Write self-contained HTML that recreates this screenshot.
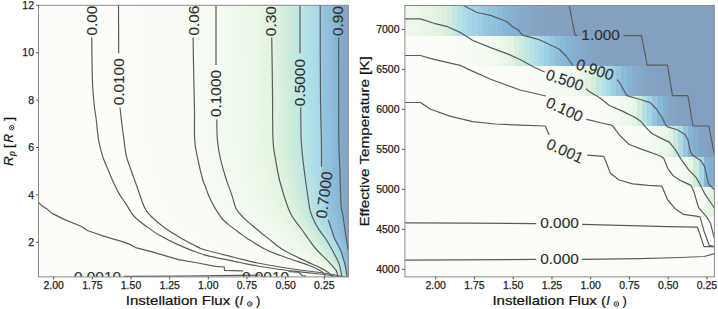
<!DOCTYPE html><html><head><meta charset="utf-8"><style>html,body{margin:0;padding:0;background:#fff;width:718px;height:309px;overflow:hidden}svg{display:block}</style></head><body><svg width="718" height="309" viewBox="0 0 718 309" font-family="'Liberation Sans', sans-serif"><defs><clipPath id="cl"><rect x="38.5" y="5.3" width="309.9" height="271.6"/></clipPath><clipPath id="cr"><rect x="404.9" y="5.5" width="309.5" height="271.4"/></clipPath><linearGradient id="gl0" gradientUnits="userSpaceOnUse" x1="38.50" y1="0" x2="348.40" y2="0"><stop offset="0.0000" stop-color="#fbfef8"/><stop offset="0.1710" stop-color="#fbfef8"/><stop offset="0.2582" stop-color="#fbfdf7"/><stop offset="0.4986" stop-color="#f8fcf5"/><stop offset="0.5728" stop-color="#f5fbf2"/><stop offset="0.6327" stop-color="#eff9ed"/><stop offset="0.6927" stop-color="#eaf7e6"/><stop offset="0.7527" stop-color="#e3f4e1"/><stop offset="0.7830" stop-color="#d8f0dc"/><stop offset="0.8134" stop-color="#cbebdd"/><stop offset="0.8438" stop-color="#bde6e2"/><stop offset="0.8759" stop-color="#b0dee6"/><stop offset="0.9080" stop-color="#a4d7e8"/><stop offset="0.9100" stop-color="#96c7df"/><stop offset="0.9387" stop-color="#8ebedb"/><stop offset="0.9674" stop-color="#86b6d7"/><stop offset="0.9693" stop-color="#84abcc"/><stop offset="1.0000" stop-color="#84a3c3"/></linearGradient><linearGradient id="gl1" gradientUnits="userSpaceOnUse" x1="38.50" y1="0" x2="348.40" y2="0"><stop offset="0.0000" stop-color="#fbfef8"/><stop offset="0.1711" stop-color="#fbfef8"/><stop offset="0.2582" stop-color="#fbfdf7"/><stop offset="0.4986" stop-color="#f8fcf5"/><stop offset="0.5728" stop-color="#f5fbf2"/><stop offset="0.6327" stop-color="#eff9ed"/><stop offset="0.6927" stop-color="#eaf7e6"/><stop offset="0.7527" stop-color="#e3f4e1"/><stop offset="0.7830" stop-color="#d8f0dc"/><stop offset="0.8134" stop-color="#cbebdd"/><stop offset="0.8438" stop-color="#bde6e2"/><stop offset="0.8759" stop-color="#b0dee6"/><stop offset="0.9081" stop-color="#a4d7e8"/><stop offset="0.9100" stop-color="#96c7df"/><stop offset="0.9387" stop-color="#8ebedb"/><stop offset="0.9674" stop-color="#86b6d7"/><stop offset="0.9693" stop-color="#84abcc"/><stop offset="1.0000" stop-color="#84a3c3"/></linearGradient><linearGradient id="gl2" gradientUnits="userSpaceOnUse" x1="38.50" y1="0" x2="348.40" y2="0"><stop offset="0.0000" stop-color="#fbfef8"/><stop offset="0.1711" stop-color="#fbfef8"/><stop offset="0.2582" stop-color="#fbfdf7"/><stop offset="0.4986" stop-color="#f8fcf5"/><stop offset="0.5728" stop-color="#f5fbf2"/><stop offset="0.6327" stop-color="#eff9ed"/><stop offset="0.6927" stop-color="#eaf7e6"/><stop offset="0.7527" stop-color="#e3f4e1"/><stop offset="0.7830" stop-color="#d8f0dc"/><stop offset="0.8134" stop-color="#cbebdd"/><stop offset="0.8438" stop-color="#bde6e2"/><stop offset="0.8760" stop-color="#b0dee6"/><stop offset="0.9081" stop-color="#a4d7e8"/><stop offset="0.9100" stop-color="#96c7df"/><stop offset="0.9387" stop-color="#8ebedb"/><stop offset="0.9674" stop-color="#86b6d7"/><stop offset="0.9693" stop-color="#84abcc"/><stop offset="1.0000" stop-color="#84a3c3"/></linearGradient><linearGradient id="gl3" gradientUnits="userSpaceOnUse" x1="38.50" y1="0" x2="348.40" y2="0"><stop offset="0.0000" stop-color="#fbfef8"/><stop offset="0.1712" stop-color="#fbfef8"/><stop offset="0.2582" stop-color="#fbfdf7"/><stop offset="0.4986" stop-color="#f8fcf5"/><stop offset="0.5728" stop-color="#f5fbf2"/><stop offset="0.6327" stop-color="#eff9ed"/><stop offset="0.6927" stop-color="#eaf7e6"/><stop offset="0.7527" stop-color="#e3f4e1"/><stop offset="0.7830" stop-color="#d8f0dc"/><stop offset="0.8134" stop-color="#cbebdd"/><stop offset="0.8438" stop-color="#bde6e2"/><stop offset="0.8760" stop-color="#b0dee6"/><stop offset="0.9081" stop-color="#a4d7e8"/><stop offset="0.9100" stop-color="#96c7df"/><stop offset="0.9387" stop-color="#8ebedb"/><stop offset="0.9674" stop-color="#86b6d7"/><stop offset="0.9693" stop-color="#84abcc"/><stop offset="1.0000" stop-color="#84a3c3"/></linearGradient><linearGradient id="gl4" gradientUnits="userSpaceOnUse" x1="38.50" y1="0" x2="348.40" y2="0"><stop offset="0.0000" stop-color="#fbfef8"/><stop offset="0.1712" stop-color="#fbfef8"/><stop offset="0.2583" stop-color="#fbfdf7"/><stop offset="0.4986" stop-color="#f8fcf5"/><stop offset="0.5728" stop-color="#f5fbf2"/><stop offset="0.6327" stop-color="#eff9ed"/><stop offset="0.6927" stop-color="#eaf7e6"/><stop offset="0.7527" stop-color="#e3f4e1"/><stop offset="0.7830" stop-color="#d8f0dc"/><stop offset="0.8134" stop-color="#cbebdd"/><stop offset="0.8438" stop-color="#bde6e2"/><stop offset="0.8760" stop-color="#b0dee6"/><stop offset="0.9081" stop-color="#a4d7e8"/><stop offset="0.9101" stop-color="#96c7df"/><stop offset="0.9387" stop-color="#8ebedb"/><stop offset="0.9674" stop-color="#86b6d7"/><stop offset="0.9693" stop-color="#84abcc"/><stop offset="1.0000" stop-color="#84a3c3"/></linearGradient><linearGradient id="gl5" gradientUnits="userSpaceOnUse" x1="38.50" y1="0" x2="348.40" y2="0"><stop offset="0.0000" stop-color="#fbfef8"/><stop offset="0.1713" stop-color="#fbfef8"/><stop offset="0.2583" stop-color="#fbfdf7"/><stop offset="0.4987" stop-color="#f8fcf5"/><stop offset="0.5728" stop-color="#f5fbf2"/><stop offset="0.6327" stop-color="#eff9ed"/><stop offset="0.6927" stop-color="#eaf7e6"/><stop offset="0.7527" stop-color="#e3f4e1"/><stop offset="0.7830" stop-color="#d8f0dc"/><stop offset="0.8134" stop-color="#cbebdd"/><stop offset="0.8438" stop-color="#bde6e2"/><stop offset="0.8760" stop-color="#b0dee6"/><stop offset="0.9081" stop-color="#a4d7e8"/><stop offset="0.9101" stop-color="#96c7df"/><stop offset="0.9387" stop-color="#8ebedb"/><stop offset="0.9674" stop-color="#86b6d7"/><stop offset="0.9693" stop-color="#84abcc"/><stop offset="1.0000" stop-color="#84a3c3"/></linearGradient><linearGradient id="gl6" gradientUnits="userSpaceOnUse" x1="38.50" y1="0" x2="348.40" y2="0"><stop offset="0.0000" stop-color="#fbfef8"/><stop offset="0.1713" stop-color="#fbfef8"/><stop offset="0.2583" stop-color="#fbfdf7"/><stop offset="0.4987" stop-color="#f8fcf5"/><stop offset="0.5728" stop-color="#f5fbf2"/><stop offset="0.6327" stop-color="#eff9ed"/><stop offset="0.6927" stop-color="#eaf7e6"/><stop offset="0.7527" stop-color="#e3f4e1"/><stop offset="0.7830" stop-color="#d8f0dc"/><stop offset="0.8134" stop-color="#cbebdd"/><stop offset="0.8438" stop-color="#bde6e2"/><stop offset="0.8760" stop-color="#b0dee6"/><stop offset="0.9082" stop-color="#a4d7e8"/><stop offset="0.9101" stop-color="#96c7df"/><stop offset="0.9388" stop-color="#8ebedb"/><stop offset="0.9674" stop-color="#86b6d7"/><stop offset="0.9693" stop-color="#84abcc"/><stop offset="1.0000" stop-color="#84a3c3"/></linearGradient><linearGradient id="gl7" gradientUnits="userSpaceOnUse" x1="38.50" y1="0" x2="348.40" y2="0"><stop offset="0.0000" stop-color="#fbfef8"/><stop offset="0.1714" stop-color="#fbfef8"/><stop offset="0.2583" stop-color="#fbfdf7"/><stop offset="0.4987" stop-color="#f8fcf5"/><stop offset="0.5728" stop-color="#f5fbf2"/><stop offset="0.6327" stop-color="#eff9ed"/><stop offset="0.6927" stop-color="#eaf7e6"/><stop offset="0.7527" stop-color="#e3f4e1"/><stop offset="0.7830" stop-color="#d8f0dc"/><stop offset="0.8134" stop-color="#cbebdd"/><stop offset="0.8438" stop-color="#bde6e2"/><stop offset="0.8760" stop-color="#b0dee6"/><stop offset="0.9082" stop-color="#a4d7e8"/><stop offset="0.9101" stop-color="#96c7df"/><stop offset="0.9388" stop-color="#8ebedb"/><stop offset="0.9674" stop-color="#86b6d7"/><stop offset="0.9693" stop-color="#84abcc"/><stop offset="1.0000" stop-color="#84a3c3"/></linearGradient><linearGradient id="gl8" gradientUnits="userSpaceOnUse" x1="38.50" y1="0" x2="348.40" y2="0"><stop offset="0.0000" stop-color="#fbfef8"/><stop offset="0.1714" stop-color="#fbfef8"/><stop offset="0.2584" stop-color="#fbfdf7"/><stop offset="0.4987" stop-color="#f8fcf5"/><stop offset="0.5728" stop-color="#f5fbf2"/><stop offset="0.6327" stop-color="#eff9ed"/><stop offset="0.6927" stop-color="#eaf7e6"/><stop offset="0.7527" stop-color="#e3f4e1"/><stop offset="0.7830" stop-color="#d8f0dc"/><stop offset="0.8134" stop-color="#cbebdd"/><stop offset="0.8438" stop-color="#bde6e2"/><stop offset="0.8760" stop-color="#b0dee6"/><stop offset="0.9082" stop-color="#a4d7e8"/><stop offset="0.9101" stop-color="#96c7df"/><stop offset="0.9388" stop-color="#8ebedb"/><stop offset="0.9674" stop-color="#86b6d7"/><stop offset="0.9693" stop-color="#84abcc"/><stop offset="1.0000" stop-color="#84a3c3"/></linearGradient><linearGradient id="gl9" gradientUnits="userSpaceOnUse" x1="38.50" y1="0" x2="348.40" y2="0"><stop offset="0.0000" stop-color="#fbfef8"/><stop offset="0.1715" stop-color="#fbfef8"/><stop offset="0.2584" stop-color="#fbfdf7"/><stop offset="0.4987" stop-color="#f8fcf5"/><stop offset="0.5728" stop-color="#f5fbf2"/><stop offset="0.6327" stop-color="#eff9ed"/><stop offset="0.6927" stop-color="#eaf7e6"/><stop offset="0.7527" stop-color="#e3f4e1"/><stop offset="0.7830" stop-color="#d8f0dc"/><stop offset="0.8134" stop-color="#cbebdd"/><stop offset="0.8438" stop-color="#bde6e2"/><stop offset="0.8760" stop-color="#b0dee6"/><stop offset="0.9082" stop-color="#a4d7e8"/><stop offset="0.9102" stop-color="#96c7df"/><stop offset="0.9388" stop-color="#8ebedb"/><stop offset="0.9674" stop-color="#86b6d7"/><stop offset="0.9693" stop-color="#84abcc"/><stop offset="1.0000" stop-color="#84a3c3"/></linearGradient><linearGradient id="gl10" gradientUnits="userSpaceOnUse" x1="38.50" y1="0" x2="348.40" y2="0"><stop offset="0.0000" stop-color="#fbfef8"/><stop offset="0.1715" stop-color="#fbfef8"/><stop offset="0.2584" stop-color="#fbfdf7"/><stop offset="0.4988" stop-color="#f8fcf5"/><stop offset="0.5728" stop-color="#f5fbf2"/><stop offset="0.6327" stop-color="#eff9ed"/><stop offset="0.6927" stop-color="#eaf7e6"/><stop offset="0.7527" stop-color="#e3f4e1"/><stop offset="0.7830" stop-color="#d8f0dc"/><stop offset="0.8134" stop-color="#cbebdd"/><stop offset="0.8438" stop-color="#bde6e2"/><stop offset="0.8760" stop-color="#b0dee6"/><stop offset="0.9082" stop-color="#a4d7e8"/><stop offset="0.9102" stop-color="#96c7df"/><stop offset="0.9388" stop-color="#8ebedb"/><stop offset="0.9674" stop-color="#86b6d7"/><stop offset="0.9693" stop-color="#84abcc"/><stop offset="1.0000" stop-color="#84a3c3"/></linearGradient><linearGradient id="gl11" gradientUnits="userSpaceOnUse" x1="38.50" y1="0" x2="348.40" y2="0"><stop offset="0.0000" stop-color="#fbfef8"/><stop offset="0.1716" stop-color="#fbfef8"/><stop offset="0.2585" stop-color="#fbfdf7"/><stop offset="0.4988" stop-color="#f8fcf5"/><stop offset="0.5728" stop-color="#f5fbf2"/><stop offset="0.6327" stop-color="#eff9ed"/><stop offset="0.6927" stop-color="#eaf7e6"/><stop offset="0.7527" stop-color="#e3f4e1"/><stop offset="0.7830" stop-color="#d8f0dc"/><stop offset="0.8134" stop-color="#cbebdd"/><stop offset="0.8438" stop-color="#bde6e2"/><stop offset="0.8760" stop-color="#b0dee6"/><stop offset="0.9083" stop-color="#a4d7e8"/><stop offset="0.9102" stop-color="#96c7df"/><stop offset="0.9388" stop-color="#8ebedb"/><stop offset="0.9674" stop-color="#86b6d7"/><stop offset="0.9693" stop-color="#84abcc"/><stop offset="1.0000" stop-color="#84a3c3"/></linearGradient><linearGradient id="gl12" gradientUnits="userSpaceOnUse" x1="38.50" y1="0" x2="348.40" y2="0"><stop offset="0.0000" stop-color="#fbfef8"/><stop offset="0.1716" stop-color="#fbfef8"/><stop offset="0.2585" stop-color="#fbfdf7"/><stop offset="0.4988" stop-color="#f8fcf5"/><stop offset="0.5728" stop-color="#f5fbf2"/><stop offset="0.6327" stop-color="#eff9ed"/><stop offset="0.6927" stop-color="#eaf7e6"/><stop offset="0.7527" stop-color="#e3f4e1"/><stop offset="0.7830" stop-color="#d8f0dc"/><stop offset="0.8134" stop-color="#cbebdd"/><stop offset="0.8438" stop-color="#bde6e2"/><stop offset="0.8761" stop-color="#b0dee6"/><stop offset="0.9083" stop-color="#a4d7e8"/><stop offset="0.9102" stop-color="#96c7df"/><stop offset="0.9388" stop-color="#8ebedb"/><stop offset="0.9674" stop-color="#86b6d7"/><stop offset="0.9693" stop-color="#84abcc"/><stop offset="1.0000" stop-color="#84a3c3"/></linearGradient><linearGradient id="gl13" gradientUnits="userSpaceOnUse" x1="38.50" y1="0" x2="348.40" y2="0"><stop offset="0.0000" stop-color="#fbfef8"/><stop offset="0.1717" stop-color="#fbfef8"/><stop offset="0.2585" stop-color="#fbfdf7"/><stop offset="0.4988" stop-color="#f8fcf5"/><stop offset="0.5728" stop-color="#f5fbf2"/><stop offset="0.6327" stop-color="#eff9ed"/><stop offset="0.6927" stop-color="#eaf7e6"/><stop offset="0.7527" stop-color="#e3f4e1"/><stop offset="0.7830" stop-color="#d8f0dc"/><stop offset="0.8134" stop-color="#cbebdd"/><stop offset="0.8438" stop-color="#bde6e2"/><stop offset="0.8761" stop-color="#b0dee6"/><stop offset="0.9083" stop-color="#a4d7e8"/><stop offset="0.9102" stop-color="#96c7df"/><stop offset="0.9388" stop-color="#8ebedb"/><stop offset="0.9674" stop-color="#86b6d7"/><stop offset="0.9693" stop-color="#84abcc"/><stop offset="1.0000" stop-color="#84a3c3"/></linearGradient><linearGradient id="gl14" gradientUnits="userSpaceOnUse" x1="38.50" y1="0" x2="348.40" y2="0"><stop offset="0.0000" stop-color="#fbfef8"/><stop offset="0.1717" stop-color="#fbfef8"/><stop offset="0.2585" stop-color="#fbfdf7"/><stop offset="0.4988" stop-color="#f8fcf5"/><stop offset="0.5728" stop-color="#f5fbf2"/><stop offset="0.6327" stop-color="#eff9ed"/><stop offset="0.6927" stop-color="#eaf7e6"/><stop offset="0.7527" stop-color="#e3f4e1"/><stop offset="0.7830" stop-color="#d8f0dc"/><stop offset="0.8134" stop-color="#cbebdd"/><stop offset="0.8438" stop-color="#bde6e2"/><stop offset="0.8761" stop-color="#b0dee6"/><stop offset="0.9083" stop-color="#a4d7e8"/><stop offset="0.9103" stop-color="#96c7df"/><stop offset="0.9388" stop-color="#8ebedb"/><stop offset="0.9674" stop-color="#86b6d7"/><stop offset="0.9693" stop-color="#84abcc"/><stop offset="1.0000" stop-color="#84a3c3"/></linearGradient><linearGradient id="gl15" gradientUnits="userSpaceOnUse" x1="38.50" y1="0" x2="348.40" y2="0"><stop offset="0.0000" stop-color="#fbfef8"/><stop offset="0.1718" stop-color="#fbfef8"/><stop offset="0.2586" stop-color="#fbfdf7"/><stop offset="0.4989" stop-color="#f8fcf5"/><stop offset="0.5728" stop-color="#f5fbf2"/><stop offset="0.6327" stop-color="#eff9ed"/><stop offset="0.6927" stop-color="#eaf7e6"/><stop offset="0.7527" stop-color="#e3f4e1"/><stop offset="0.7830" stop-color="#d8f0dc"/><stop offset="0.8134" stop-color="#cbebdd"/><stop offset="0.8438" stop-color="#bde6e2"/><stop offset="0.8761" stop-color="#b0dee6"/><stop offset="0.9083" stop-color="#a4d7e8"/><stop offset="0.9103" stop-color="#96c7df"/><stop offset="0.9388" stop-color="#8ebedb"/><stop offset="0.9674" stop-color="#86b6d7"/><stop offset="0.9693" stop-color="#84abcc"/><stop offset="1.0000" stop-color="#84a3c3"/></linearGradient><linearGradient id="gl16" gradientUnits="userSpaceOnUse" x1="38.50" y1="0" x2="348.40" y2="0"><stop offset="0.0000" stop-color="#fbfef8"/><stop offset="0.1718" stop-color="#fbfef8"/><stop offset="0.2586" stop-color="#fbfdf7"/><stop offset="0.4989" stop-color="#f8fcf5"/><stop offset="0.5728" stop-color="#f5fbf2"/><stop offset="0.6327" stop-color="#eff9ed"/><stop offset="0.6927" stop-color="#eaf7e6"/><stop offset="0.7527" stop-color="#e3f4e1"/><stop offset="0.7831" stop-color="#d8f0dc"/><stop offset="0.8134" stop-color="#cbebdd"/><stop offset="0.8438" stop-color="#bde6e2"/><stop offset="0.8761" stop-color="#b0dee6"/><stop offset="0.9084" stop-color="#a4d7e8"/><stop offset="0.9103" stop-color="#96c7df"/><stop offset="0.9389" stop-color="#8ebedb"/><stop offset="0.9674" stop-color="#86b6d7"/><stop offset="0.9693" stop-color="#84abcc"/><stop offset="1.0000" stop-color="#84a3c3"/></linearGradient><linearGradient id="gl17" gradientUnits="userSpaceOnUse" x1="38.50" y1="0" x2="348.40" y2="0"><stop offset="0.0000" stop-color="#fbfef8"/><stop offset="0.1719" stop-color="#fbfef8"/><stop offset="0.2586" stop-color="#fbfdf7"/><stop offset="0.4990" stop-color="#f8fcf5"/><stop offset="0.5728" stop-color="#f5fbf2"/><stop offset="0.6328" stop-color="#eff9ed"/><stop offset="0.6928" stop-color="#eaf7e6"/><stop offset="0.7528" stop-color="#e3f4e1"/><stop offset="0.7831" stop-color="#d8f0dc"/><stop offset="0.8135" stop-color="#cbebdd"/><stop offset="0.8438" stop-color="#bde6e2"/><stop offset="0.8761" stop-color="#b0dee6"/><stop offset="0.9084" stop-color="#a4d7e8"/><stop offset="0.9103" stop-color="#96c7df"/><stop offset="0.9389" stop-color="#8ebedb"/><stop offset="0.9674" stop-color="#86b6d7"/><stop offset="0.9694" stop-color="#84abcc"/><stop offset="1.0000" stop-color="#84a3c3"/></linearGradient><linearGradient id="gl18" gradientUnits="userSpaceOnUse" x1="38.50" y1="0" x2="348.40" y2="0"><stop offset="0.0000" stop-color="#fbfef8"/><stop offset="0.1720" stop-color="#fbfef8"/><stop offset="0.2586" stop-color="#fbfdf7"/><stop offset="0.4991" stop-color="#f8fcf5"/><stop offset="0.5728" stop-color="#f5fbf2"/><stop offset="0.6328" stop-color="#eff9ed"/><stop offset="0.6928" stop-color="#eaf7e6"/><stop offset="0.7529" stop-color="#e3f4e1"/><stop offset="0.7832" stop-color="#d8f0dc"/><stop offset="0.8135" stop-color="#cbebdd"/><stop offset="0.8438" stop-color="#bde6e2"/><stop offset="0.8761" stop-color="#b0dee6"/><stop offset="0.9084" stop-color="#a4d7e8"/><stop offset="0.9103" stop-color="#96c7df"/><stop offset="0.9389" stop-color="#8ebedb"/><stop offset="0.9674" stop-color="#86b6d7"/><stop offset="0.9694" stop-color="#84abcc"/><stop offset="1.0000" stop-color="#84a3c3"/></linearGradient><linearGradient id="gl19" gradientUnits="userSpaceOnUse" x1="38.50" y1="0" x2="348.40" y2="0"><stop offset="0.0000" stop-color="#fbfef8"/><stop offset="0.1721" stop-color="#fbfef8"/><stop offset="0.2587" stop-color="#fbfdf7"/><stop offset="0.4992" stop-color="#f8fcf5"/><stop offset="0.5728" stop-color="#f5fbf2"/><stop offset="0.6328" stop-color="#eff9ed"/><stop offset="0.6929" stop-color="#eaf7e6"/><stop offset="0.7530" stop-color="#e3f4e1"/><stop offset="0.7832" stop-color="#d8f0dc"/><stop offset="0.8135" stop-color="#cbebdd"/><stop offset="0.8438" stop-color="#bde6e2"/><stop offset="0.8761" stop-color="#b0dee6"/><stop offset="0.9084" stop-color="#a4d7e8"/><stop offset="0.9104" stop-color="#96c7df"/><stop offset="0.9389" stop-color="#8ebedb"/><stop offset="0.9674" stop-color="#86b6d7"/><stop offset="0.9694" stop-color="#84abcc"/><stop offset="1.0000" stop-color="#84a3c3"/></linearGradient><linearGradient id="gl20" gradientUnits="userSpaceOnUse" x1="38.50" y1="0" x2="348.40" y2="0"><stop offset="0.0000" stop-color="#fbfef8"/><stop offset="0.1721" stop-color="#fbfef8"/><stop offset="0.2587" stop-color="#fbfdf7"/><stop offset="0.4993" stop-color="#f8fcf5"/><stop offset="0.5728" stop-color="#f5fbf2"/><stop offset="0.6329" stop-color="#eff9ed"/><stop offset="0.6930" stop-color="#eaf7e6"/><stop offset="0.7531" stop-color="#e3f4e1"/><stop offset="0.7833" stop-color="#d8f0dc"/><stop offset="0.8136" stop-color="#cbebdd"/><stop offset="0.8438" stop-color="#bde6e2"/><stop offset="0.8761" stop-color="#b0dee6"/><stop offset="0.9085" stop-color="#a4d7e8"/><stop offset="0.9104" stop-color="#96c7df"/><stop offset="0.9389" stop-color="#8ebedb"/><stop offset="0.9675" stop-color="#86b6d7"/><stop offset="0.9694" stop-color="#84abcc"/><stop offset="1.0000" stop-color="#84a3c3"/></linearGradient><linearGradient id="gl21" gradientUnits="userSpaceOnUse" x1="38.50" y1="0" x2="348.40" y2="0"><stop offset="0.0000" stop-color="#fbfef8"/><stop offset="0.1722" stop-color="#fbfef8"/><stop offset="0.2587" stop-color="#fbfdf7"/><stop offset="0.4994" stop-color="#f8fcf5"/><stop offset="0.5728" stop-color="#f5fbf2"/><stop offset="0.6329" stop-color="#eff9ed"/><stop offset="0.6930" stop-color="#eaf7e6"/><stop offset="0.7531" stop-color="#e3f4e1"/><stop offset="0.7834" stop-color="#d8f0dc"/><stop offset="0.8136" stop-color="#cbebdd"/><stop offset="0.8438" stop-color="#bde6e2"/><stop offset="0.8761" stop-color="#b0dee6"/><stop offset="0.9085" stop-color="#a4d7e8"/><stop offset="0.9104" stop-color="#96c7df"/><stop offset="0.9389" stop-color="#8ebedb"/><stop offset="0.9675" stop-color="#86b6d7"/><stop offset="0.9694" stop-color="#84abcc"/><stop offset="1.0000" stop-color="#84a3c3"/></linearGradient><linearGradient id="gl22" gradientUnits="userSpaceOnUse" x1="38.50" y1="0" x2="348.40" y2="0"><stop offset="0.0000" stop-color="#fbfef8"/><stop offset="0.1723" stop-color="#fbfef8"/><stop offset="0.2587" stop-color="#fbfdf7"/><stop offset="0.4995" stop-color="#f8fcf5"/><stop offset="0.5728" stop-color="#f5fbf2"/><stop offset="0.6329" stop-color="#eff9ed"/><stop offset="0.6931" stop-color="#eaf7e6"/><stop offset="0.7532" stop-color="#e3f4e1"/><stop offset="0.7834" stop-color="#d8f0dc"/><stop offset="0.8136" stop-color="#cbebdd"/><stop offset="0.8438" stop-color="#bde6e2"/><stop offset="0.8762" stop-color="#b0dee6"/><stop offset="0.9085" stop-color="#a4d7e8"/><stop offset="0.9104" stop-color="#96c7df"/><stop offset="0.9390" stop-color="#8ebedb"/><stop offset="0.9675" stop-color="#86b6d7"/><stop offset="0.9694" stop-color="#84abcc"/><stop offset="1.0000" stop-color="#84a3c3"/></linearGradient><linearGradient id="gl23" gradientUnits="userSpaceOnUse" x1="38.50" y1="0" x2="348.40" y2="0"><stop offset="0.0000" stop-color="#fbfef8"/><stop offset="0.1723" stop-color="#fbfef8"/><stop offset="0.2588" stop-color="#fbfdf7"/><stop offset="0.4996" stop-color="#f8fcf5"/><stop offset="0.5728" stop-color="#f5fbf2"/><stop offset="0.6330" stop-color="#eff9ed"/><stop offset="0.6931" stop-color="#eaf7e6"/><stop offset="0.7533" stop-color="#e3f4e1"/><stop offset="0.7835" stop-color="#d8f0dc"/><stop offset="0.8137" stop-color="#cbebdd"/><stop offset="0.8438" stop-color="#bde6e2"/><stop offset="0.8762" stop-color="#b0dee6"/><stop offset="0.9085" stop-color="#a4d7e8"/><stop offset="0.9104" stop-color="#96c7df"/><stop offset="0.9390" stop-color="#8ebedb"/><stop offset="0.9675" stop-color="#86b6d7"/><stop offset="0.9694" stop-color="#84abcc"/><stop offset="1.0000" stop-color="#84a3c3"/></linearGradient><linearGradient id="gl24" gradientUnits="userSpaceOnUse" x1="38.50" y1="0" x2="348.40" y2="0"><stop offset="0.0000" stop-color="#fbfef8"/><stop offset="0.1724" stop-color="#fbfef8"/><stop offset="0.2589" stop-color="#fbfdf7"/><stop offset="0.4997" stop-color="#f8fcf5"/><stop offset="0.5728" stop-color="#f5fbf2"/><stop offset="0.6330" stop-color="#eff9ed"/><stop offset="0.6932" stop-color="#eaf7e6"/><stop offset="0.7534" stop-color="#e3f4e1"/><stop offset="0.7836" stop-color="#d8f0dc"/><stop offset="0.8137" stop-color="#cbebdd"/><stop offset="0.8439" stop-color="#bde6e2"/><stop offset="0.8762" stop-color="#b0dee6"/><stop offset="0.9085" stop-color="#a4d7e8"/><stop offset="0.9105" stop-color="#96c7df"/><stop offset="0.9390" stop-color="#8ebedb"/><stop offset="0.9675" stop-color="#86b6d7"/><stop offset="0.9694" stop-color="#84abcc"/><stop offset="1.0000" stop-color="#84a3c3"/></linearGradient><linearGradient id="gl25" gradientUnits="userSpaceOnUse" x1="38.50" y1="0" x2="348.40" y2="0"><stop offset="0.0000" stop-color="#fbfef8"/><stop offset="0.1725" stop-color="#fbfef8"/><stop offset="0.2590" stop-color="#fbfdf7"/><stop offset="0.4998" stop-color="#f8fcf5"/><stop offset="0.5728" stop-color="#f5fbf2"/><stop offset="0.6330" stop-color="#eff9ed"/><stop offset="0.6933" stop-color="#eaf7e6"/><stop offset="0.7535" stop-color="#e3f4e1"/><stop offset="0.7837" stop-color="#d8f0dc"/><stop offset="0.8138" stop-color="#cbebdd"/><stop offset="0.8439" stop-color="#bde6e2"/><stop offset="0.8762" stop-color="#b0dee6"/><stop offset="0.9086" stop-color="#a4d7e8"/><stop offset="0.9105" stop-color="#96c7df"/><stop offset="0.9390" stop-color="#8ebedb"/><stop offset="0.9675" stop-color="#86b6d7"/><stop offset="0.9694" stop-color="#84abcc"/><stop offset="1.0000" stop-color="#84a3c3"/></linearGradient><linearGradient id="gl26" gradientUnits="userSpaceOnUse" x1="38.50" y1="0" x2="348.40" y2="0"><stop offset="0.0000" stop-color="#fbfef8"/><stop offset="0.1726" stop-color="#fbfef8"/><stop offset="0.2592" stop-color="#fbfdf7"/><stop offset="0.4999" stop-color="#f8fcf5"/><stop offset="0.5728" stop-color="#f5fbf2"/><stop offset="0.6330" stop-color="#eff9ed"/><stop offset="0.6933" stop-color="#eaf7e6"/><stop offset="0.7536" stop-color="#e3f4e1"/><stop offset="0.7837" stop-color="#d8f0dc"/><stop offset="0.8139" stop-color="#cbebdd"/><stop offset="0.8440" stop-color="#bde6e2"/><stop offset="0.8763" stop-color="#b0dee6"/><stop offset="0.9086" stop-color="#a4d7e8"/><stop offset="0.9105" stop-color="#96c7df"/><stop offset="0.9390" stop-color="#8ebedb"/><stop offset="0.9675" stop-color="#86b6d7"/><stop offset="0.9695" stop-color="#84abcc"/><stop offset="1.0000" stop-color="#84a3c3"/></linearGradient><linearGradient id="gl27" gradientUnits="userSpaceOnUse" x1="38.50" y1="0" x2="348.40" y2="0"><stop offset="0.0000" stop-color="#fbfef8"/><stop offset="0.1726" stop-color="#fbfef8"/><stop offset="0.2593" stop-color="#fbfdf7"/><stop offset="0.5000" stop-color="#f8fcf5"/><stop offset="0.5728" stop-color="#f5fbf2"/><stop offset="0.6331" stop-color="#eff9ed"/><stop offset="0.6934" stop-color="#eaf7e6"/><stop offset="0.7537" stop-color="#e3f4e1"/><stop offset="0.7838" stop-color="#d8f0dc"/><stop offset="0.8140" stop-color="#cbebdd"/><stop offset="0.8441" stop-color="#bde6e2"/><stop offset="0.8764" stop-color="#b0dee6"/><stop offset="0.9086" stop-color="#a4d7e8"/><stop offset="0.9105" stop-color="#96c7df"/><stop offset="0.9390" stop-color="#8ebedb"/><stop offset="0.9675" stop-color="#86b6d7"/><stop offset="0.9695" stop-color="#84abcc"/><stop offset="1.0000" stop-color="#84a3c3"/></linearGradient><linearGradient id="gl28" gradientUnits="userSpaceOnUse" x1="38.50" y1="0" x2="348.40" y2="0"><stop offset="0.0000" stop-color="#fbfef8"/><stop offset="0.1728" stop-color="#fbfef8"/><stop offset="0.2595" stop-color="#fbfdf7"/><stop offset="0.5001" stop-color="#f8fcf5"/><stop offset="0.5728" stop-color="#f5fbf2"/><stop offset="0.6331" stop-color="#eff9ed"/><stop offset="0.6934" stop-color="#eaf7e6"/><stop offset="0.7538" stop-color="#e3f4e1"/><stop offset="0.7839" stop-color="#d8f0dc"/><stop offset="0.8141" stop-color="#cbebdd"/><stop offset="0.8442" stop-color="#bde6e2"/><stop offset="0.8764" stop-color="#b0dee6"/><stop offset="0.9086" stop-color="#a4d7e8"/><stop offset="0.9106" stop-color="#96c7df"/><stop offset="0.9390" stop-color="#8ebedb"/><stop offset="0.9675" stop-color="#86b6d7"/><stop offset="0.9695" stop-color="#84abcc"/><stop offset="1.0000" stop-color="#84a3c3"/></linearGradient><linearGradient id="gl29" gradientUnits="userSpaceOnUse" x1="38.50" y1="0" x2="348.40" y2="0"><stop offset="0.0000" stop-color="#fbfef8"/><stop offset="0.1729" stop-color="#fbfef8"/><stop offset="0.2596" stop-color="#fbfdf7"/><stop offset="0.5002" stop-color="#f8fcf5"/><stop offset="0.5728" stop-color="#f5fbf2"/><stop offset="0.6331" stop-color="#eff9ed"/><stop offset="0.6935" stop-color="#eaf7e6"/><stop offset="0.7539" stop-color="#e3f4e1"/><stop offset="0.7840" stop-color="#d8f0dc"/><stop offset="0.8142" stop-color="#cbebdd"/><stop offset="0.8443" stop-color="#bde6e2"/><stop offset="0.8765" stop-color="#b0dee6"/><stop offset="0.9086" stop-color="#a4d7e8"/><stop offset="0.9106" stop-color="#96c7df"/><stop offset="0.9391" stop-color="#8ebedb"/><stop offset="0.9675" stop-color="#86b6d7"/><stop offset="0.9695" stop-color="#84abcc"/><stop offset="1.0000" stop-color="#84a3c3"/></linearGradient><linearGradient id="gl30" gradientUnits="userSpaceOnUse" x1="38.50" y1="0" x2="348.40" y2="0"><stop offset="0.0000" stop-color="#fbfef8"/><stop offset="0.1730" stop-color="#fbfef8"/><stop offset="0.2598" stop-color="#fbfdf7"/><stop offset="0.5003" stop-color="#f8fcf5"/><stop offset="0.5728" stop-color="#f5fbf2"/><stop offset="0.6332" stop-color="#eff9ed"/><stop offset="0.6936" stop-color="#eaf7e6"/><stop offset="0.7540" stop-color="#e3f4e1"/><stop offset="0.7841" stop-color="#d8f0dc"/><stop offset="0.8143" stop-color="#cbebdd"/><stop offset="0.8444" stop-color="#bde6e2"/><stop offset="0.8765" stop-color="#b0dee6"/><stop offset="0.9087" stop-color="#a4d7e8"/><stop offset="0.9106" stop-color="#96c7df"/><stop offset="0.9391" stop-color="#8ebedb"/><stop offset="0.9676" stop-color="#86b6d7"/><stop offset="0.9695" stop-color="#84abcc"/><stop offset="1.0000" stop-color="#84a3c3"/></linearGradient><linearGradient id="gl31" gradientUnits="userSpaceOnUse" x1="38.50" y1="0" x2="348.40" y2="0"><stop offset="0.0000" stop-color="#fbfef8"/><stop offset="0.1732" stop-color="#fbfef8"/><stop offset="0.2599" stop-color="#fbfdf7"/><stop offset="0.5004" stop-color="#f8fcf5"/><stop offset="0.5729" stop-color="#f5fbf2"/><stop offset="0.6333" stop-color="#eff9ed"/><stop offset="0.6937" stop-color="#eaf7e6"/><stop offset="0.7541" stop-color="#e3f4e1"/><stop offset="0.7842" stop-color="#d8f0dc"/><stop offset="0.8143" stop-color="#cbebdd"/><stop offset="0.8445" stop-color="#bde6e2"/><stop offset="0.8766" stop-color="#b0dee6"/><stop offset="0.9087" stop-color="#a4d7e8"/><stop offset="0.9106" stop-color="#96c7df"/><stop offset="0.9391" stop-color="#8ebedb"/><stop offset="0.9676" stop-color="#86b6d7"/><stop offset="0.9695" stop-color="#84abcc"/><stop offset="1.0000" stop-color="#84a3c3"/></linearGradient><linearGradient id="gl32" gradientUnits="userSpaceOnUse" x1="38.50" y1="0" x2="348.40" y2="0"><stop offset="0.0000" stop-color="#fbfef8"/><stop offset="0.1733" stop-color="#fbfef8"/><stop offset="0.2601" stop-color="#fbfdf7"/><stop offset="0.5005" stop-color="#f8fcf5"/><stop offset="0.5730" stop-color="#f5fbf2"/><stop offset="0.6334" stop-color="#eff9ed"/><stop offset="0.6938" stop-color="#eaf7e6"/><stop offset="0.7542" stop-color="#e3f4e1"/><stop offset="0.7843" stop-color="#d8f0dc"/><stop offset="0.8144" stop-color="#cbebdd"/><stop offset="0.8446" stop-color="#bde6e2"/><stop offset="0.8766" stop-color="#b0dee6"/><stop offset="0.9087" stop-color="#a4d7e8"/><stop offset="0.9106" stop-color="#96c7df"/><stop offset="0.9391" stop-color="#8ebedb"/><stop offset="0.9676" stop-color="#86b6d7"/><stop offset="0.9695" stop-color="#84abcc"/><stop offset="1.0000" stop-color="#84a3c3"/></linearGradient><linearGradient id="gl33" gradientUnits="userSpaceOnUse" x1="38.50" y1="0" x2="348.40" y2="0"><stop offset="0.0000" stop-color="#fbfef8"/><stop offset="0.1734" stop-color="#fbfef8"/><stop offset="0.2602" stop-color="#fbfdf7"/><stop offset="0.5006" stop-color="#f8fcf5"/><stop offset="0.5731" stop-color="#f5fbf2"/><stop offset="0.6335" stop-color="#eff9ed"/><stop offset="0.6939" stop-color="#eaf7e6"/><stop offset="0.7543" stop-color="#e3f4e1"/><stop offset="0.7844" stop-color="#d8f0dc"/><stop offset="0.8145" stop-color="#cbebdd"/><stop offset="0.8447" stop-color="#bde6e2"/><stop offset="0.8767" stop-color="#b0dee6"/><stop offset="0.9087" stop-color="#a4d7e8"/><stop offset="0.9107" stop-color="#96c7df"/><stop offset="0.9391" stop-color="#8ebedb"/><stop offset="0.9676" stop-color="#86b6d7"/><stop offset="0.9695" stop-color="#84abcc"/><stop offset="1.0000" stop-color="#84a3c3"/></linearGradient><linearGradient id="gl34" gradientUnits="userSpaceOnUse" x1="38.50" y1="0" x2="348.40" y2="0"><stop offset="0.0000" stop-color="#fbfef8"/><stop offset="0.1735" stop-color="#fbfef8"/><stop offset="0.2604" stop-color="#fbfdf7"/><stop offset="0.5008" stop-color="#f8fcf5"/><stop offset="0.5732" stop-color="#f5fbf2"/><stop offset="0.6336" stop-color="#eff9ed"/><stop offset="0.6940" stop-color="#eaf7e6"/><stop offset="0.7543" stop-color="#e3f4e1"/><stop offset="0.7845" stop-color="#d8f0dc"/><stop offset="0.8146" stop-color="#cbebdd"/><stop offset="0.8447" stop-color="#bde6e2"/><stop offset="0.8767" stop-color="#b0dee6"/><stop offset="0.9087" stop-color="#a4d7e8"/><stop offset="0.9107" stop-color="#96c7df"/><stop offset="0.9391" stop-color="#8ebedb"/><stop offset="0.9676" stop-color="#86b6d7"/><stop offset="0.9695" stop-color="#84abcc"/><stop offset="1.0000" stop-color="#84a3c3"/></linearGradient><linearGradient id="gl35" gradientUnits="userSpaceOnUse" x1="38.50" y1="0" x2="348.40" y2="0"><stop offset="0.0000" stop-color="#fbfef8"/><stop offset="0.1737" stop-color="#fbfef8"/><stop offset="0.2606" stop-color="#fbfdf7"/><stop offset="0.5009" stop-color="#f8fcf5"/><stop offset="0.5733" stop-color="#f5fbf2"/><stop offset="0.6337" stop-color="#eff9ed"/><stop offset="0.6941" stop-color="#eaf7e6"/><stop offset="0.7544" stop-color="#e3f4e1"/><stop offset="0.7846" stop-color="#d8f0dc"/><stop offset="0.8147" stop-color="#cbebdd"/><stop offset="0.8448" stop-color="#bde6e2"/><stop offset="0.8768" stop-color="#b0dee6"/><stop offset="0.9088" stop-color="#a4d7e8"/><stop offset="0.9107" stop-color="#96c7df"/><stop offset="0.9392" stop-color="#8ebedb"/><stop offset="0.9676" stop-color="#86b6d7"/><stop offset="0.9695" stop-color="#84abcc"/><stop offset="1.0000" stop-color="#84a3c3"/></linearGradient><linearGradient id="gl36" gradientUnits="userSpaceOnUse" x1="38.50" y1="0" x2="348.40" y2="0"><stop offset="0.0000" stop-color="#fbfef8"/><stop offset="0.1738" stop-color="#fbfef8"/><stop offset="0.2607" stop-color="#fbfdf7"/><stop offset="0.5011" stop-color="#f8fcf5"/><stop offset="0.5734" stop-color="#f5fbf2"/><stop offset="0.6338" stop-color="#eff9ed"/><stop offset="0.6941" stop-color="#eaf7e6"/><stop offset="0.7545" stop-color="#e3f4e1"/><stop offset="0.7847" stop-color="#d8f0dc"/><stop offset="0.8148" stop-color="#cbebdd"/><stop offset="0.8449" stop-color="#bde6e2"/><stop offset="0.8769" stop-color="#b0dee6"/><stop offset="0.9088" stop-color="#a4d7e8"/><stop offset="0.9107" stop-color="#96c7df"/><stop offset="0.9392" stop-color="#8ebedb"/><stop offset="0.9676" stop-color="#86b6d7"/><stop offset="0.9696" stop-color="#84abcc"/><stop offset="1.0000" stop-color="#84a3c3"/></linearGradient><linearGradient id="gl37" gradientUnits="userSpaceOnUse" x1="38.50" y1="0" x2="348.40" y2="0"><stop offset="0.0000" stop-color="#fbfef8"/><stop offset="0.1739" stop-color="#fbfef8"/><stop offset="0.2609" stop-color="#fbfdf7"/><stop offset="0.5012" stop-color="#f8fcf5"/><stop offset="0.5735" stop-color="#f5fbf2"/><stop offset="0.6339" stop-color="#eff9ed"/><stop offset="0.6942" stop-color="#eaf7e6"/><stop offset="0.7546" stop-color="#e3f4e1"/><stop offset="0.7848" stop-color="#d8f0dc"/><stop offset="0.8149" stop-color="#cbebdd"/><stop offset="0.8450" stop-color="#bde6e2"/><stop offset="0.8769" stop-color="#b0dee6"/><stop offset="0.9088" stop-color="#a4d7e8"/><stop offset="0.9107" stop-color="#96c7df"/><stop offset="0.9392" stop-color="#8ebedb"/><stop offset="0.9676" stop-color="#86b6d7"/><stop offset="0.9696" stop-color="#84abcc"/><stop offset="1.0000" stop-color="#84a3c3"/></linearGradient><linearGradient id="gl38" gradientUnits="userSpaceOnUse" x1="38.50" y1="0" x2="348.40" y2="0"><stop offset="0.0000" stop-color="#fbfef8"/><stop offset="0.1743" stop-color="#fbfef8"/><stop offset="0.2610" stop-color="#fbfdf7"/><stop offset="0.5014" stop-color="#f8fcf5"/><stop offset="0.5736" stop-color="#f5fbf2"/><stop offset="0.6340" stop-color="#eff9ed"/><stop offset="0.6943" stop-color="#eaf7e6"/><stop offset="0.7547" stop-color="#e3f4e1"/><stop offset="0.7848" stop-color="#d8f0dc"/><stop offset="0.8150" stop-color="#cbebdd"/><stop offset="0.8451" stop-color="#bde6e2"/><stop offset="0.8770" stop-color="#b0dee6"/><stop offset="0.9088" stop-color="#a4d7e8"/><stop offset="0.9108" stop-color="#96c7df"/><stop offset="0.9392" stop-color="#8ebedb"/><stop offset="0.9676" stop-color="#86b6d7"/><stop offset="0.9696" stop-color="#84abcc"/><stop offset="1.0000" stop-color="#84a3c3"/></linearGradient><linearGradient id="gl39" gradientUnits="userSpaceOnUse" x1="38.50" y1="0" x2="348.40" y2="0"><stop offset="0.0000" stop-color="#fbfef8"/><stop offset="0.1747" stop-color="#fbfef8"/><stop offset="0.2612" stop-color="#fbfdf7"/><stop offset="0.5015" stop-color="#f8fcf5"/><stop offset="0.5737" stop-color="#f5fbf2"/><stop offset="0.6340" stop-color="#eff9ed"/><stop offset="0.6944" stop-color="#eaf7e6"/><stop offset="0.7548" stop-color="#e3f4e1"/><stop offset="0.7849" stop-color="#d8f0dc"/><stop offset="0.8151" stop-color="#cbebdd"/><stop offset="0.8452" stop-color="#bde6e2"/><stop offset="0.8770" stop-color="#b0dee6"/><stop offset="0.9088" stop-color="#a4d7e8"/><stop offset="0.9108" stop-color="#96c7df"/><stop offset="0.9392" stop-color="#8ebedb"/><stop offset="0.9676" stop-color="#86b6d7"/><stop offset="0.9696" stop-color="#84abcc"/><stop offset="1.0000" stop-color="#84a3c3"/></linearGradient><linearGradient id="gl40" gradientUnits="userSpaceOnUse" x1="38.50" y1="0" x2="348.40" y2="0"><stop offset="0.0000" stop-color="#fbfef8"/><stop offset="0.1751" stop-color="#fbfef8"/><stop offset="0.2613" stop-color="#fbfdf7"/><stop offset="0.5016" stop-color="#f8fcf5"/><stop offset="0.5738" stop-color="#f5fbf2"/><stop offset="0.6341" stop-color="#eff9ed"/><stop offset="0.6945" stop-color="#eaf7e6"/><stop offset="0.7549" stop-color="#e3f4e1"/><stop offset="0.7850" stop-color="#d8f0dc"/><stop offset="0.8152" stop-color="#cbebdd"/><stop offset="0.8453" stop-color="#bde6e2"/><stop offset="0.8771" stop-color="#b0dee6"/><stop offset="0.9089" stop-color="#a4d7e8"/><stop offset="0.9108" stop-color="#96c7df"/><stop offset="0.9392" stop-color="#8ebedb"/><stop offset="0.9677" stop-color="#86b6d7"/><stop offset="0.9696" stop-color="#84abcc"/><stop offset="1.0000" stop-color="#84a3c3"/></linearGradient><linearGradient id="gl41" gradientUnits="userSpaceOnUse" x1="38.50" y1="0" x2="348.40" y2="0"><stop offset="0.0000" stop-color="#fbfef8"/><stop offset="0.1755" stop-color="#fbfef8"/><stop offset="0.2615" stop-color="#fbfdf7"/><stop offset="0.5018" stop-color="#f8fcf5"/><stop offset="0.5739" stop-color="#f5fbf2"/><stop offset="0.6342" stop-color="#eff9ed"/><stop offset="0.6946" stop-color="#eaf7e6"/><stop offset="0.7550" stop-color="#e3f4e1"/><stop offset="0.7851" stop-color="#d8f0dc"/><stop offset="0.8152" stop-color="#cbebdd"/><stop offset="0.8454" stop-color="#bde6e2"/><stop offset="0.8771" stop-color="#b0dee6"/><stop offset="0.9089" stop-color="#a4d7e8"/><stop offset="0.9108" stop-color="#96c7df"/><stop offset="0.9392" stop-color="#8ebedb"/><stop offset="0.9677" stop-color="#86b6d7"/><stop offset="0.9696" stop-color="#84abcc"/><stop offset="1.0000" stop-color="#84a3c3"/></linearGradient><linearGradient id="gl42" gradientUnits="userSpaceOnUse" x1="38.50" y1="0" x2="348.40" y2="0"><stop offset="0.0000" stop-color="#fbfef8"/><stop offset="0.1759" stop-color="#fbfef8"/><stop offset="0.2616" stop-color="#fbfdf7"/><stop offset="0.5019" stop-color="#f8fcf5"/><stop offset="0.5739" stop-color="#f5fbf2"/><stop offset="0.6343" stop-color="#eff9ed"/><stop offset="0.6947" stop-color="#eaf7e6"/><stop offset="0.7551" stop-color="#e3f4e1"/><stop offset="0.7852" stop-color="#d8f0dc"/><stop offset="0.8153" stop-color="#cbebdd"/><stop offset="0.8455" stop-color="#bde6e2"/><stop offset="0.8772" stop-color="#b0dee6"/><stop offset="0.9089" stop-color="#a4d7e8"/><stop offset="0.9108" stop-color="#96c7df"/><stop offset="0.9393" stop-color="#8ebedb"/><stop offset="0.9677" stop-color="#86b6d7"/><stop offset="0.9696" stop-color="#84abcc"/><stop offset="1.0000" stop-color="#84a3c3"/></linearGradient><linearGradient id="gl43" gradientUnits="userSpaceOnUse" x1="38.50" y1="0" x2="348.40" y2="0"><stop offset="0.0000" stop-color="#fbfef8"/><stop offset="0.1763" stop-color="#fbfef8"/><stop offset="0.2618" stop-color="#fbfdf7"/><stop offset="0.5021" stop-color="#f8fcf5"/><stop offset="0.5740" stop-color="#f5fbf2"/><stop offset="0.6344" stop-color="#eff9ed"/><stop offset="0.6948" stop-color="#eaf7e6"/><stop offset="0.7551" stop-color="#e3f4e1"/><stop offset="0.7853" stop-color="#d8f0dc"/><stop offset="0.8154" stop-color="#cbebdd"/><stop offset="0.8455" stop-color="#bde6e2"/><stop offset="0.8772" stop-color="#b0dee6"/><stop offset="0.9089" stop-color="#a4d7e8"/><stop offset="0.9109" stop-color="#96c7df"/><stop offset="0.9393" stop-color="#8ebedb"/><stop offset="0.9677" stop-color="#86b6d7"/><stop offset="0.9696" stop-color="#84abcc"/><stop offset="1.0000" stop-color="#84a3c3"/></linearGradient><linearGradient id="gl44" gradientUnits="userSpaceOnUse" x1="38.50" y1="0" x2="348.40" y2="0"><stop offset="0.0000" stop-color="#fbfef8"/><stop offset="0.1766" stop-color="#fbfef8"/><stop offset="0.2619" stop-color="#fbfdf7"/><stop offset="0.5022" stop-color="#f8fcf5"/><stop offset="0.5741" stop-color="#f5fbf2"/><stop offset="0.6345" stop-color="#eff9ed"/><stop offset="0.6949" stop-color="#eaf7e6"/><stop offset="0.7552" stop-color="#e3f4e1"/><stop offset="0.7854" stop-color="#d8f0dc"/><stop offset="0.8155" stop-color="#cbebdd"/><stop offset="0.8456" stop-color="#bde6e2"/><stop offset="0.8773" stop-color="#b0dee6"/><stop offset="0.9089" stop-color="#a4d7e8"/><stop offset="0.9109" stop-color="#96c7df"/><stop offset="0.9393" stop-color="#8ebedb"/><stop offset="0.9677" stop-color="#86b6d7"/><stop offset="0.9696" stop-color="#84abcc"/><stop offset="1.0000" stop-color="#84a3c3"/></linearGradient><linearGradient id="gl45" gradientUnits="userSpaceOnUse" x1="38.50" y1="0" x2="348.40" y2="0"><stop offset="0.0000" stop-color="#fbfef8"/><stop offset="0.1772" stop-color="#fbfef8"/><stop offset="0.2621" stop-color="#fbfdf7"/><stop offset="0.5024" stop-color="#f8fcf5"/><stop offset="0.5742" stop-color="#f5fbf2"/><stop offset="0.6346" stop-color="#eff9ed"/><stop offset="0.6949" stop-color="#eaf7e6"/><stop offset="0.7553" stop-color="#e3f4e1"/><stop offset="0.7854" stop-color="#d8f0dc"/><stop offset="0.8156" stop-color="#cbebdd"/><stop offset="0.8457" stop-color="#bde6e2"/><stop offset="0.8773" stop-color="#b0dee6"/><stop offset="0.9090" stop-color="#a4d7e8"/><stop offset="0.9109" stop-color="#96c7df"/><stop offset="0.9393" stop-color="#8ebedb"/><stop offset="0.9677" stop-color="#86b6d7"/><stop offset="0.9696" stop-color="#84abcc"/><stop offset="1.0000" stop-color="#84a3c3"/></linearGradient><linearGradient id="gl46" gradientUnits="userSpaceOnUse" x1="38.50" y1="0" x2="348.40" y2="0"><stop offset="0.0000" stop-color="#fbfef8"/><stop offset="0.1778" stop-color="#fbfef8"/><stop offset="0.2623" stop-color="#fbfdf7"/><stop offset="0.5025" stop-color="#f8fcf5"/><stop offset="0.5743" stop-color="#f5fbf2"/><stop offset="0.6347" stop-color="#eff9ed"/><stop offset="0.6950" stop-color="#eaf7e6"/><stop offset="0.7553" stop-color="#e3f4e1"/><stop offset="0.7855" stop-color="#d8f0dc"/><stop offset="0.8157" stop-color="#cbebdd"/><stop offset="0.8458" stop-color="#bde6e2"/><stop offset="0.8774" stop-color="#b0dee6"/><stop offset="0.9090" stop-color="#a4d7e8"/><stop offset="0.9109" stop-color="#96c7df"/><stop offset="0.9393" stop-color="#8ebedb"/><stop offset="0.9677" stop-color="#86b6d7"/><stop offset="0.9697" stop-color="#84abcc"/><stop offset="1.0000" stop-color="#84a3c3"/></linearGradient><linearGradient id="gl47" gradientUnits="userSpaceOnUse" x1="38.50" y1="0" x2="348.40" y2="0"><stop offset="0.0000" stop-color="#fbfef8"/><stop offset="0.1784" stop-color="#fbfef8"/><stop offset="0.2624" stop-color="#fbfdf7"/><stop offset="0.5027" stop-color="#f8fcf5"/><stop offset="0.5744" stop-color="#f5fbf2"/><stop offset="0.6348" stop-color="#eff9ed"/><stop offset="0.6951" stop-color="#eaf7e6"/><stop offset="0.7554" stop-color="#e3f4e1"/><stop offset="0.7856" stop-color="#d8f0dc"/><stop offset="0.8157" stop-color="#cbebdd"/><stop offset="0.8459" stop-color="#bde6e2"/><stop offset="0.8775" stop-color="#b0dee6"/><stop offset="0.9090" stop-color="#a4d7e8"/><stop offset="0.9109" stop-color="#96c7df"/><stop offset="0.9393" stop-color="#8ebedb"/><stop offset="0.9677" stop-color="#86b6d7"/><stop offset="0.9697" stop-color="#84abcc"/><stop offset="1.0000" stop-color="#84a3c3"/></linearGradient><linearGradient id="gl48" gradientUnits="userSpaceOnUse" x1="38.50" y1="0" x2="348.40" y2="0"><stop offset="0.0000" stop-color="#fbfef8"/><stop offset="0.1791" stop-color="#fbfef8"/><stop offset="0.2626" stop-color="#fbfdf7"/><stop offset="0.5028" stop-color="#f8fcf5"/><stop offset="0.5745" stop-color="#f5fbf2"/><stop offset="0.6348" stop-color="#eff9ed"/><stop offset="0.6952" stop-color="#eaf7e6"/><stop offset="0.7555" stop-color="#e3f4e1"/><stop offset="0.7856" stop-color="#d8f0dc"/><stop offset="0.8158" stop-color="#cbebdd"/><stop offset="0.8460" stop-color="#bde6e2"/><stop offset="0.8776" stop-color="#b0dee6"/><stop offset="0.9091" stop-color="#a4d7e8"/><stop offset="0.9111" stop-color="#96c7df"/><stop offset="0.9394" stop-color="#8ebedb"/><stop offset="0.9677" stop-color="#86b6d7"/><stop offset="0.9697" stop-color="#84abcc"/><stop offset="1.0000" stop-color="#84a3c3"/></linearGradient><linearGradient id="gl49" gradientUnits="userSpaceOnUse" x1="38.50" y1="0" x2="348.40" y2="0"><stop offset="0.0000" stop-color="#fbfef8"/><stop offset="0.1797" stop-color="#fbfef8"/><stop offset="0.2627" stop-color="#fbfdf7"/><stop offset="0.5030" stop-color="#f8fcf5"/><stop offset="0.5746" stop-color="#f5fbf2"/><stop offset="0.6349" stop-color="#eff9ed"/><stop offset="0.6952" stop-color="#eaf7e6"/><stop offset="0.7555" stop-color="#e3f4e1"/><stop offset="0.7857" stop-color="#d8f0dc"/><stop offset="0.8159" stop-color="#cbebdd"/><stop offset="0.8461" stop-color="#bde6e2"/><stop offset="0.8777" stop-color="#b0dee6"/><stop offset="0.9093" stop-color="#a4d7e8"/><stop offset="0.9112" stop-color="#96c7df"/><stop offset="0.9395" stop-color="#8ebedb"/><stop offset="0.9678" stop-color="#86b6d7"/><stop offset="0.9697" stop-color="#84abcc"/><stop offset="1.0000" stop-color="#84a3c3"/></linearGradient><linearGradient id="gl50" gradientUnits="userSpaceOnUse" x1="38.50" y1="0" x2="348.40" y2="0"><stop offset="0.0000" stop-color="#fbfef8"/><stop offset="0.1804" stop-color="#fbfef8"/><stop offset="0.2629" stop-color="#fbfdf7"/><stop offset="0.5031" stop-color="#f8fcf5"/><stop offset="0.5747" stop-color="#f5fbf2"/><stop offset="0.6350" stop-color="#eff9ed"/><stop offset="0.6953" stop-color="#eaf7e6"/><stop offset="0.7556" stop-color="#e3f4e1"/><stop offset="0.7858" stop-color="#d8f0dc"/><stop offset="0.8160" stop-color="#cbebdd"/><stop offset="0.8462" stop-color="#bde6e2"/><stop offset="0.8778" stop-color="#b0dee6"/><stop offset="0.9094" stop-color="#a4d7e8"/><stop offset="0.9114" stop-color="#96c7df"/><stop offset="0.9396" stop-color="#8ebedb"/><stop offset="0.9678" stop-color="#86b6d7"/><stop offset="0.9697" stop-color="#84abcc"/><stop offset="1.0000" stop-color="#84a3c3"/></linearGradient><linearGradient id="gl51" gradientUnits="userSpaceOnUse" x1="38.50" y1="0" x2="348.40" y2="0"><stop offset="0.0000" stop-color="#fbfef8"/><stop offset="0.1810" stop-color="#fbfef8"/><stop offset="0.2632" stop-color="#fbfdf7"/><stop offset="0.5032" stop-color="#f8fcf5"/><stop offset="0.5748" stop-color="#f5fbf2"/><stop offset="0.6351" stop-color="#eff9ed"/><stop offset="0.6954" stop-color="#eaf7e6"/><stop offset="0.7557" stop-color="#e3f4e1"/><stop offset="0.7859" stop-color="#d8f0dc"/><stop offset="0.8161" stop-color="#cbebdd"/><stop offset="0.8463" stop-color="#bde6e2"/><stop offset="0.8779" stop-color="#b0dee6"/><stop offset="0.9096" stop-color="#a4d7e8"/><stop offset="0.9115" stop-color="#96c7df"/><stop offset="0.9397" stop-color="#8ebedb"/><stop offset="0.9678" stop-color="#86b6d7"/><stop offset="0.9697" stop-color="#84abcc"/><stop offset="1.0000" stop-color="#84a3c3"/></linearGradient><linearGradient id="gl52" gradientUnits="userSpaceOnUse" x1="38.50" y1="0" x2="348.40" y2="0"><stop offset="0.0000" stop-color="#fbfef8"/><stop offset="0.1819" stop-color="#fbfef8"/><stop offset="0.2639" stop-color="#fbfdf7"/><stop offset="0.5034" stop-color="#f8fcf5"/><stop offset="0.5749" stop-color="#f5fbf2"/><stop offset="0.6352" stop-color="#eff9ed"/><stop offset="0.6955" stop-color="#eaf7e6"/><stop offset="0.7557" stop-color="#e3f4e1"/><stop offset="0.7859" stop-color="#d8f0dc"/><stop offset="0.8161" stop-color="#cbebdd"/><stop offset="0.8464" stop-color="#bde6e2"/><stop offset="0.8780" stop-color="#b0dee6"/><stop offset="0.9097" stop-color="#a4d7e8"/><stop offset="0.9117" stop-color="#96c7df"/><stop offset="0.9397" stop-color="#8ebedb"/><stop offset="0.9678" stop-color="#86b6d7"/><stop offset="0.9697" stop-color="#84abcc"/><stop offset="1.0000" stop-color="#84a3c3"/></linearGradient><linearGradient id="gl53" gradientUnits="userSpaceOnUse" x1="38.50" y1="0" x2="348.40" y2="0"><stop offset="0.0000" stop-color="#fbfef8"/><stop offset="0.1829" stop-color="#fbfef8"/><stop offset="0.2646" stop-color="#fbfdf7"/><stop offset="0.5034" stop-color="#f8fcf5"/><stop offset="0.5750" stop-color="#f5fbf2"/><stop offset="0.6353" stop-color="#eff9ed"/><stop offset="0.6955" stop-color="#eaf7e6"/><stop offset="0.7558" stop-color="#e3f4e1"/><stop offset="0.7860" stop-color="#d8f0dc"/><stop offset="0.8162" stop-color="#cbebdd"/><stop offset="0.8464" stop-color="#bde6e2"/><stop offset="0.8782" stop-color="#b0dee6"/><stop offset="0.9099" stop-color="#a4d7e8"/><stop offset="0.9118" stop-color="#96c7df"/><stop offset="0.9398" stop-color="#8ebedb"/><stop offset="0.9678" stop-color="#86b6d7"/><stop offset="0.9698" stop-color="#84abcc"/><stop offset="1.0000" stop-color="#84a3c3"/></linearGradient><linearGradient id="gl54" gradientUnits="userSpaceOnUse" x1="38.50" y1="0" x2="348.40" y2="0"><stop offset="0.0000" stop-color="#fbfef8"/><stop offset="0.1838" stop-color="#fbfef8"/><stop offset="0.2654" stop-color="#fbfdf7"/><stop offset="0.5035" stop-color="#f8fcf5"/><stop offset="0.5751" stop-color="#f5fbf2"/><stop offset="0.6353" stop-color="#eff9ed"/><stop offset="0.6956" stop-color="#eaf7e6"/><stop offset="0.7559" stop-color="#e3f4e1"/><stop offset="0.7861" stop-color="#d8f0dc"/><stop offset="0.8163" stop-color="#cbebdd"/><stop offset="0.8465" stop-color="#bde6e2"/><stop offset="0.8783" stop-color="#b0dee6"/><stop offset="0.9100" stop-color="#a4d7e8"/><stop offset="0.9120" stop-color="#96c7df"/><stop offset="0.9399" stop-color="#8ebedb"/><stop offset="0.9678" stop-color="#86b6d7"/><stop offset="0.9698" stop-color="#84abcc"/><stop offset="1.0000" stop-color="#84a3c3"/></linearGradient><linearGradient id="gl55" gradientUnits="userSpaceOnUse" x1="38.50" y1="0" x2="348.40" y2="0"><stop offset="0.0000" stop-color="#fbfef8"/><stop offset="0.1847" stop-color="#fbfef8"/><stop offset="0.2661" stop-color="#fbfdf7"/><stop offset="0.5035" stop-color="#f8fcf5"/><stop offset="0.5752" stop-color="#f5fbf2"/><stop offset="0.6354" stop-color="#eff9ed"/><stop offset="0.6957" stop-color="#eaf7e6"/><stop offset="0.7559" stop-color="#e3f4e1"/><stop offset="0.7862" stop-color="#d8f0dc"/><stop offset="0.8164" stop-color="#cbebdd"/><stop offset="0.8466" stop-color="#bde6e2"/><stop offset="0.8784" stop-color="#b0dee6"/><stop offset="0.9102" stop-color="#a4d7e8"/><stop offset="0.9121" stop-color="#96c7df"/><stop offset="0.9400" stop-color="#8ebedb"/><stop offset="0.9679" stop-color="#86b6d7"/><stop offset="0.9698" stop-color="#84abcc"/><stop offset="1.0000" stop-color="#84a3c3"/></linearGradient><linearGradient id="gl56" gradientUnits="userSpaceOnUse" x1="38.50" y1="0" x2="348.40" y2="0"><stop offset="0.0000" stop-color="#fbfef8"/><stop offset="0.1856" stop-color="#fbfef8"/><stop offset="0.2669" stop-color="#fbfdf7"/><stop offset="0.5036" stop-color="#f8fcf5"/><stop offset="0.5753" stop-color="#f5fbf2"/><stop offset="0.6355" stop-color="#eff9ed"/><stop offset="0.6957" stop-color="#eaf7e6"/><stop offset="0.7560" stop-color="#e3f4e1"/><stop offset="0.7862" stop-color="#d8f0dc"/><stop offset="0.8165" stop-color="#cbebdd"/><stop offset="0.8467" stop-color="#bde6e2"/><stop offset="0.8785" stop-color="#b0dee6"/><stop offset="0.9103" stop-color="#a4d7e8"/><stop offset="0.9122" stop-color="#96c7df"/><stop offset="0.9401" stop-color="#8ebedb"/><stop offset="0.9679" stop-color="#86b6d7"/><stop offset="0.9698" stop-color="#84abcc"/><stop offset="1.0000" stop-color="#84a3c3"/></linearGradient><linearGradient id="gl57" gradientUnits="userSpaceOnUse" x1="38.50" y1="0" x2="348.40" y2="0"><stop offset="0.0000" stop-color="#fbfef8"/><stop offset="0.1865" stop-color="#fbfef8"/><stop offset="0.2676" stop-color="#fbfdf7"/><stop offset="0.5036" stop-color="#f8fcf5"/><stop offset="0.5754" stop-color="#f5fbf2"/><stop offset="0.6356" stop-color="#eff9ed"/><stop offset="0.6958" stop-color="#eaf7e6"/><stop offset="0.7561" stop-color="#e3f4e1"/><stop offset="0.7863" stop-color="#d8f0dc"/><stop offset="0.8165" stop-color="#cbebdd"/><stop offset="0.8468" stop-color="#bde6e2"/><stop offset="0.8786" stop-color="#b0dee6"/><stop offset="0.9105" stop-color="#a4d7e8"/><stop offset="0.9124" stop-color="#96c7df"/><stop offset="0.9401" stop-color="#8ebedb"/><stop offset="0.9679" stop-color="#86b6d7"/><stop offset="0.9698" stop-color="#84abcc"/><stop offset="1.0000" stop-color="#84a3c3"/></linearGradient><linearGradient id="gl58" gradientUnits="userSpaceOnUse" x1="38.50" y1="0" x2="348.40" y2="0"><stop offset="0.0000" stop-color="#fbfef8"/><stop offset="0.1873" stop-color="#fbfef8"/><stop offset="0.2683" stop-color="#fbfdf7"/><stop offset="0.5036" stop-color="#f8fcf5"/><stop offset="0.5756" stop-color="#f5fbf2"/><stop offset="0.6358" stop-color="#eff9ed"/><stop offset="0.6959" stop-color="#eaf7e6"/><stop offset="0.7561" stop-color="#e3f4e1"/><stop offset="0.7864" stop-color="#d8f0dc"/><stop offset="0.8166" stop-color="#cbebdd"/><stop offset="0.8469" stop-color="#bde6e2"/><stop offset="0.8787" stop-color="#b0dee6"/><stop offset="0.9106" stop-color="#a4d7e8"/><stop offset="0.9125" stop-color="#96c7df"/><stop offset="0.9402" stop-color="#8ebedb"/><stop offset="0.9679" stop-color="#86b6d7"/><stop offset="0.9698" stop-color="#84abcc"/><stop offset="1.0000" stop-color="#84a3c3"/></linearGradient><linearGradient id="gl59" gradientUnits="userSpaceOnUse" x1="38.50" y1="0" x2="348.40" y2="0"><stop offset="0.0000" stop-color="#fbfef8"/><stop offset="0.1880" stop-color="#fbfef8"/><stop offset="0.2691" stop-color="#fbfdf7"/><stop offset="0.5037" stop-color="#f8fcf5"/><stop offset="0.5758" stop-color="#f5fbf2"/><stop offset="0.6359" stop-color="#eff9ed"/><stop offset="0.6960" stop-color="#eaf7e6"/><stop offset="0.7562" stop-color="#e3f4e1"/><stop offset="0.7864" stop-color="#d8f0dc"/><stop offset="0.8167" stop-color="#cbebdd"/><stop offset="0.8470" stop-color="#bde6e2"/><stop offset="0.8789" stop-color="#b0dee6"/><stop offset="0.9107" stop-color="#a4d7e8"/><stop offset="0.9127" stop-color="#96c7df"/><stop offset="0.9403" stop-color="#8ebedb"/><stop offset="0.9679" stop-color="#86b6d7"/><stop offset="0.9699" stop-color="#84abcc"/><stop offset="1.0000" stop-color="#84a3c3"/></linearGradient><linearGradient id="gl60" gradientUnits="userSpaceOnUse" x1="38.50" y1="0" x2="348.40" y2="0"><stop offset="0.0000" stop-color="#fbfef8"/><stop offset="0.1887" stop-color="#fbfef8"/><stop offset="0.2699" stop-color="#fbfdf7"/><stop offset="0.5037" stop-color="#f8fcf5"/><stop offset="0.5760" stop-color="#f5fbf2"/><stop offset="0.6361" stop-color="#eff9ed"/><stop offset="0.6961" stop-color="#eaf7e6"/><stop offset="0.7562" stop-color="#e3f4e1"/><stop offset="0.7865" stop-color="#d8f0dc"/><stop offset="0.8168" stop-color="#cbebdd"/><stop offset="0.8471" stop-color="#bde6e2"/><stop offset="0.8790" stop-color="#b0dee6"/><stop offset="0.9109" stop-color="#a4d7e8"/><stop offset="0.9128" stop-color="#96c7df"/><stop offset="0.9404" stop-color="#8ebedb"/><stop offset="0.9679" stop-color="#86b6d7"/><stop offset="0.9699" stop-color="#84abcc"/><stop offset="1.0000" stop-color="#84a3c3"/></linearGradient><linearGradient id="gl61" gradientUnits="userSpaceOnUse" x1="38.50" y1="0" x2="348.40" y2="0"><stop offset="0.0000" stop-color="#fbfef8"/><stop offset="0.1895" stop-color="#fbfef8"/><stop offset="0.2707" stop-color="#fbfdf7"/><stop offset="0.5038" stop-color="#f8fcf5"/><stop offset="0.5761" stop-color="#f5fbf2"/><stop offset="0.6362" stop-color="#eff9ed"/><stop offset="0.6963" stop-color="#eaf7e6"/><stop offset="0.7563" stop-color="#e3f4e1"/><stop offset="0.7866" stop-color="#d8f0dc"/><stop offset="0.8169" stop-color="#cbebdd"/><stop offset="0.8472" stop-color="#bde6e2"/><stop offset="0.8791" stop-color="#b0dee6"/><stop offset="0.9110" stop-color="#a4d7e8"/><stop offset="0.9130" stop-color="#96c7df"/><stop offset="0.9405" stop-color="#8ebedb"/><stop offset="0.9680" stop-color="#86b6d7"/><stop offset="0.9699" stop-color="#84abcc"/><stop offset="1.0000" stop-color="#84a3c3"/></linearGradient><linearGradient id="gl62" gradientUnits="userSpaceOnUse" x1="38.50" y1="0" x2="348.40" y2="0"><stop offset="0.0000" stop-color="#fbfef8"/><stop offset="0.1902" stop-color="#fbfef8"/><stop offset="0.2716" stop-color="#fbfdf7"/><stop offset="0.5038" stop-color="#f8fcf5"/><stop offset="0.5763" stop-color="#f5fbf2"/><stop offset="0.6364" stop-color="#eff9ed"/><stop offset="0.6964" stop-color="#eaf7e6"/><stop offset="0.7564" stop-color="#e3f4e1"/><stop offset="0.7867" stop-color="#d8f0dc"/><stop offset="0.8170" stop-color="#cbebdd"/><stop offset="0.8472" stop-color="#bde6e2"/><stop offset="0.8792" stop-color="#b0dee6"/><stop offset="0.9112" stop-color="#a4d7e8"/><stop offset="0.9131" stop-color="#96c7df"/><stop offset="0.9405" stop-color="#8ebedb"/><stop offset="0.9680" stop-color="#86b6d7"/><stop offset="0.9699" stop-color="#84abcc"/><stop offset="1.0000" stop-color="#84a3c3"/></linearGradient><linearGradient id="gl63" gradientUnits="userSpaceOnUse" x1="38.50" y1="0" x2="348.40" y2="0"><stop offset="0.0000" stop-color="#fbfef8"/><stop offset="0.1910" stop-color="#fbfef8"/><stop offset="0.2725" stop-color="#fbfdf7"/><stop offset="0.5039" stop-color="#f8fcf5"/><stop offset="0.5765" stop-color="#f5fbf2"/><stop offset="0.6365" stop-color="#eff9ed"/><stop offset="0.6965" stop-color="#eaf7e6"/><stop offset="0.7564" stop-color="#e3f4e1"/><stop offset="0.7867" stop-color="#d8f0dc"/><stop offset="0.8170" stop-color="#cbebdd"/><stop offset="0.8473" stop-color="#bde6e2"/><stop offset="0.8793" stop-color="#b0dee6"/><stop offset="0.9113" stop-color="#a4d7e8"/><stop offset="0.9133" stop-color="#96c7df"/><stop offset="0.9406" stop-color="#8ebedb"/><stop offset="0.9680" stop-color="#86b6d7"/><stop offset="0.9699" stop-color="#84abcc"/><stop offset="1.0000" stop-color="#84a3c3"/></linearGradient><linearGradient id="gl64" gradientUnits="userSpaceOnUse" x1="38.50" y1="0" x2="348.40" y2="0"><stop offset="0.0000" stop-color="#fbfef8"/><stop offset="0.1917" stop-color="#fbfef8"/><stop offset="0.2733" stop-color="#fbfdf7"/><stop offset="0.5039" stop-color="#f8fcf5"/><stop offset="0.5767" stop-color="#f5fbf2"/><stop offset="0.6366" stop-color="#eff9ed"/><stop offset="0.6966" stop-color="#eaf7e6"/><stop offset="0.7565" stop-color="#e3f4e1"/><stop offset="0.7868" stop-color="#d8f0dc"/><stop offset="0.8171" stop-color="#cbebdd"/><stop offset="0.8474" stop-color="#bde6e2"/><stop offset="0.8794" stop-color="#b0dee6"/><stop offset="0.9115" stop-color="#a4d7e8"/><stop offset="0.9134" stop-color="#96c7df"/><stop offset="0.9407" stop-color="#8ebedb"/><stop offset="0.9680" stop-color="#86b6d7"/><stop offset="0.9699" stop-color="#84abcc"/><stop offset="1.0000" stop-color="#84a3c3"/></linearGradient><linearGradient id="gl65" gradientUnits="userSpaceOnUse" x1="38.50" y1="0" x2="348.40" y2="0"><stop offset="0.0000" stop-color="#fbfef8"/><stop offset="0.1924" stop-color="#fbfef8"/><stop offset="0.2742" stop-color="#fbfdf7"/><stop offset="0.5039" stop-color="#f8fcf5"/><stop offset="0.5769" stop-color="#f5fbf2"/><stop offset="0.6368" stop-color="#eff9ed"/><stop offset="0.6967" stop-color="#eaf7e6"/><stop offset="0.7566" stop-color="#e3f4e1"/><stop offset="0.7869" stop-color="#d8f0dc"/><stop offset="0.8172" stop-color="#cbebdd"/><stop offset="0.8475" stop-color="#bde6e2"/><stop offset="0.8796" stop-color="#b0dee6"/><stop offset="0.9116" stop-color="#a4d7e8"/><stop offset="0.9136" stop-color="#96c7df"/><stop offset="0.9408" stop-color="#8ebedb"/><stop offset="0.9680" stop-color="#86b6d7"/><stop offset="0.9700" stop-color="#84abcc"/><stop offset="1.0000" stop-color="#84a3c3"/></linearGradient><linearGradient id="gl66" gradientUnits="userSpaceOnUse" x1="38.50" y1="0" x2="348.40" y2="0"><stop offset="0.0000" stop-color="#fbfef8"/><stop offset="0.1932" stop-color="#fbfef8"/><stop offset="0.2750" stop-color="#fbfdf7"/><stop offset="0.5040" stop-color="#f8fcf5"/><stop offset="0.5771" stop-color="#f5fbf2"/><stop offset="0.6369" stop-color="#eff9ed"/><stop offset="0.6968" stop-color="#eaf7e6"/><stop offset="0.7566" stop-color="#e3f4e1"/><stop offset="0.7870" stop-color="#d8f0dc"/><stop offset="0.8173" stop-color="#cbebdd"/><stop offset="0.8476" stop-color="#bde6e2"/><stop offset="0.8797" stop-color="#b0dee6"/><stop offset="0.9118" stop-color="#a4d7e8"/><stop offset="0.9137" stop-color="#96c7df"/><stop offset="0.9409" stop-color="#8ebedb"/><stop offset="0.9680" stop-color="#86b6d7"/><stop offset="0.9700" stop-color="#84abcc"/><stop offset="1.0000" stop-color="#84a3c3"/></linearGradient><linearGradient id="gl67" gradientUnits="userSpaceOnUse" x1="38.50" y1="0" x2="348.40" y2="0"><stop offset="0.0000" stop-color="#fbfef8"/><stop offset="0.1939" stop-color="#fbfef8"/><stop offset="0.2759" stop-color="#fbfdf7"/><stop offset="0.5040" stop-color="#f8fcf5"/><stop offset="0.5773" stop-color="#f5fbf2"/><stop offset="0.6371" stop-color="#eff9ed"/><stop offset="0.6969" stop-color="#eaf7e6"/><stop offset="0.7567" stop-color="#e3f4e1"/><stop offset="0.7870" stop-color="#d8f0dc"/><stop offset="0.8174" stop-color="#cbebdd"/><stop offset="0.8477" stop-color="#bde6e2"/><stop offset="0.8798" stop-color="#b0dee6"/><stop offset="0.9119" stop-color="#a4d7e8"/><stop offset="0.9138" stop-color="#96c7df"/><stop offset="0.9409" stop-color="#8ebedb"/><stop offset="0.9681" stop-color="#86b6d7"/><stop offset="0.9700" stop-color="#84abcc"/><stop offset="1.0000" stop-color="#84a3c3"/></linearGradient><linearGradient id="gl68" gradientUnits="userSpaceOnUse" x1="38.50" y1="0" x2="348.40" y2="0"><stop offset="0.0000" stop-color="#fbfef8"/><stop offset="0.1955" stop-color="#fbfef8"/><stop offset="0.2768" stop-color="#fbfdf7"/><stop offset="0.5051" stop-color="#f8fcf5"/><stop offset="0.5783" stop-color="#f5fbf2"/><stop offset="0.6381" stop-color="#eff9ed"/><stop offset="0.6978" stop-color="#eaf7e6"/><stop offset="0.7576" stop-color="#e3f4e1"/><stop offset="0.7878" stop-color="#d8f0dc"/><stop offset="0.8180" stop-color="#cbebdd"/><stop offset="0.8483" stop-color="#bde6e2"/><stop offset="0.8801" stop-color="#b0dee6"/><stop offset="0.9119" stop-color="#a4d7e8"/><stop offset="0.9139" stop-color="#96c7df"/><stop offset="0.9411" stop-color="#8ebedb"/><stop offset="0.9683" stop-color="#86b6d7"/><stop offset="0.9702" stop-color="#84abcc"/><stop offset="1.0000" stop-color="#84a3c3"/></linearGradient><linearGradient id="gl69" gradientUnits="userSpaceOnUse" x1="38.50" y1="0" x2="348.40" y2="0"><stop offset="0.0000" stop-color="#fbfef8"/><stop offset="0.1971" stop-color="#fbfef8"/><stop offset="0.2778" stop-color="#fbfdf7"/><stop offset="0.5061" stop-color="#f8fcf5"/><stop offset="0.5794" stop-color="#f5fbf2"/><stop offset="0.6390" stop-color="#eff9ed"/><stop offset="0.6987" stop-color="#eaf7e6"/><stop offset="0.7584" stop-color="#e3f4e1"/><stop offset="0.7886" stop-color="#d8f0dc"/><stop offset="0.8187" stop-color="#cbebdd"/><stop offset="0.8489" stop-color="#bde6e2"/><stop offset="0.8804" stop-color="#b0dee6"/><stop offset="0.9120" stop-color="#a4d7e8"/><stop offset="0.9139" stop-color="#96c7df"/><stop offset="0.9412" stop-color="#8ebedb"/><stop offset="0.9685" stop-color="#86b6d7"/><stop offset="0.9704" stop-color="#84abcc"/><stop offset="1.0000" stop-color="#84a3c3"/></linearGradient><linearGradient id="gl70" gradientUnits="userSpaceOnUse" x1="38.50" y1="0" x2="348.40" y2="0"><stop offset="0.0000" stop-color="#fbfef8"/><stop offset="0.1987" stop-color="#fbfef8"/><stop offset="0.2787" stop-color="#fbfdf7"/><stop offset="0.5071" stop-color="#f8fcf5"/><stop offset="0.5804" stop-color="#f5fbf2"/><stop offset="0.6400" stop-color="#eff9ed"/><stop offset="0.6996" stop-color="#eaf7e6"/><stop offset="0.7593" stop-color="#e3f4e1"/><stop offset="0.7893" stop-color="#d8f0dc"/><stop offset="0.8194" stop-color="#cbebdd"/><stop offset="0.8494" stop-color="#bde6e2"/><stop offset="0.8807" stop-color="#b0dee6"/><stop offset="0.9120" stop-color="#a4d7e8"/><stop offset="0.9139" stop-color="#96c7df"/><stop offset="0.9413" stop-color="#8ebedb"/><stop offset="0.9687" stop-color="#86b6d7"/><stop offset="0.9707" stop-color="#84abcc"/><stop offset="1.0000" stop-color="#84a3c3"/></linearGradient><linearGradient id="gl71" gradientUnits="userSpaceOnUse" x1="38.50" y1="0" x2="348.40" y2="0"><stop offset="0.0000" stop-color="#fbfef8"/><stop offset="0.2003" stop-color="#fbfef8"/><stop offset="0.2796" stop-color="#fbfdf7"/><stop offset="0.5082" stop-color="#f8fcf5"/><stop offset="0.5814" stop-color="#f5fbf2"/><stop offset="0.6410" stop-color="#eff9ed"/><stop offset="0.7006" stop-color="#eaf7e6"/><stop offset="0.7601" stop-color="#e3f4e1"/><stop offset="0.7901" stop-color="#d8f0dc"/><stop offset="0.8201" stop-color="#cbebdd"/><stop offset="0.8500" stop-color="#bde6e2"/><stop offset="0.8810" stop-color="#b0dee6"/><stop offset="0.9120" stop-color="#a4d7e8"/><stop offset="0.9139" stop-color="#96c7df"/><stop offset="0.9414" stop-color="#8ebedb"/><stop offset="0.9690" stop-color="#86b6d7"/><stop offset="0.9709" stop-color="#84abcc"/><stop offset="1.0000" stop-color="#84a3c3"/></linearGradient><linearGradient id="gl72" gradientUnits="userSpaceOnUse" x1="38.50" y1="0" x2="348.40" y2="0"><stop offset="0.0000" stop-color="#fbfef8"/><stop offset="0.2018" stop-color="#fbfef8"/><stop offset="0.2806" stop-color="#fbfdf7"/><stop offset="0.5092" stop-color="#f8fcf5"/><stop offset="0.5825" stop-color="#f5fbf2"/><stop offset="0.6420" stop-color="#eff9ed"/><stop offset="0.7015" stop-color="#eaf7e6"/><stop offset="0.7610" stop-color="#e3f4e1"/><stop offset="0.7909" stop-color="#d8f0dc"/><stop offset="0.8207" stop-color="#cbebdd"/><stop offset="0.8506" stop-color="#bde6e2"/><stop offset="0.8813" stop-color="#b0dee6"/><stop offset="0.9120" stop-color="#a4d7e8"/><stop offset="0.9140" stop-color="#96c7df"/><stop offset="0.9416" stop-color="#8ebedb"/><stop offset="0.9692" stop-color="#86b6d7"/><stop offset="0.9711" stop-color="#84abcc"/><stop offset="1.0000" stop-color="#84a3c3"/></linearGradient><linearGradient id="gl73" gradientUnits="userSpaceOnUse" x1="38.50" y1="0" x2="348.40" y2="0"><stop offset="0.0000" stop-color="#fbfef8"/><stop offset="0.2034" stop-color="#fbfef8"/><stop offset="0.2815" stop-color="#fbfdf7"/><stop offset="0.5102" stop-color="#f8fcf5"/><stop offset="0.5835" stop-color="#f5fbf2"/><stop offset="0.6429" stop-color="#eff9ed"/><stop offset="0.7024" stop-color="#eaf7e6"/><stop offset="0.7619" stop-color="#e3f4e1"/><stop offset="0.7916" stop-color="#d8f0dc"/><stop offset="0.8214" stop-color="#cbebdd"/><stop offset="0.8512" stop-color="#bde6e2"/><stop offset="0.8816" stop-color="#b0dee6"/><stop offset="0.9121" stop-color="#a4d7e8"/><stop offset="0.9140" stop-color="#96c7df"/><stop offset="0.9417" stop-color="#8ebedb"/><stop offset="0.9694" stop-color="#86b6d7"/><stop offset="0.9713" stop-color="#84abcc"/><stop offset="1.0000" stop-color="#84a3c3"/></linearGradient><linearGradient id="gl74" gradientUnits="userSpaceOnUse" x1="38.50" y1="0" x2="348.40" y2="0"><stop offset="0.0000" stop-color="#fbfef8"/><stop offset="0.2050" stop-color="#fbfef8"/><stop offset="0.2824" stop-color="#fbfdf7"/><stop offset="0.5113" stop-color="#f8fcf5"/><stop offset="0.5845" stop-color="#f5fbf2"/><stop offset="0.6439" stop-color="#eff9ed"/><stop offset="0.7033" stop-color="#eaf7e6"/><stop offset="0.7627" stop-color="#e3f4e1"/><stop offset="0.7924" stop-color="#d8f0dc"/><stop offset="0.8221" stop-color="#cbebdd"/><stop offset="0.8518" stop-color="#bde6e2"/><stop offset="0.8819" stop-color="#b0dee6"/><stop offset="0.9121" stop-color="#a4d7e8"/><stop offset="0.9140" stop-color="#96c7df"/><stop offset="0.9418" stop-color="#8ebedb"/><stop offset="0.9696" stop-color="#86b6d7"/><stop offset="0.9716" stop-color="#84abcc"/><stop offset="1.0000" stop-color="#84a3c3"/></linearGradient><linearGradient id="gl75" gradientUnits="userSpaceOnUse" x1="38.50" y1="0" x2="348.40" y2="0"><stop offset="0.0000" stop-color="#fbfef8"/><stop offset="0.2066" stop-color="#fbfef8"/><stop offset="0.2834" stop-color="#fbfdf7"/><stop offset="0.5123" stop-color="#f8fcf5"/><stop offset="0.5856" stop-color="#f5fbf2"/><stop offset="0.6449" stop-color="#eff9ed"/><stop offset="0.7042" stop-color="#eaf7e6"/><stop offset="0.7636" stop-color="#e3f4e1"/><stop offset="0.7932" stop-color="#d8f0dc"/><stop offset="0.8228" stop-color="#cbebdd"/><stop offset="0.8524" stop-color="#bde6e2"/><stop offset="0.8822" stop-color="#b0dee6"/><stop offset="0.9121" stop-color="#a4d7e8"/><stop offset="0.9140" stop-color="#96c7df"/><stop offset="0.9419" stop-color="#8ebedb"/><stop offset="0.9699" stop-color="#86b6d7"/><stop offset="0.9718" stop-color="#84abcc"/><stop offset="1.0000" stop-color="#84a3c3"/></linearGradient><linearGradient id="gl76" gradientUnits="userSpaceOnUse" x1="38.50" y1="0" x2="348.40" y2="0"><stop offset="0.0000" stop-color="#fbfef8"/><stop offset="0.2092" stop-color="#fbfef8"/><stop offset="0.2856" stop-color="#fbfdf7"/><stop offset="0.5133" stop-color="#f8fcf5"/><stop offset="0.5866" stop-color="#f5fbf2"/><stop offset="0.6459" stop-color="#eff9ed"/><stop offset="0.7052" stop-color="#eaf7e6"/><stop offset="0.7644" stop-color="#e3f4e1"/><stop offset="0.7939" stop-color="#d8f0dc"/><stop offset="0.8234" stop-color="#cbebdd"/><stop offset="0.8529" stop-color="#bde6e2"/><stop offset="0.8825" stop-color="#b0dee6"/><stop offset="0.9121" stop-color="#a4d7e8"/><stop offset="0.9141" stop-color="#96c7df"/><stop offset="0.9421" stop-color="#8ebedb"/><stop offset="0.9701" stop-color="#86b6d7"/><stop offset="0.9720" stop-color="#84abcc"/><stop offset="1.0000" stop-color="#84a3c3"/></linearGradient><linearGradient id="gl77" gradientUnits="userSpaceOnUse" x1="38.50" y1="0" x2="348.40" y2="0"><stop offset="0.0000" stop-color="#fbfef8"/><stop offset="0.2118" stop-color="#fbfef8"/><stop offset="0.2877" stop-color="#fbfdf7"/><stop offset="0.5148" stop-color="#f8fcf5"/><stop offset="0.5884" stop-color="#f5fbf2"/><stop offset="0.6473" stop-color="#eff9ed"/><stop offset="0.7063" stop-color="#eaf7e6"/><stop offset="0.7653" stop-color="#e3f4e1"/><stop offset="0.7947" stop-color="#d8f0dc"/><stop offset="0.8241" stop-color="#cbebdd"/><stop offset="0.8535" stop-color="#bde6e2"/><stop offset="0.8828" stop-color="#b0dee6"/><stop offset="0.9121" stop-color="#a4d7e8"/><stop offset="0.9141" stop-color="#96c7df"/><stop offset="0.9422" stop-color="#8ebedb"/><stop offset="0.9703" stop-color="#86b6d7"/><stop offset="0.9722" stop-color="#84abcc"/><stop offset="1.0000" stop-color="#84a3c3"/></linearGradient><linearGradient id="gl78" gradientUnits="userSpaceOnUse" x1="38.50" y1="0" x2="348.40" y2="0"><stop offset="0.0000" stop-color="#fbfef8"/><stop offset="0.2144" stop-color="#fbfef8"/><stop offset="0.2898" stop-color="#fbfdf7"/><stop offset="0.5164" stop-color="#f8fcf5"/><stop offset="0.5902" stop-color="#f5fbf2"/><stop offset="0.6489" stop-color="#eff9ed"/><stop offset="0.7076" stop-color="#eaf7e6"/><stop offset="0.7664" stop-color="#e3f4e1"/><stop offset="0.7957" stop-color="#d8f0dc"/><stop offset="0.8250" stop-color="#cbebdd"/><stop offset="0.8542" stop-color="#bde6e2"/><stop offset="0.8832" stop-color="#b0dee6"/><stop offset="0.9122" stop-color="#a4d7e8"/><stop offset="0.9141" stop-color="#96c7df"/><stop offset="0.9423" stop-color="#8ebedb"/><stop offset="0.9705" stop-color="#86b6d7"/><stop offset="0.9725" stop-color="#84abcc"/><stop offset="1.0000" stop-color="#84a3c3"/></linearGradient><linearGradient id="gl79" gradientUnits="userSpaceOnUse" x1="38.50" y1="0" x2="348.40" y2="0"><stop offset="0.0000" stop-color="#fbfef8"/><stop offset="0.2169" stop-color="#fbfef8"/><stop offset="0.2920" stop-color="#fbfdf7"/><stop offset="0.5179" stop-color="#f8fcf5"/><stop offset="0.5920" stop-color="#f5fbf2"/><stop offset="0.6505" stop-color="#eff9ed"/><stop offset="0.7091" stop-color="#eaf7e6"/><stop offset="0.7677" stop-color="#e3f4e1"/><stop offset="0.7968" stop-color="#d8f0dc"/><stop offset="0.8259" stop-color="#cbebdd"/><stop offset="0.8551" stop-color="#bde6e2"/><stop offset="0.8836" stop-color="#b0dee6"/><stop offset="0.9122" stop-color="#a4d7e8"/><stop offset="0.9141" stop-color="#96c7df"/><stop offset="0.9424" stop-color="#8ebedb"/><stop offset="0.9708" stop-color="#86b6d7"/><stop offset="0.9727" stop-color="#84abcc"/><stop offset="1.0000" stop-color="#84a3c3"/></linearGradient><linearGradient id="gl80" gradientUnits="userSpaceOnUse" x1="38.50" y1="0" x2="348.40" y2="0"><stop offset="0.0000" stop-color="#fbfef8"/><stop offset="0.2195" stop-color="#fbfef8"/><stop offset="0.2941" stop-color="#fbfdf7"/><stop offset="0.5194" stop-color="#f8fcf5"/><stop offset="0.5938" stop-color="#f5fbf2"/><stop offset="0.6522" stop-color="#eff9ed"/><stop offset="0.7106" stop-color="#eaf7e6"/><stop offset="0.7690" stop-color="#e3f4e1"/><stop offset="0.7979" stop-color="#d8f0dc"/><stop offset="0.8269" stop-color="#cbebdd"/><stop offset="0.8559" stop-color="#bde6e2"/><stop offset="0.8841" stop-color="#b0dee6"/><stop offset="0.9122" stop-color="#a4d7e8"/><stop offset="0.9142" stop-color="#96c7df"/><stop offset="0.9426" stop-color="#8ebedb"/><stop offset="0.9710" stop-color="#86b6d7"/><stop offset="0.9729" stop-color="#84abcc"/><stop offset="1.0000" stop-color="#84a3c3"/></linearGradient><linearGradient id="gl81" gradientUnits="userSpaceOnUse" x1="38.50" y1="0" x2="348.40" y2="0"><stop offset="0.0000" stop-color="#fbfef8"/><stop offset="0.2221" stop-color="#fbfef8"/><stop offset="0.2962" stop-color="#fbfdf7"/><stop offset="0.5210" stop-color="#f8fcf5"/><stop offset="0.5956" stop-color="#f5fbf2"/><stop offset="0.6538" stop-color="#eff9ed"/><stop offset="0.7120" stop-color="#eaf7e6"/><stop offset="0.7702" stop-color="#e3f4e1"/><stop offset="0.7991" stop-color="#d8f0dc"/><stop offset="0.8279" stop-color="#cbebdd"/><stop offset="0.8567" stop-color="#bde6e2"/><stop offset="0.8847" stop-color="#b0dee6"/><stop offset="0.9126" stop-color="#a4d7e8"/><stop offset="0.9145" stop-color="#96c7df"/><stop offset="0.9429" stop-color="#8ebedb"/><stop offset="0.9712" stop-color="#86b6d7"/><stop offset="0.9731" stop-color="#84abcc"/><stop offset="1.0000" stop-color="#84a3c3"/></linearGradient><linearGradient id="gl82" gradientUnits="userSpaceOnUse" x1="38.50" y1="0" x2="348.40" y2="0"><stop offset="0.0000" stop-color="#fbfef8"/><stop offset="0.2248" stop-color="#fbfef8"/><stop offset="0.2984" stop-color="#fbfdf7"/><stop offset="0.5225" stop-color="#f8fcf5"/><stop offset="0.5974" stop-color="#f5fbf2"/><stop offset="0.6554" stop-color="#eff9ed"/><stop offset="0.7135" stop-color="#eaf7e6"/><stop offset="0.7715" stop-color="#e3f4e1"/><stop offset="0.8002" stop-color="#d8f0dc"/><stop offset="0.8289" stop-color="#cbebdd"/><stop offset="0.8576" stop-color="#bde6e2"/><stop offset="0.8854" stop-color="#b0dee6"/><stop offset="0.9132" stop-color="#a4d7e8"/><stop offset="0.9151" stop-color="#96c7df"/><stop offset="0.9433" stop-color="#8ebedb"/><stop offset="0.9714" stop-color="#86b6d7"/><stop offset="0.9734" stop-color="#84abcc"/><stop offset="1.0000" stop-color="#84a3c3"/></linearGradient><linearGradient id="gl83" gradientUnits="userSpaceOnUse" x1="38.50" y1="0" x2="348.40" y2="0"><stop offset="0.0000" stop-color="#fbfef8"/><stop offset="0.2275" stop-color="#fbfef8"/><stop offset="0.3007" stop-color="#fbfdf7"/><stop offset="0.5240" stop-color="#f8fcf5"/><stop offset="0.5992" stop-color="#f5fbf2"/><stop offset="0.6571" stop-color="#eff9ed"/><stop offset="0.7149" stop-color="#eaf7e6"/><stop offset="0.7728" stop-color="#e3f4e1"/><stop offset="0.8013" stop-color="#d8f0dc"/><stop offset="0.8299" stop-color="#cbebdd"/><stop offset="0.8584" stop-color="#bde6e2"/><stop offset="0.8861" stop-color="#b0dee6"/><stop offset="0.9138" stop-color="#a4d7e8"/><stop offset="0.9157" stop-color="#96c7df"/><stop offset="0.9437" stop-color="#8ebedb"/><stop offset="0.9717" stop-color="#86b6d7"/><stop offset="0.9736" stop-color="#84abcc"/><stop offset="1.0000" stop-color="#84a3c3"/></linearGradient><linearGradient id="gl84" gradientUnits="userSpaceOnUse" x1="38.50" y1="0" x2="348.40" y2="0"><stop offset="0.0000" stop-color="#fbfef8"/><stop offset="0.2302" stop-color="#fbfef8"/><stop offset="0.3031" stop-color="#fbfdf7"/><stop offset="0.5256" stop-color="#f8fcf5"/><stop offset="0.6010" stop-color="#f5fbf2"/><stop offset="0.6587" stop-color="#eff9ed"/><stop offset="0.7164" stop-color="#eaf7e6"/><stop offset="0.7741" stop-color="#e3f4e1"/><stop offset="0.8025" stop-color="#d8f0dc"/><stop offset="0.8309" stop-color="#cbebdd"/><stop offset="0.8592" stop-color="#bde6e2"/><stop offset="0.8868" stop-color="#b0dee6"/><stop offset="0.9144" stop-color="#a4d7e8"/><stop offset="0.9163" stop-color="#96c7df"/><stop offset="0.9441" stop-color="#8ebedb"/><stop offset="0.9719" stop-color="#86b6d7"/><stop offset="0.9738" stop-color="#84abcc"/><stop offset="1.0000" stop-color="#84a3c3"/></linearGradient><linearGradient id="gl85" gradientUnits="userSpaceOnUse" x1="38.50" y1="0" x2="348.40" y2="0"><stop offset="0.0000" stop-color="#fbfef8"/><stop offset="0.2329" stop-color="#fbfef8"/><stop offset="0.3054" stop-color="#fbfdf7"/><stop offset="0.5271" stop-color="#f8fcf5"/><stop offset="0.6028" stop-color="#f5fbf2"/><stop offset="0.6603" stop-color="#eff9ed"/><stop offset="0.7179" stop-color="#eaf7e6"/><stop offset="0.7754" stop-color="#e3f4e1"/><stop offset="0.8036" stop-color="#d8f0dc"/><stop offset="0.8318" stop-color="#cbebdd"/><stop offset="0.8600" stop-color="#bde6e2"/><stop offset="0.8875" stop-color="#b0dee6"/><stop offset="0.9150" stop-color="#a4d7e8"/><stop offset="0.9169" stop-color="#96c7df"/><stop offset="0.9445" stop-color="#8ebedb"/><stop offset="0.9721" stop-color="#86b6d7"/><stop offset="0.9740" stop-color="#84abcc"/><stop offset="1.0000" stop-color="#84a3c3"/></linearGradient><linearGradient id="gl86" gradientUnits="userSpaceOnUse" x1="38.50" y1="0" x2="348.40" y2="0"><stop offset="0.0000" stop-color="#fbfef8"/><stop offset="0.2356" stop-color="#fbfef8"/><stop offset="0.3077" stop-color="#fbfdf7"/><stop offset="0.5286" stop-color="#f8fcf5"/><stop offset="0.6046" stop-color="#f5fbf2"/><stop offset="0.6620" stop-color="#eff9ed"/><stop offset="0.7193" stop-color="#eaf7e6"/><stop offset="0.7767" stop-color="#e3f4e1"/><stop offset="0.8048" stop-color="#d8f0dc"/><stop offset="0.8328" stop-color="#cbebdd"/><stop offset="0.8609" stop-color="#bde6e2"/><stop offset="0.8882" stop-color="#b0dee6"/><stop offset="0.9156" stop-color="#a4d7e8"/><stop offset="0.9175" stop-color="#96c7df"/><stop offset="0.9449" stop-color="#8ebedb"/><stop offset="0.9723" stop-color="#86b6d7"/><stop offset="0.9742" stop-color="#84abcc"/><stop offset="1.0000" stop-color="#84a3c3"/></linearGradient><linearGradient id="gl87" gradientUnits="userSpaceOnUse" x1="38.50" y1="0" x2="348.40" y2="0"><stop offset="0.0000" stop-color="#fbfef8"/><stop offset="0.2384" stop-color="#fbfef8"/><stop offset="0.3101" stop-color="#fbfdf7"/><stop offset="0.5302" stop-color="#f8fcf5"/><stop offset="0.6067" stop-color="#f5fbf2"/><stop offset="0.6638" stop-color="#eff9ed"/><stop offset="0.7209" stop-color="#eaf7e6"/><stop offset="0.7780" stop-color="#e3f4e1"/><stop offset="0.8059" stop-color="#d8f0dc"/><stop offset="0.8338" stop-color="#cbebdd"/><stop offset="0.8617" stop-color="#bde6e2"/><stop offset="0.8889" stop-color="#b0dee6"/><stop offset="0.9161" stop-color="#a4d7e8"/><stop offset="0.9181" stop-color="#96c7df"/><stop offset="0.9453" stop-color="#8ebedb"/><stop offset="0.9725" stop-color="#86b6d7"/><stop offset="0.9744" stop-color="#84abcc"/><stop offset="1.0000" stop-color="#84a3c3"/></linearGradient><linearGradient id="gl88" gradientUnits="userSpaceOnUse" x1="38.50" y1="0" x2="348.40" y2="0"><stop offset="0.0000" stop-color="#fbfef8"/><stop offset="0.2414" stop-color="#fbfef8"/><stop offset="0.3124" stop-color="#fbfdf7"/><stop offset="0.5328" stop-color="#f8fcf5"/><stop offset="0.6090" stop-color="#f5fbf2"/><stop offset="0.6658" stop-color="#eff9ed"/><stop offset="0.7225" stop-color="#eaf7e6"/><stop offset="0.7793" stop-color="#e3f4e1"/><stop offset="0.8070" stop-color="#d8f0dc"/><stop offset="0.8348" stop-color="#cbebdd"/><stop offset="0.8625" stop-color="#bde6e2"/><stop offset="0.8896" stop-color="#b0dee6"/><stop offset="0.9167" stop-color="#a4d7e8"/><stop offset="0.9187" stop-color="#96c7df"/><stop offset="0.9457" stop-color="#8ebedb"/><stop offset="0.9727" stop-color="#86b6d7"/><stop offset="0.9747" stop-color="#84abcc"/><stop offset="1.0000" stop-color="#84a3c3"/></linearGradient><linearGradient id="gl89" gradientUnits="userSpaceOnUse" x1="38.50" y1="0" x2="348.40" y2="0"><stop offset="0.0000" stop-color="#fbfef8"/><stop offset="0.2446" stop-color="#fbfef8"/><stop offset="0.3147" stop-color="#fbfdf7"/><stop offset="0.5353" stop-color="#f8fcf5"/><stop offset="0.6113" stop-color="#f5fbf2"/><stop offset="0.6680" stop-color="#eff9ed"/><stop offset="0.7246" stop-color="#eaf7e6"/><stop offset="0.7813" stop-color="#e3f4e1"/><stop offset="0.8087" stop-color="#d8f0dc"/><stop offset="0.8361" stop-color="#cbebdd"/><stop offset="0.8635" stop-color="#bde6e2"/><stop offset="0.8904" stop-color="#b0dee6"/><stop offset="0.9173" stop-color="#a4d7e8"/><stop offset="0.9193" stop-color="#96c7df"/><stop offset="0.9461" stop-color="#8ebedb"/><stop offset="0.9729" stop-color="#86b6d7"/><stop offset="0.9749" stop-color="#84abcc"/><stop offset="1.0000" stop-color="#84a3c3"/></linearGradient><linearGradient id="gl90" gradientUnits="userSpaceOnUse" x1="38.50" y1="0" x2="348.40" y2="0"><stop offset="0.0000" stop-color="#fbfef8"/><stop offset="0.2478" stop-color="#fbfef8"/><stop offset="0.3170" stop-color="#fbfdf7"/><stop offset="0.5379" stop-color="#f8fcf5"/><stop offset="0.6136" stop-color="#f5fbf2"/><stop offset="0.6702" stop-color="#eff9ed"/><stop offset="0.7267" stop-color="#eaf7e6"/><stop offset="0.7833" stop-color="#e3f4e1"/><stop offset="0.8104" stop-color="#d8f0dc"/><stop offset="0.8374" stop-color="#cbebdd"/><stop offset="0.8644" stop-color="#bde6e2"/><stop offset="0.8912" stop-color="#b0dee6"/><stop offset="0.9179" stop-color="#a4d7e8"/><stop offset="0.9199" stop-color="#96c7df"/><stop offset="0.9465" stop-color="#8ebedb"/><stop offset="0.9731" stop-color="#86b6d7"/><stop offset="0.9751" stop-color="#84abcc"/><stop offset="1.0000" stop-color="#84a3c3"/></linearGradient><linearGradient id="gl91" gradientUnits="userSpaceOnUse" x1="38.50" y1="0" x2="348.40" y2="0"><stop offset="0.0000" stop-color="#fbfef8"/><stop offset="0.2510" stop-color="#fbfef8"/><stop offset="0.3194" stop-color="#fbfdf7"/><stop offset="0.5403" stop-color="#f8fcf5"/><stop offset="0.6158" stop-color="#f5fbf2"/><stop offset="0.6723" stop-color="#eff9ed"/><stop offset="0.7289" stop-color="#eaf7e6"/><stop offset="0.7854" stop-color="#e3f4e1"/><stop offset="0.8120" stop-color="#d8f0dc"/><stop offset="0.8387" stop-color="#cbebdd"/><stop offset="0.8653" stop-color="#bde6e2"/><stop offset="0.8919" stop-color="#b0dee6"/><stop offset="0.9185" stop-color="#a4d7e8"/><stop offset="0.9205" stop-color="#96c7df"/><stop offset="0.9469" stop-color="#8ebedb"/><stop offset="0.9734" stop-color="#86b6d7"/><stop offset="0.9753" stop-color="#84abcc"/><stop offset="1.0000" stop-color="#84a3c3"/></linearGradient><linearGradient id="gl92" gradientUnits="userSpaceOnUse" x1="38.50" y1="0" x2="348.40" y2="0"><stop offset="0.0000" stop-color="#fbfef8"/><stop offset="0.2543" stop-color="#fbfef8"/><stop offset="0.3217" stop-color="#fbfdf7"/><stop offset="0.5426" stop-color="#f8fcf5"/><stop offset="0.6181" stop-color="#f5fbf2"/><stop offset="0.6745" stop-color="#eff9ed"/><stop offset="0.7310" stop-color="#eaf7e6"/><stop offset="0.7874" stop-color="#e3f4e1"/><stop offset="0.8137" stop-color="#d8f0dc"/><stop offset="0.8400" stop-color="#cbebdd"/><stop offset="0.8663" stop-color="#bde6e2"/><stop offset="0.8927" stop-color="#b0dee6"/><stop offset="0.9191" stop-color="#a4d7e8"/><stop offset="0.9210" stop-color="#96c7df"/><stop offset="0.9473" stop-color="#8ebedb"/><stop offset="0.9736" stop-color="#86b6d7"/><stop offset="0.9755" stop-color="#84abcc"/><stop offset="1.0000" stop-color="#84a3c3"/></linearGradient><linearGradient id="gl93" gradientUnits="userSpaceOnUse" x1="38.50" y1="0" x2="348.40" y2="0"><stop offset="0.0000" stop-color="#fbfef8"/><stop offset="0.2575" stop-color="#fbfef8"/><stop offset="0.3240" stop-color="#fbfdf7"/><stop offset="0.5449" stop-color="#f8fcf5"/><stop offset="0.6204" stop-color="#f5fbf2"/><stop offset="0.6767" stop-color="#eff9ed"/><stop offset="0.7331" stop-color="#eaf7e6"/><stop offset="0.7894" stop-color="#e3f4e1"/><stop offset="0.8153" stop-color="#d8f0dc"/><stop offset="0.8413" stop-color="#cbebdd"/><stop offset="0.8672" stop-color="#bde6e2"/><stop offset="0.8935" stop-color="#b0dee6"/><stop offset="0.9197" stop-color="#a4d7e8"/><stop offset="0.9216" stop-color="#96c7df"/><stop offset="0.9477" stop-color="#8ebedb"/><stop offset="0.9738" stop-color="#86b6d7"/><stop offset="0.9757" stop-color="#84abcc"/><stop offset="1.0000" stop-color="#84a3c3"/></linearGradient><linearGradient id="gl94" gradientUnits="userSpaceOnUse" x1="38.50" y1="0" x2="348.40" y2="0"><stop offset="0.0000" stop-color="#fbfef8"/><stop offset="0.2607" stop-color="#fbfef8"/><stop offset="0.3263" stop-color="#fbfdf7"/><stop offset="0.5472" stop-color="#f8fcf5"/><stop offset="0.6226" stop-color="#f5fbf2"/><stop offset="0.6789" stop-color="#eff9ed"/><stop offset="0.7352" stop-color="#eaf7e6"/><stop offset="0.7914" stop-color="#e3f4e1"/><stop offset="0.8170" stop-color="#d8f0dc"/><stop offset="0.8426" stop-color="#cbebdd"/><stop offset="0.8681" stop-color="#bde6e2"/><stop offset="0.8942" stop-color="#b0dee6"/><stop offset="0.9203" stop-color="#a4d7e8"/><stop offset="0.9222" stop-color="#96c7df"/><stop offset="0.9481" stop-color="#8ebedb"/><stop offset="0.9740" stop-color="#86b6d7"/><stop offset="0.9759" stop-color="#84abcc"/><stop offset="1.0000" stop-color="#84a3c3"/></linearGradient><linearGradient id="gl95" gradientUnits="userSpaceOnUse" x1="38.50" y1="0" x2="348.40" y2="0"><stop offset="0.0000" stop-color="#fbfef8"/><stop offset="0.2649" stop-color="#fbfef8"/><stop offset="0.3287" stop-color="#fbfdf7"/><stop offset="0.5497" stop-color="#f8fcf5"/><stop offset="0.6248" stop-color="#f5fbf2"/><stop offset="0.6810" stop-color="#eff9ed"/><stop offset="0.7372" stop-color="#eaf7e6"/><stop offset="0.7935" stop-color="#e3f4e1"/><stop offset="0.8187" stop-color="#d8f0dc"/><stop offset="0.8439" stop-color="#cbebdd"/><stop offset="0.8691" stop-color="#bde6e2"/><stop offset="0.8952" stop-color="#b0dee6"/><stop offset="0.9214" stop-color="#a4d7e8"/><stop offset="0.9233" stop-color="#96c7df"/><stop offset="0.9487" stop-color="#8ebedb"/><stop offset="0.9742" stop-color="#86b6d7"/><stop offset="0.9761" stop-color="#84abcc"/><stop offset="1.0000" stop-color="#84a3c3"/></linearGradient><linearGradient id="gl96" gradientUnits="userSpaceOnUse" x1="38.50" y1="0" x2="348.40" y2="0"><stop offset="0.0000" stop-color="#fbfef8"/><stop offset="0.2693" stop-color="#fbfef8"/><stop offset="0.3310" stop-color="#fbfdf7"/><stop offset="0.5529" stop-color="#f8fcf5"/><stop offset="0.6268" stop-color="#f5fbf2"/><stop offset="0.6831" stop-color="#eff9ed"/><stop offset="0.7393" stop-color="#eaf7e6"/><stop offset="0.7955" stop-color="#e3f4e1"/><stop offset="0.8203" stop-color="#d8f0dc"/><stop offset="0.8452" stop-color="#cbebdd"/><stop offset="0.8700" stop-color="#bde6e2"/><stop offset="0.8962" stop-color="#b0dee6"/><stop offset="0.9224" stop-color="#a4d7e8"/><stop offset="0.9244" stop-color="#96c7df"/><stop offset="0.9494" stop-color="#8ebedb"/><stop offset="0.9744" stop-color="#86b6d7"/><stop offset="0.9763" stop-color="#84abcc"/><stop offset="1.0000" stop-color="#84a3c3"/></linearGradient><linearGradient id="gl97" gradientUnits="userSpaceOnUse" x1="38.50" y1="0" x2="348.40" y2="0"><stop offset="0.0000" stop-color="#fbfef8"/><stop offset="0.2737" stop-color="#fbfef8"/><stop offset="0.3333" stop-color="#fbfdf7"/><stop offset="0.5561" stop-color="#f8fcf5"/><stop offset="0.6289" stop-color="#f5fbf2"/><stop offset="0.6851" stop-color="#eff9ed"/><stop offset="0.7413" stop-color="#eaf7e6"/><stop offset="0.7975" stop-color="#e3f4e1"/><stop offset="0.8220" stop-color="#d8f0dc"/><stop offset="0.8465" stop-color="#cbebdd"/><stop offset="0.8709" stop-color="#bde6e2"/><stop offset="0.8972" stop-color="#b0dee6"/><stop offset="0.9235" stop-color="#a4d7e8"/><stop offset="0.9254" stop-color="#96c7df"/><stop offset="0.9500" stop-color="#8ebedb"/><stop offset="0.9746" stop-color="#86b6d7"/><stop offset="0.9766" stop-color="#84abcc"/><stop offset="1.0000" stop-color="#84a3c3"/></linearGradient><linearGradient id="gl98" gradientUnits="userSpaceOnUse" x1="38.50" y1="0" x2="348.40" y2="0"><stop offset="0.0000" stop-color="#fbfef8"/><stop offset="0.2781" stop-color="#fbfef8"/><stop offset="0.3357" stop-color="#fbfdf7"/><stop offset="0.5593" stop-color="#f8fcf5"/><stop offset="0.6310" stop-color="#f5fbf2"/><stop offset="0.6872" stop-color="#eff9ed"/><stop offset="0.7434" stop-color="#eaf7e6"/><stop offset="0.7995" stop-color="#e3f4e1"/><stop offset="0.8237" stop-color="#d8f0dc"/><stop offset="0.8478" stop-color="#cbebdd"/><stop offset="0.8720" stop-color="#bde6e2"/><stop offset="0.8983" stop-color="#b0dee6"/><stop offset="0.9246" stop-color="#a4d7e8"/><stop offset="0.9265" stop-color="#96c7df"/><stop offset="0.9507" stop-color="#8ebedb"/><stop offset="0.9748" stop-color="#86b6d7"/><stop offset="0.9768" stop-color="#84abcc"/><stop offset="1.0000" stop-color="#84a3c3"/></linearGradient><linearGradient id="gl99" gradientUnits="userSpaceOnUse" x1="38.50" y1="0" x2="348.40" y2="0"><stop offset="0.0000" stop-color="#fbfef8"/><stop offset="0.0055" stop-color="#fbfef8"/><stop offset="0.2823" stop-color="#fbfef8"/><stop offset="0.3380" stop-color="#fbfdf7"/><stop offset="0.5625" stop-color="#f8fcf5"/><stop offset="0.6331" stop-color="#f5fbf2"/><stop offset="0.6892" stop-color="#eff9ed"/><stop offset="0.7454" stop-color="#eaf7e6"/><stop offset="0.8016" stop-color="#e3f4e1"/><stop offset="0.8254" stop-color="#d8f0dc"/><stop offset="0.8492" stop-color="#cbebdd"/><stop offset="0.8730" stop-color="#bde6e2"/><stop offset="0.8993" stop-color="#b0dee6"/><stop offset="0.9256" stop-color="#a4d7e8"/><stop offset="0.9276" stop-color="#96c7df"/><stop offset="0.9513" stop-color="#8ebedb"/><stop offset="0.9750" stop-color="#86b6d7"/><stop offset="0.9770" stop-color="#84abcc"/><stop offset="1.0000" stop-color="#84a3c3"/></linearGradient><linearGradient id="gl100" gradientUnits="userSpaceOnUse" x1="38.50" y1="0" x2="348.40" y2="0"><stop offset="0.0000" stop-color="#fbfef8"/><stop offset="0.0119" stop-color="#fbfef8"/><stop offset="0.2862" stop-color="#fbfef8"/><stop offset="0.3403" stop-color="#fbfdf7"/><stop offset="0.5661" stop-color="#f8fcf5"/><stop offset="0.6352" stop-color="#f5fbf2"/><stop offset="0.6913" stop-color="#eff9ed"/><stop offset="0.7474" stop-color="#eaf7e6"/><stop offset="0.8036" stop-color="#e3f4e1"/><stop offset="0.8271" stop-color="#d8f0dc"/><stop offset="0.8506" stop-color="#cbebdd"/><stop offset="0.8741" stop-color="#bde6e2"/><stop offset="0.9004" stop-color="#b0dee6"/><stop offset="0.9267" stop-color="#a4d7e8"/><stop offset="0.9286" stop-color="#96c7df"/><stop offset="0.9522" stop-color="#8ebedb"/><stop offset="0.9758" stop-color="#86b6d7"/><stop offset="0.9777" stop-color="#84abcc"/><stop offset="1.0000" stop-color="#84a3c3"/></linearGradient><linearGradient id="gl101" gradientUnits="userSpaceOnUse" x1="38.50" y1="0" x2="348.40" y2="0"><stop offset="0.0000" stop-color="#fbfef8"/><stop offset="0.0219" stop-color="#fbfef8"/><stop offset="0.2902" stop-color="#fbfef8"/><stop offset="0.3433" stop-color="#fbfdf7"/><stop offset="0.5699" stop-color="#f8fcf5"/><stop offset="0.6372" stop-color="#f5fbf2"/><stop offset="0.6934" stop-color="#eff9ed"/><stop offset="0.7496" stop-color="#eaf7e6"/><stop offset="0.8057" stop-color="#e3f4e1"/><stop offset="0.8289" stop-color="#d8f0dc"/><stop offset="0.8520" stop-color="#cbebdd"/><stop offset="0.8751" stop-color="#bde6e2"/><stop offset="0.9015" stop-color="#b0dee6"/><stop offset="0.9278" stop-color="#a4d7e8"/><stop offset="0.9297" stop-color="#96c7df"/><stop offset="0.9533" stop-color="#8ebedb"/><stop offset="0.9770" stop-color="#86b6d7"/><stop offset="0.9789" stop-color="#84abcc"/><stop offset="1.0000" stop-color="#84a3c3"/></linearGradient><linearGradient id="gl102" gradientUnits="userSpaceOnUse" x1="38.50" y1="0" x2="348.40" y2="0"><stop offset="0.0000" stop-color="#fbfef8"/><stop offset="0.0310" stop-color="#fbfef8"/><stop offset="0.2942" stop-color="#fbfef8"/><stop offset="0.3481" stop-color="#fbfdf7"/><stop offset="0.5737" stop-color="#f8fcf5"/><stop offset="0.6410" stop-color="#f5fbf2"/><stop offset="0.6970" stop-color="#eff9ed"/><stop offset="0.7530" stop-color="#eaf7e6"/><stop offset="0.8090" stop-color="#e3f4e1"/><stop offset="0.8314" stop-color="#d8f0dc"/><stop offset="0.8538" stop-color="#cbebdd"/><stop offset="0.8762" stop-color="#bde6e2"/><stop offset="0.9025" stop-color="#b0dee6"/><stop offset="0.9288" stop-color="#a4d7e8"/><stop offset="0.9308" stop-color="#96c7df"/><stop offset="0.9545" stop-color="#8ebedb"/><stop offset="0.9782" stop-color="#86b6d7"/><stop offset="0.9801" stop-color="#84abcc"/><stop offset="1.0000" stop-color="#84a3c3"/></linearGradient><linearGradient id="gl103" gradientUnits="userSpaceOnUse" x1="38.50" y1="0" x2="348.40" y2="0"><stop offset="0.0000" stop-color="#fbfef8"/><stop offset="0.0383" stop-color="#fbfef8"/><stop offset="0.2982" stop-color="#fbfef8"/><stop offset="0.3530" stop-color="#fbfdf7"/><stop offset="0.5775" stop-color="#f8fcf5"/><stop offset="0.6465" stop-color="#f5fbf2"/><stop offset="0.7017" stop-color="#eff9ed"/><stop offset="0.7570" stop-color="#eaf7e6"/><stop offset="0.8123" stop-color="#e3f4e1"/><stop offset="0.8343" stop-color="#d8f0dc"/><stop offset="0.8563" stop-color="#cbebdd"/><stop offset="0.8784" stop-color="#bde6e2"/><stop offset="0.9041" stop-color="#b0dee6"/><stop offset="0.9299" stop-color="#a4d7e8"/><stop offset="0.9318" stop-color="#96c7df"/><stop offset="0.9556" stop-color="#8ebedb"/><stop offset="0.9794" stop-color="#86b6d7"/><stop offset="0.9813" stop-color="#84abcc"/><stop offset="1.0000" stop-color="#84a3c3"/></linearGradient><linearGradient id="gl104" gradientUnits="userSpaceOnUse" x1="38.50" y1="0" x2="348.40" y2="0"><stop offset="0.0000" stop-color="#fbfef8"/><stop offset="0.0481" stop-color="#fbfef8"/><stop offset="0.3034" stop-color="#fbfef8"/><stop offset="0.3579" stop-color="#fbfdf7"/><stop offset="0.5820" stop-color="#f8fcf5"/><stop offset="0.6519" stop-color="#f5fbf2"/><stop offset="0.7065" stop-color="#eff9ed"/><stop offset="0.7610" stop-color="#eaf7e6"/><stop offset="0.8155" stop-color="#e3f4e1"/><stop offset="0.8373" stop-color="#d8f0dc"/><stop offset="0.8590" stop-color="#cbebdd"/><stop offset="0.8808" stop-color="#bde6e2"/><stop offset="0.9059" stop-color="#b0dee6"/><stop offset="0.9310" stop-color="#a4d7e8"/><stop offset="0.9329" stop-color="#96c7df"/><stop offset="0.9567" stop-color="#8ebedb"/><stop offset="0.9805" stop-color="#86b6d7"/><stop offset="0.9824" stop-color="#84abcc"/><stop offset="1.0000" stop-color="#84a3c3"/></linearGradient><linearGradient id="gl105" gradientUnits="userSpaceOnUse" x1="38.50" y1="0" x2="348.40" y2="0"><stop offset="0.0000" stop-color="#fbfef8"/><stop offset="0.0610" stop-color="#fbfef8"/><stop offset="0.3086" stop-color="#fbfef8"/><stop offset="0.3628" stop-color="#fbfdf7"/><stop offset="0.5866" stop-color="#f8fcf5"/><stop offset="0.6574" stop-color="#f5fbf2"/><stop offset="0.7112" stop-color="#eff9ed"/><stop offset="0.7650" stop-color="#eaf7e6"/><stop offset="0.8188" stop-color="#e3f4e1"/><stop offset="0.8403" stop-color="#d8f0dc"/><stop offset="0.8618" stop-color="#cbebdd"/><stop offset="0.8833" stop-color="#bde6e2"/><stop offset="0.9076" stop-color="#b0dee6"/><stop offset="0.9320" stop-color="#a4d7e8"/><stop offset="0.9340" stop-color="#96c7df"/><stop offset="0.9577" stop-color="#8ebedb"/><stop offset="0.9814" stop-color="#86b6d7"/><stop offset="0.9834" stop-color="#84abcc"/><stop offset="1.0000" stop-color="#84a3c3"/></linearGradient><linearGradient id="gl106" gradientUnits="userSpaceOnUse" x1="38.50" y1="0" x2="348.40" y2="0"><stop offset="0.0000" stop-color="#fbfef8"/><stop offset="0.0739" stop-color="#fbfef8"/><stop offset="0.3142" stop-color="#fbfef8"/><stop offset="0.3698" stop-color="#fbfdf7"/><stop offset="0.5912" stop-color="#f8fcf5"/><stop offset="0.6628" stop-color="#f5fbf2"/><stop offset="0.7159" stop-color="#eff9ed"/><stop offset="0.7690" stop-color="#eaf7e6"/><stop offset="0.8220" stop-color="#e3f4e1"/><stop offset="0.8433" stop-color="#d8f0dc"/><stop offset="0.8645" stop-color="#cbebdd"/><stop offset="0.8857" stop-color="#bde6e2"/><stop offset="0.9094" stop-color="#b0dee6"/><stop offset="0.9331" stop-color="#a4d7e8"/><stop offset="0.9350" stop-color="#96c7df"/><stop offset="0.9587" stop-color="#8ebedb"/><stop offset="0.9824" stop-color="#86b6d7"/><stop offset="0.9843" stop-color="#84abcc"/><stop offset="1.0000" stop-color="#84a3c3"/></linearGradient><linearGradient id="gl107" gradientUnits="userSpaceOnUse" x1="38.50" y1="0" x2="348.40" y2="0"><stop offset="0.0000" stop-color="#fbfef8"/><stop offset="0.0870" stop-color="#fbfef8"/><stop offset="0.3223" stop-color="#fbfef8"/><stop offset="0.3775" stop-color="#fbfdf7"/><stop offset="0.5965" stop-color="#f8fcf5"/><stop offset="0.6701" stop-color="#f5fbf2"/><stop offset="0.7223" stop-color="#eff9ed"/><stop offset="0.7746" stop-color="#eaf7e6"/><stop offset="0.8268" stop-color="#e3f4e1"/><stop offset="0.8472" stop-color="#d8f0dc"/><stop offset="0.8677" stop-color="#cbebdd"/><stop offset="0.8881" stop-color="#bde6e2"/><stop offset="0.9112" stop-color="#b0dee6"/><stop offset="0.9342" stop-color="#a4d7e8"/><stop offset="0.9361" stop-color="#96c7df"/><stop offset="0.9597" stop-color="#8ebedb"/><stop offset="0.9833" stop-color="#86b6d7"/><stop offset="0.9853" stop-color="#84abcc"/><stop offset="1.0000" stop-color="#84a3c3"/></linearGradient><linearGradient id="gl108" gradientUnits="userSpaceOnUse" x1="38.50" y1="0" x2="348.40" y2="0"><stop offset="0.0000" stop-color="#fbfef8"/><stop offset="0.1030" stop-color="#fbfef8"/><stop offset="0.3304" stop-color="#fbfef8"/><stop offset="0.3852" stop-color="#fbfdf7"/><stop offset="0.6037" stop-color="#f8fcf5"/><stop offset="0.6775" stop-color="#f5fbf2"/><stop offset="0.7289" stop-color="#eff9ed"/><stop offset="0.7803" stop-color="#eaf7e6"/><stop offset="0.8316" stop-color="#e3f4e1"/><stop offset="0.8516" stop-color="#d8f0dc"/><stop offset="0.8715" stop-color="#cbebdd"/><stop offset="0.8914" stop-color="#bde6e2"/><stop offset="0.9139" stop-color="#b0dee6"/><stop offset="0.9364" stop-color="#a4d7e8"/><stop offset="0.9383" stop-color="#96c7df"/><stop offset="0.9613" stop-color="#8ebedb"/><stop offset="0.9843" stop-color="#86b6d7"/><stop offset="0.9862" stop-color="#84abcc"/><stop offset="1.0000" stop-color="#84a3c3"/></linearGradient><linearGradient id="gl109" gradientUnits="userSpaceOnUse" x1="38.50" y1="0" x2="348.40" y2="0"><stop offset="0.0000" stop-color="#fbfef8"/><stop offset="0.1190" stop-color="#fbfef8"/><stop offset="0.3385" stop-color="#fbfef8"/><stop offset="0.3929" stop-color="#fbfdf7"/><stop offset="0.6109" stop-color="#f8fcf5"/><stop offset="0.6849" stop-color="#f5fbf2"/><stop offset="0.7354" stop-color="#eff9ed"/><stop offset="0.7859" stop-color="#eaf7e6"/><stop offset="0.8365" stop-color="#e3f4e1"/><stop offset="0.8560" stop-color="#d8f0dc"/><stop offset="0.8755" stop-color="#cbebdd"/><stop offset="0.8951" stop-color="#bde6e2"/><stop offset="0.9168" stop-color="#b0dee6"/><stop offset="0.9386" stop-color="#a4d7e8"/><stop offset="0.9405" stop-color="#96c7df"/><stop offset="0.9629" stop-color="#8ebedb"/><stop offset="0.9852" stop-color="#86b6d7"/><stop offset="0.9872" stop-color="#84abcc"/><stop offset="1.0000" stop-color="#84a3c3"/></linearGradient><linearGradient id="gl110" gradientUnits="userSpaceOnUse" x1="38.50" y1="0" x2="348.40" y2="0"><stop offset="0.0000" stop-color="#fbfef8"/><stop offset="0.1351" stop-color="#fbfef8"/><stop offset="0.3466" stop-color="#fbfef8"/><stop offset="0.4006" stop-color="#fbfdf7"/><stop offset="0.6191" stop-color="#f8fcf5"/><stop offset="0.6923" stop-color="#f5fbf2"/><stop offset="0.7419" stop-color="#eff9ed"/><stop offset="0.7916" stop-color="#eaf7e6"/><stop offset="0.8413" stop-color="#e3f4e1"/><stop offset="0.8605" stop-color="#d8f0dc"/><stop offset="0.8796" stop-color="#cbebdd"/><stop offset="0.8988" stop-color="#bde6e2"/><stop offset="0.9198" stop-color="#b0dee6"/><stop offset="0.9408" stop-color="#a4d7e8"/><stop offset="0.9427" stop-color="#96c7df"/><stop offset="0.9644" stop-color="#8ebedb"/><stop offset="0.9862" stop-color="#86b6d7"/><stop offset="0.9881" stop-color="#84abcc"/><stop offset="1.0000" stop-color="#84a3c3"/></linearGradient><linearGradient id="gl111" gradientUnits="userSpaceOnUse" x1="38.50" y1="0" x2="348.40" y2="0"><stop offset="0.0000" stop-color="#fbfef8"/><stop offset="0.1458" stop-color="#fbfef8"/><stop offset="0.3557" stop-color="#fbfef8"/><stop offset="0.4084" stop-color="#fbfdf7"/><stop offset="0.6277" stop-color="#f8fcf5"/><stop offset="0.6998" stop-color="#f5fbf2"/><stop offset="0.7486" stop-color="#eff9ed"/><stop offset="0.7974" stop-color="#eaf7e6"/><stop offset="0.8462" stop-color="#e3f4e1"/><stop offset="0.8649" stop-color="#d8f0dc"/><stop offset="0.8837" stop-color="#cbebdd"/><stop offset="0.9025" stop-color="#bde6e2"/><stop offset="0.9227" stop-color="#b0dee6"/><stop offset="0.9429" stop-color="#a4d7e8"/><stop offset="0.9449" stop-color="#96c7df"/><stop offset="0.9660" stop-color="#8ebedb"/><stop offset="0.9872" stop-color="#86b6d7"/><stop offset="0.9891" stop-color="#84abcc"/><stop offset="1.0000" stop-color="#84a3c3"/></linearGradient><linearGradient id="gl112" gradientUnits="userSpaceOnUse" x1="38.50" y1="0" x2="348.40" y2="0"><stop offset="0.0000" stop-color="#fbfef8"/><stop offset="0.1555" stop-color="#fbfef8"/><stop offset="0.3654" stop-color="#fbfef8"/><stop offset="0.4187" stop-color="#fbfdf7"/><stop offset="0.6363" stop-color="#f8fcf5"/><stop offset="0.7077" stop-color="#f5fbf2"/><stop offset="0.7554" stop-color="#eff9ed"/><stop offset="0.8031" stop-color="#eaf7e6"/><stop offset="0.8508" stop-color="#e3f4e1"/><stop offset="0.8693" stop-color="#d8f0dc"/><stop offset="0.8877" stop-color="#cbebdd"/><stop offset="0.9062" stop-color="#bde6e2"/><stop offset="0.9257" stop-color="#b0dee6"/><stop offset="0.9451" stop-color="#a4d7e8"/><stop offset="0.9471" stop-color="#96c7df"/><stop offset="0.9676" stop-color="#8ebedb"/><stop offset="0.9882" stop-color="#86b6d7"/><stop offset="0.9901" stop-color="#84abcc"/><stop offset="1.0000" stop-color="#84a3c3"/></linearGradient><linearGradient id="gl113" gradientUnits="userSpaceOnUse" x1="38.50" y1="0" x2="348.40" y2="0"><stop offset="0.0000" stop-color="#fbfef8"/><stop offset="0.1709" stop-color="#fbfef8"/><stop offset="0.3750" stop-color="#fbfef8"/><stop offset="0.4291" stop-color="#fbfdf7"/><stop offset="0.6449" stop-color="#f8fcf5"/><stop offset="0.7156" stop-color="#f5fbf2"/><stop offset="0.7622" stop-color="#eff9ed"/><stop offset="0.8087" stop-color="#eaf7e6"/><stop offset="0.8553" stop-color="#e3f4e1"/><stop offset="0.8738" stop-color="#d8f0dc"/><stop offset="0.8924" stop-color="#cbebdd"/><stop offset="0.9109" stop-color="#bde6e2"/><stop offset="0.9291" stop-color="#b0dee6"/><stop offset="0.9473" stop-color="#a4d7e8"/><stop offset="0.9493" stop-color="#96c7df"/><stop offset="0.9692" stop-color="#8ebedb"/><stop offset="0.9892" stop-color="#86b6d7"/><stop offset="0.9911" stop-color="#84abcc"/><stop offset="1.0000" stop-color="#84a3c3"/></linearGradient><linearGradient id="gl114" gradientUnits="userSpaceOnUse" x1="38.50" y1="0" x2="348.40" y2="0"><stop offset="0.0000" stop-color="#fbfef8"/><stop offset="0.1900" stop-color="#fbfef8"/><stop offset="0.3847" stop-color="#fbfef8"/><stop offset="0.4394" stop-color="#fbfdf7"/><stop offset="0.6538" stop-color="#f8fcf5"/><stop offset="0.7235" stop-color="#f5fbf2"/><stop offset="0.7689" stop-color="#eff9ed"/><stop offset="0.8144" stop-color="#eaf7e6"/><stop offset="0.8598" stop-color="#e3f4e1"/><stop offset="0.8784" stop-color="#d8f0dc"/><stop offset="0.8970" stop-color="#cbebdd"/><stop offset="0.9156" stop-color="#bde6e2"/><stop offset="0.9326" stop-color="#b0dee6"/><stop offset="0.9495" stop-color="#a4d7e8"/><stop offset="0.9515" stop-color="#96c7df"/><stop offset="0.9708" stop-color="#8ebedb"/><stop offset="0.9902" stop-color="#86b6d7"/><stop offset="0.9921" stop-color="#84abcc"/><stop offset="1.0000" stop-color="#84a3c3"/></linearGradient><linearGradient id="gl115" gradientUnits="userSpaceOnUse" x1="38.50" y1="0" x2="348.40" y2="0"><stop offset="0.0000" stop-color="#fbfef8"/><stop offset="0.2092" stop-color="#fbfef8"/><stop offset="0.3946" stop-color="#fbfef8"/><stop offset="0.4497" stop-color="#fbfdf7"/><stop offset="0.6627" stop-color="#f8fcf5"/><stop offset="0.7314" stop-color="#f5fbf2"/><stop offset="0.7757" stop-color="#eff9ed"/><stop offset="0.8200" stop-color="#eaf7e6"/><stop offset="0.8643" stop-color="#e3f4e1"/><stop offset="0.8829" stop-color="#d8f0dc"/><stop offset="0.9016" stop-color="#cbebdd"/><stop offset="0.9202" stop-color="#bde6e2"/><stop offset="0.9360" stop-color="#b0dee6"/><stop offset="0.9517" stop-color="#a4d7e8"/><stop offset="0.9537" stop-color="#96c7df"/><stop offset="0.9724" stop-color="#8ebedb"/><stop offset="0.9912" stop-color="#86b6d7"/><stop offset="0.9931" stop-color="#84abcc"/><stop offset="1.0000" stop-color="#84a3c3"/></linearGradient><linearGradient id="gl116" gradientUnits="userSpaceOnUse" x1="38.50" y1="0" x2="348.40" y2="0"><stop offset="0.0000" stop-color="#fbfef8"/><stop offset="0.2302" stop-color="#fbfef8"/><stop offset="0.4075" stop-color="#fbfef8"/><stop offset="0.4601" stop-color="#fbfdf7"/><stop offset="0.6717" stop-color="#f8fcf5"/><stop offset="0.7393" stop-color="#f5fbf2"/><stop offset="0.7825" stop-color="#eff9ed"/><stop offset="0.8256" stop-color="#eaf7e6"/><stop offset="0.8688" stop-color="#e3f4e1"/><stop offset="0.8875" stop-color="#d8f0dc"/><stop offset="0.9062" stop-color="#cbebdd"/><stop offset="0.9249" stop-color="#bde6e2"/><stop offset="0.9394" stop-color="#b0dee6"/><stop offset="0.9539" stop-color="#a4d7e8"/><stop offset="0.9559" stop-color="#96c7df"/><stop offset="0.9740" stop-color="#8ebedb"/><stop offset="0.9922" stop-color="#86b6d7"/><stop offset="0.9941" stop-color="#84abcc"/><stop offset="1.0000" stop-color="#84a3c3"/></linearGradient><linearGradient id="gl117" gradientUnits="userSpaceOnUse" x1="38.50" y1="0" x2="348.40" y2="0"><stop offset="0.0000" stop-color="#fbfef8"/><stop offset="0.2526" stop-color="#fbfef8"/><stop offset="0.4203" stop-color="#fbfef8"/><stop offset="0.4712" stop-color="#fbfdf7"/><stop offset="0.6817" stop-color="#f8fcf5"/><stop offset="0.7475" stop-color="#f5fbf2"/><stop offset="0.7895" stop-color="#eff9ed"/><stop offset="0.8315" stop-color="#eaf7e6"/><stop offset="0.8735" stop-color="#e3f4e1"/><stop offset="0.8920" stop-color="#d8f0dc"/><stop offset="0.9105" stop-color="#cbebdd"/><stop offset="0.9290" stop-color="#bde6e2"/><stop offset="0.9429" stop-color="#b0dee6"/><stop offset="0.9568" stop-color="#a4d7e8"/><stop offset="0.9588" stop-color="#96c7df"/><stop offset="0.9759" stop-color="#8ebedb"/><stop offset="0.9931" stop-color="#86b6d7"/><stop offset="0.9951" stop-color="#84abcc"/><stop offset="1.0000" stop-color="#84a3c3"/></linearGradient><linearGradient id="gl118" gradientUnits="userSpaceOnUse" x1="38.50" y1="0" x2="348.40" y2="0"><stop offset="0.0000" stop-color="#fbfef8"/><stop offset="0.2751" stop-color="#fbfef8"/><stop offset="0.4331" stop-color="#fbfef8"/><stop offset="0.4834" stop-color="#fbfdf7"/><stop offset="0.6926" stop-color="#f8fcf5"/><stop offset="0.7561" stop-color="#f5fbf2"/><stop offset="0.7969" stop-color="#eff9ed"/><stop offset="0.8376" stop-color="#eaf7e6"/><stop offset="0.8784" stop-color="#e3f4e1"/><stop offset="0.8965" stop-color="#d8f0dc"/><stop offset="0.9146" stop-color="#cbebdd"/><stop offset="0.9327" stop-color="#bde6e2"/><stop offset="0.9465" stop-color="#b0dee6"/><stop offset="0.9602" stop-color="#a4d7e8"/><stop offset="0.9621" stop-color="#96c7df"/><stop offset="0.9781" stop-color="#8ebedb"/><stop offset="0.9941" stop-color="#86b6d7"/><stop offset="0.9960" stop-color="#84abcc"/><stop offset="1.0000" stop-color="#84a3c3"/></linearGradient><linearGradient id="gl119" gradientUnits="userSpaceOnUse" x1="38.50" y1="0" x2="348.40" y2="0"><stop offset="0.0000" stop-color="#fbfef8"/><stop offset="0.2911" stop-color="#fbfef8"/><stop offset="0.4460" stop-color="#fbfef8"/><stop offset="0.4957" stop-color="#fbfdf7"/><stop offset="0.7036" stop-color="#f8fcf5"/><stop offset="0.7646" stop-color="#f5fbf2"/><stop offset="0.8042" stop-color="#eff9ed"/><stop offset="0.8438" stop-color="#eaf7e6"/><stop offset="0.8834" stop-color="#e3f4e1"/><stop offset="0.9011" stop-color="#d8f0dc"/><stop offset="0.9188" stop-color="#cbebdd"/><stop offset="0.9365" stop-color="#bde6e2"/><stop offset="0.9500" stop-color="#b0dee6"/><stop offset="0.9635" stop-color="#a4d7e8"/><stop offset="0.9654" stop-color="#96c7df"/><stop offset="0.9802" stop-color="#8ebedb"/><stop offset="0.9950" stop-color="#86b6d7"/><stop offset="0.9969" stop-color="#84abcc"/><stop offset="1.0000" stop-color="#84a3c3"/></linearGradient><linearGradient id="gl120" gradientUnits="userSpaceOnUse" x1="38.50" y1="0" x2="348.40" y2="0"><stop offset="0.0000" stop-color="#fbfef8"/><stop offset="0.3042" stop-color="#fbfef8"/><stop offset="0.4605" stop-color="#fbfef8"/><stop offset="0.5079" stop-color="#fbfdf7"/><stop offset="0.7145" stop-color="#f8fcf5"/><stop offset="0.7732" stop-color="#f5fbf2"/><stop offset="0.8116" stop-color="#eff9ed"/><stop offset="0.8500" stop-color="#eaf7e6"/><stop offset="0.8884" stop-color="#e3f4e1"/><stop offset="0.9057" stop-color="#d8f0dc"/><stop offset="0.9230" stop-color="#cbebdd"/><stop offset="0.9402" stop-color="#bde6e2"/><stop offset="0.9535" stop-color="#b0dee6"/><stop offset="0.9669" stop-color="#a4d7e8"/><stop offset="0.9688" stop-color="#96c7df"/><stop offset="0.9823" stop-color="#8ebedb"/><stop offset="0.9959" stop-color="#86b6d7"/><stop offset="0.9978" stop-color="#84abcc"/><stop offset="1.0000" stop-color="#84a3c3"/></linearGradient><linearGradient id="gl121" gradientUnits="userSpaceOnUse" x1="38.50" y1="0" x2="348.40" y2="0"><stop offset="0.0000" stop-color="#fbfef8"/><stop offset="0.3180" stop-color="#fbfef8"/><stop offset="0.4765" stop-color="#fbfef8"/><stop offset="0.5221" stop-color="#fbfdf7"/><stop offset="0.7254" stop-color="#f8fcf5"/><stop offset="0.7817" stop-color="#f5fbf2"/><stop offset="0.8189" stop-color="#eff9ed"/><stop offset="0.8562" stop-color="#eaf7e6"/><stop offset="0.8934" stop-color="#e3f4e1"/><stop offset="0.9102" stop-color="#d8f0dc"/><stop offset="0.9271" stop-color="#cbebdd"/><stop offset="0.9440" stop-color="#bde6e2"/><stop offset="0.9571" stop-color="#b0dee6"/><stop offset="0.9702" stop-color="#a4d7e8"/><stop offset="0.9721" stop-color="#96c7df"/><stop offset="0.9845" stop-color="#8ebedb"/><stop offset="0.9968" stop-color="#86b6d7"/><stop offset="0.9988" stop-color="#84abcc"/><stop offset="1.0000" stop-color="#84a3c3"/></linearGradient><linearGradient id="gl122" gradientUnits="userSpaceOnUse" x1="38.50" y1="0" x2="348.40" y2="0"><stop offset="0.0000" stop-color="#fbfef8"/><stop offset="0.3428" stop-color="#fbfef8"/><stop offset="0.4924" stop-color="#fbfef8"/><stop offset="0.5386" stop-color="#fbfdf7"/><stop offset="0.7364" stop-color="#f8fcf5"/><stop offset="0.7903" stop-color="#f5fbf2"/><stop offset="0.8263" stop-color="#eff9ed"/><stop offset="0.8623" stop-color="#eaf7e6"/><stop offset="0.8984" stop-color="#e3f4e1"/><stop offset="0.9148" stop-color="#d8f0dc"/><stop offset="0.9313" stop-color="#cbebdd"/><stop offset="0.9477" stop-color="#bde6e2"/><stop offset="0.9606" stop-color="#b0dee6"/><stop offset="0.9735" stop-color="#a4d7e8"/><stop offset="0.9755" stop-color="#96c7df"/><stop offset="0.9866" stop-color="#8ebedb"/><stop offset="0.9977" stop-color="#86b6d7"/><stop offset="0.9997" stop-color="#84abcc"/><stop offset="1.0000" stop-color="#84a3c3"/></linearGradient><linearGradient id="gl123" gradientUnits="userSpaceOnUse" x1="38.50" y1="0" x2="348.40" y2="0"><stop offset="0.0000" stop-color="#fbfef8"/><stop offset="0.3673" stop-color="#fbfef8"/><stop offset="0.5083" stop-color="#fbfef8"/><stop offset="0.5639" stop-color="#fbfdf7"/><stop offset="0.7530" stop-color="#f8fcf5"/><stop offset="0.8032" stop-color="#f5fbf2"/><stop offset="0.8371" stop-color="#eff9ed"/><stop offset="0.8709" stop-color="#eaf7e6"/><stop offset="0.9048" stop-color="#e3f4e1"/><stop offset="0.9202" stop-color="#d8f0dc"/><stop offset="0.9356" stop-color="#cbebdd"/><stop offset="0.9509" stop-color="#bde6e2"/><stop offset="0.9633" stop-color="#b0dee6"/><stop offset="0.9756" stop-color="#a4d7e8"/><stop offset="0.9775" stop-color="#96c7df"/><stop offset="0.9888" stop-color="#8bbbd9"/><stop offset="1.0000" stop-color="#84b0d1"/></linearGradient><linearGradient id="gl124" gradientUnits="userSpaceOnUse" x1="38.50" y1="0" x2="348.40" y2="0"><stop offset="0.0000" stop-color="#fbfef8"/><stop offset="0.3892" stop-color="#fbfef8"/><stop offset="0.5284" stop-color="#fbfef8"/><stop offset="0.5893" stop-color="#fbfdf7"/><stop offset="0.7696" stop-color="#f8fcf5"/><stop offset="0.8162" stop-color="#f5fbf2"/><stop offset="0.8479" stop-color="#eff9ed"/><stop offset="0.8796" stop-color="#eaf7e6"/><stop offset="0.9113" stop-color="#e3f4e1"/><stop offset="0.9256" stop-color="#d8f0dc"/><stop offset="0.9398" stop-color="#cbebdd"/><stop offset="0.9541" stop-color="#bde6e2"/><stop offset="0.9659" stop-color="#b0dee6"/><stop offset="0.9776" stop-color="#a4d7e8"/><stop offset="0.9796" stop-color="#96c7df"/><stop offset="0.9898" stop-color="#8bbbd9"/><stop offset="1.0000" stop-color="#84b0d1"/></linearGradient><linearGradient id="gl125" gradientUnits="userSpaceOnUse" x1="38.50" y1="0" x2="348.40" y2="0"><stop offset="0.0000" stop-color="#fbfef8"/><stop offset="0.4112" stop-color="#fbfef8"/><stop offset="0.5513" stop-color="#fbfef8"/><stop offset="0.6147" stop-color="#fbfdf7"/><stop offset="0.7862" stop-color="#f8fcf5"/><stop offset="0.8292" stop-color="#f5fbf2"/><stop offset="0.8587" stop-color="#eff9ed"/><stop offset="0.8882" stop-color="#eaf7e6"/><stop offset="0.9177" stop-color="#e3f4e1"/><stop offset="0.9309" stop-color="#d8f0dc"/><stop offset="0.9441" stop-color="#cbebdd"/><stop offset="0.9573" stop-color="#bde6e2"/><stop offset="0.9685" stop-color="#b0dee6"/><stop offset="0.9797" stop-color="#a4d7e8"/><stop offset="0.9816" stop-color="#96c7df"/><stop offset="0.9908" stop-color="#8bbbd9"/><stop offset="1.0000" stop-color="#84b0d1"/></linearGradient><linearGradient id="gl126" gradientUnits="userSpaceOnUse" x1="38.50" y1="0" x2="348.40" y2="0"><stop offset="0.0000" stop-color="#fbfef8"/><stop offset="0.4338" stop-color="#fbfef8"/><stop offset="0.5809" stop-color="#fbfef8"/><stop offset="0.6401" stop-color="#fbfdf7"/><stop offset="0.8033" stop-color="#f8fcf5"/><stop offset="0.8421" stop-color="#f5fbf2"/><stop offset="0.8695" stop-color="#eff9ed"/><stop offset="0.8968" stop-color="#eaf7e6"/><stop offset="0.9242" stop-color="#e3f4e1"/><stop offset="0.9363" stop-color="#d8f0dc"/><stop offset="0.9484" stop-color="#cbebdd"/><stop offset="0.9605" stop-color="#bde6e2"/><stop offset="0.9711" stop-color="#b0dee6"/><stop offset="0.9817" stop-color="#a4d7e8"/><stop offset="0.9837" stop-color="#96c7df"/><stop offset="0.9918" stop-color="#8bbbd9"/><stop offset="1.0000" stop-color="#84b0d1"/></linearGradient><linearGradient id="gl127" gradientUnits="userSpaceOnUse" x1="38.50" y1="0" x2="348.40" y2="0"><stop offset="0.0000" stop-color="#fbfef8"/><stop offset="0.4592" stop-color="#fbfef8"/><stop offset="0.6117" stop-color="#fbfef8"/><stop offset="0.6664" stop-color="#fbfdf7"/><stop offset="0.8219" stop-color="#f8fcf5"/><stop offset="0.8551" stop-color="#f5fbf2"/><stop offset="0.8803" stop-color="#eff9ed"/><stop offset="0.9054" stop-color="#eaf7e6"/><stop offset="0.9306" stop-color="#e3f4e1"/><stop offset="0.9417" stop-color="#d8f0dc"/><stop offset="0.9527" stop-color="#cbebdd"/><stop offset="0.9637" stop-color="#bde6e2"/><stop offset="0.9738" stop-color="#b0dee6"/><stop offset="0.9838" stop-color="#a4d7e8"/><stop offset="0.9857" stop-color="#96c7df"/><stop offset="0.9928" stop-color="#8bbbd9"/><stop offset="1.0000" stop-color="#84b0d1"/></linearGradient><linearGradient id="gl128" gradientUnits="userSpaceOnUse" x1="38.50" y1="0" x2="348.40" y2="0"><stop offset="0.0000" stop-color="#fbfef8"/><stop offset="0.4962" stop-color="#fbfef8"/><stop offset="0.6425" stop-color="#fbfef8"/><stop offset="0.6935" stop-color="#fbfdf7"/><stop offset="0.8405" stop-color="#f8fcf5"/><stop offset="0.8686" stop-color="#f5fbf2"/><stop offset="0.8913" stop-color="#eff9ed"/><stop offset="0.9140" stop-color="#eaf7e6"/><stop offset="0.9367" stop-color="#e3f4e1"/><stop offset="0.9468" stop-color="#d8f0dc"/><stop offset="0.9569" stop-color="#cbebdd"/><stop offset="0.9669" stop-color="#bde6e2"/><stop offset="0.9764" stop-color="#b0dee6"/><stop offset="0.9858" stop-color="#a4d7e8"/><stop offset="0.9877" stop-color="#96c7df"/><stop offset="0.9939" stop-color="#8bbbd9"/><stop offset="1.0000" stop-color="#84b0d1"/></linearGradient><linearGradient id="gl129" gradientUnits="userSpaceOnUse" x1="38.50" y1="0" x2="348.40" y2="0"><stop offset="0.0000" stop-color="#fbfef8"/><stop offset="0.5317" stop-color="#fbfef8"/><stop offset="0.6745" stop-color="#fbfef8"/><stop offset="0.7251" stop-color="#fbfdf7"/><stop offset="0.8591" stop-color="#f8fcf5"/><stop offset="0.8829" stop-color="#f5fbf2"/><stop offset="0.9026" stop-color="#eff9ed"/><stop offset="0.9224" stop-color="#eaf7e6"/><stop offset="0.9422" stop-color="#e3f4e1"/><stop offset="0.9515" stop-color="#d8f0dc"/><stop offset="0.9608" stop-color="#cbebdd"/><stop offset="0.9701" stop-color="#bde6e2"/><stop offset="0.9787" stop-color="#b0dee6"/><stop offset="0.9874" stop-color="#a4d7e8"/><stop offset="0.9893" stop-color="#96c7df"/><stop offset="0.9946" stop-color="#8bbbd9"/><stop offset="1.0000" stop-color="#84b0d1"/></linearGradient><linearGradient id="gl130" gradientUnits="userSpaceOnUse" x1="38.50" y1="0" x2="348.40" y2="0"><stop offset="0.0000" stop-color="#fbfef8"/><stop offset="0.5657" stop-color="#fbfef8"/><stop offset="0.7070" stop-color="#fbfef8"/><stop offset="0.7612" stop-color="#fbfdf7"/><stop offset="0.8764" stop-color="#f8fcf5"/><stop offset="0.8971" stop-color="#f5fbf2"/><stop offset="0.9140" stop-color="#eff9ed"/><stop offset="0.9308" stop-color="#eaf7e6"/><stop offset="0.9477" stop-color="#e3f4e1"/><stop offset="0.9556" stop-color="#d8f0dc"/><stop offset="0.9635" stop-color="#cbebdd"/><stop offset="0.9714" stop-color="#bde6e2"/><stop offset="0.9802" stop-color="#b0dee6"/><stop offset="0.9889" stop-color="#a4d7e8"/><stop offset="0.9908" stop-color="#96c7df"/><stop offset="0.9954" stop-color="#8bbbd9"/><stop offset="1.0000" stop-color="#84b0d1"/></linearGradient><linearGradient id="gl131" gradientUnits="userSpaceOnUse" x1="38.50" y1="0" x2="348.40" y2="0"><stop offset="0.0000" stop-color="#fbfef8"/><stop offset="0.5996" stop-color="#fbfef8"/><stop offset="0.7483" stop-color="#fbfef8"/><stop offset="0.8008" stop-color="#fbfdf7"/><stop offset="0.8910" stop-color="#f8fcf5"/><stop offset="0.9104" stop-color="#f5fbf2"/><stop offset="0.9247" stop-color="#eff9ed"/><stop offset="0.9390" stop-color="#eaf7e6"/><stop offset="0.9533" stop-color="#e3f4e1"/><stop offset="0.9598" stop-color="#d8f0dc"/><stop offset="0.9663" stop-color="#cbebdd"/><stop offset="0.9728" stop-color="#bde6e2"/><stop offset="0.9816" stop-color="#b0dee6"/><stop offset="0.9904" stop-color="#a4d7e8"/><stop offset="0.9924" stop-color="#96c7df"/><stop offset="0.9962" stop-color="#8bbbd9"/><stop offset="1.0000" stop-color="#84b0d1"/></linearGradient><linearGradient id="gl132" gradientUnits="userSpaceOnUse" x1="38.50" y1="0" x2="348.40" y2="0"><stop offset="0.0000" stop-color="#fbfef8"/><stop offset="0.6004" stop-color="#fbfef8"/><stop offset="0.7933" stop-color="#fbfef8"/><stop offset="0.8438" stop-color="#fbfdf7"/><stop offset="0.9056" stop-color="#f8fcf5"/><stop offset="0.9214" stop-color="#f5fbf2"/><stop offset="0.9339" stop-color="#eff9ed"/><stop offset="0.9463" stop-color="#eaf7e6"/><stop offset="0.9588" stop-color="#e3f4e1"/><stop offset="0.9639" stop-color="#d8f0dc"/><stop offset="0.9691" stop-color="#cbebdd"/><stop offset="0.9742" stop-color="#bde6e2"/><stop offset="0.9830" stop-color="#b0dee6"/><stop offset="0.9918" stop-color="#a4d7e8"/><stop offset="0.9937" stop-color="#96c7df"/><stop offset="0.9969" stop-color="#8bbbd9"/><stop offset="1.0000" stop-color="#84b0d1"/></linearGradient><linearGradient id="gl133" gradientUnits="userSpaceOnUse" x1="38.50" y1="0" x2="348.40" y2="0"><stop offset="0.0000" stop-color="#fbfef8"/><stop offset="0.8497" stop-color="#fbfef8"/><stop offset="0.8955" stop-color="#fbfdf7"/><stop offset="0.9140" stop-color="#f8fcf5"/><stop offset="0.9325" stop-color="#f5fbf2"/><stop offset="0.9423" stop-color="#eff9ed"/><stop offset="0.9522" stop-color="#eaf7e6"/><stop offset="0.9620" stop-color="#e3f4e1"/><stop offset="0.9665" stop-color="#d8f0dc"/><stop offset="0.9710" stop-color="#cbebdd"/><stop offset="0.9756" stop-color="#bde6e2"/><stop offset="0.9840" stop-color="#b0dee6"/><stop offset="0.9925" stop-color="#a4d7e8"/><stop offset="0.9945" stop-color="#96c7df"/><stop offset="0.9972" stop-color="#8bbbd9"/><stop offset="1.0000" stop-color="#84b0d1"/></linearGradient><linearGradient id="gl134" gradientUnits="userSpaceOnUse" x1="38.50" y1="0" x2="348.40" y2="0"><stop offset="0.0000" stop-color="#fbfef8"/><stop offset="0.9084" stop-color="#fbfef8"/><stop offset="0.9374" stop-color="#fbfdf7"/><stop offset="0.9374" stop-color="#f8fcf5"/><stop offset="0.9401" stop-color="#f5fbf2"/><stop offset="0.9478" stop-color="#eff9ed"/><stop offset="0.9555" stop-color="#eaf7e6"/><stop offset="0.9632" stop-color="#e3f4e1"/><stop offset="0.9678" stop-color="#d8f0dc"/><stop offset="0.9724" stop-color="#cbebdd"/><stop offset="0.9769" stop-color="#bde6e2"/><stop offset="0.9851" stop-color="#b0dee6"/><stop offset="0.9932" stop-color="#a4d7e8"/><stop offset="0.9952" stop-color="#96c7df"/><stop offset="0.9976" stop-color="#8bbbd9"/><stop offset="1.0000" stop-color="#84b0d1"/></linearGradient><linearGradient id="gl135" gradientUnits="userSpaceOnUse" x1="38.50" y1="0" x2="348.40" y2="0"><stop offset="0.0000" stop-color="#fbfef8"/><stop offset="0.9568" stop-color="#fbfef8"/><stop offset="0.9697" stop-color="#fbfdf7"/><stop offset="0.9697" stop-color="#f8fcf5"/><stop offset="0.9697" stop-color="#f5fbf2"/><stop offset="0.9697" stop-color="#eff9ed"/><stop offset="0.9697" stop-color="#eaf7e6"/><stop offset="0.9697" stop-color="#e3f4e1"/><stop offset="0.9726" stop-color="#d8f0dc"/><stop offset="0.9754" stop-color="#cbebdd"/><stop offset="0.9783" stop-color="#bde6e2"/><stop offset="0.9861" stop-color="#b0dee6"/><stop offset="0.9940" stop-color="#a4d7e8"/><stop offset="0.9959" stop-color="#96c7df"/><stop offset="0.9980" stop-color="#8bbbd9"/><stop offset="1.0000" stop-color="#84b0d1"/></linearGradient><linearGradient id="gr0" gradientUnits="userSpaceOnUse" x1="404.90" y1="0" x2="714.40" y2="0"><stop offset="0.0000" stop-color="#eef9ec"/><stop offset="0.0024" stop-color="#eef9ec"/><stop offset="0.0024" stop-color="#edf8eb"/><stop offset="0.0190" stop-color="#edf8eb"/><stop offset="0.0190" stop-color="#ecf8e9"/><stop offset="0.0356" stop-color="#ecf8e9"/><stop offset="0.0356" stop-color="#ebf7e8"/><stop offset="0.0522" stop-color="#ebf7e8"/><stop offset="0.0522" stop-color="#e9f6e6"/><stop offset="0.0688" stop-color="#e9f6e6"/><stop offset="0.0688" stop-color="#e7f6e4"/><stop offset="0.0854" stop-color="#e7f6e4"/><stop offset="0.0854" stop-color="#e5f5e2"/><stop offset="0.1020" stop-color="#e5f5e2"/><stop offset="0.1020" stop-color="#e0f3e0"/><stop offset="0.1186" stop-color="#e0f3e0"/><stop offset="0.1186" stop-color="#dbf1dd"/><stop offset="0.1352" stop-color="#dbf1dd"/><stop offset="0.1352" stop-color="#d1eddb"/><stop offset="0.1518" stop-color="#d1eddb"/><stop offset="0.1518" stop-color="#c3e8e0"/><stop offset="0.1684" stop-color="#c3e8e0"/><stop offset="0.1684" stop-color="#b7e2e4"/><stop offset="0.1850" stop-color="#b7e2e4"/><stop offset="0.1850" stop-color="#addde7"/><stop offset="0.2016" stop-color="#addde7"/><stop offset="0.2016" stop-color="#a5d8e8"/><stop offset="0.2182" stop-color="#a5d8e8"/><stop offset="0.2182" stop-color="#a1d2e5"/><stop offset="0.2348" stop-color="#a1d2e5"/><stop offset="0.2348" stop-color="#9ccde3"/><stop offset="0.2514" stop-color="#9ccde3"/><stop offset="0.2514" stop-color="#98c8e0"/><stop offset="0.2680" stop-color="#98c8e0"/><stop offset="0.2680" stop-color="#93c4de"/><stop offset="0.2846" stop-color="#93c4de"/><stop offset="0.2846" stop-color="#8fc0dc"/><stop offset="0.3013" stop-color="#8fc0dc"/><stop offset="0.3013" stop-color="#8bbbd9"/><stop offset="0.3179" stop-color="#8bbbd9"/><stop offset="0.3179" stop-color="#87b7d7"/><stop offset="0.3345" stop-color="#87b7d7"/><stop offset="0.3345" stop-color="#84b3d5"/><stop offset="0.3511" stop-color="#84b3d5"/><stop offset="0.3511" stop-color="#84afd1"/><stop offset="0.3677" stop-color="#84afd1"/><stop offset="0.3677" stop-color="#84abcd"/><stop offset="0.3843" stop-color="#84abcd"/><stop offset="0.3843" stop-color="#84a9ca"/><stop offset="0.4009" stop-color="#84a9ca"/><stop offset="0.4009" stop-color="#84a6c7"/><stop offset="0.4175" stop-color="#84a6c7"/><stop offset="0.4175" stop-color="#84a4c5"/><stop offset="0.4341" stop-color="#84a4c5"/><stop offset="0.4341" stop-color="#84a3c4"/><stop offset="0.4507" stop-color="#84a3c4"/><stop offset="0.4507" stop-color="#84a2c3"/><stop offset="0.4673" stop-color="#84a2c3"/><stop offset="0.4673" stop-color="#84a1c2"/><stop offset="0.4839" stop-color="#84a1c2"/><stop offset="0.4839" stop-color="#84a0c1"/><stop offset="0.5005" stop-color="#84a0c1"/><stop offset="0.5005" stop-color="#84a0c0"/><stop offset="0.5171" stop-color="#84a0c0"/><stop offset="0.5171" stop-color="#84a0c0"/><stop offset="0.5337" stop-color="#84a0c0"/><stop offset="0.5337" stop-color="#84a0c0"/><stop offset="0.5503" stop-color="#84a0c0"/><stop offset="0.5503" stop-color="#84a0c0"/><stop offset="0.5669" stop-color="#84a0c0"/><stop offset="0.5669" stop-color="#84a0c0"/><stop offset="0.5835" stop-color="#84a0c0"/><stop offset="0.5835" stop-color="#84a0c0"/><stop offset="0.6001" stop-color="#84a0c0"/><stop offset="0.6001" stop-color="#84a0c0"/><stop offset="0.6167" stop-color="#84a0c0"/><stop offset="0.6167" stop-color="#84a0c0"/><stop offset="0.6333" stop-color="#84a0c0"/><stop offset="0.6333" stop-color="#84a0c0"/><stop offset="0.6499" stop-color="#84a0c0"/><stop offset="0.6499" stop-color="#84a0c0"/><stop offset="0.6665" stop-color="#84a0c0"/><stop offset="0.6665" stop-color="#84a0c0"/><stop offset="0.6831" stop-color="#84a0c0"/><stop offset="0.6831" stop-color="#84a0c0"/><stop offset="0.6998" stop-color="#84a0c0"/><stop offset="0.6998" stop-color="#84a0c0"/><stop offset="0.7164" stop-color="#84a0c0"/><stop offset="0.7164" stop-color="#84a0c0"/><stop offset="0.7330" stop-color="#84a0c0"/><stop offset="0.7330" stop-color="#84a0c0"/><stop offset="0.7496" stop-color="#84a0c0"/><stop offset="0.7496" stop-color="#84a0c0"/><stop offset="0.7662" stop-color="#84a0c0"/><stop offset="0.7662" stop-color="#84a0c0"/><stop offset="0.7828" stop-color="#84a0c0"/><stop offset="0.7828" stop-color="#84a0c0"/><stop offset="0.7994" stop-color="#84a0c0"/><stop offset="0.7994" stop-color="#84a0c0"/><stop offset="0.8160" stop-color="#84a0c0"/><stop offset="0.8160" stop-color="#84a0c0"/><stop offset="0.8326" stop-color="#84a0c0"/><stop offset="0.8326" stop-color="#84a0c0"/><stop offset="0.8492" stop-color="#84a0c0"/><stop offset="0.8492" stop-color="#84a0c0"/><stop offset="0.8658" stop-color="#84a0c0"/><stop offset="0.8658" stop-color="#84a0c0"/><stop offset="0.8824" stop-color="#84a0c0"/><stop offset="0.8824" stop-color="#84a0c0"/><stop offset="0.8990" stop-color="#84a0c0"/><stop offset="0.8990" stop-color="#84a0c0"/><stop offset="0.9156" stop-color="#84a0c0"/><stop offset="0.9156" stop-color="#84a0c0"/><stop offset="0.9322" stop-color="#84a0c0"/><stop offset="0.9322" stop-color="#84a0c0"/><stop offset="0.9488" stop-color="#84a0c0"/><stop offset="0.9488" stop-color="#84a0c0"/><stop offset="0.9654" stop-color="#84a0c0"/><stop offset="0.9654" stop-color="#84a0c0"/><stop offset="0.9820" stop-color="#84a0c0"/><stop offset="0.9820" stop-color="#84a0c0"/><stop offset="0.9986" stop-color="#84a0c0"/><stop offset="0.9986" stop-color="#84a0c0"/><stop offset="1.0000" stop-color="#84a0c0"/></linearGradient><linearGradient id="gr1" gradientUnits="userSpaceOnUse" x1="404.90" y1="0" x2="714.40" y2="0"><stop offset="0.0000" stop-color="#fbfef8"/><stop offset="0.0024" stop-color="#fbfef8"/><stop offset="0.0024" stop-color="#fbfdf7"/><stop offset="0.0190" stop-color="#fbfdf7"/><stop offset="0.0190" stop-color="#fbfdf7"/><stop offset="0.0356" stop-color="#fbfdf7"/><stop offset="0.0356" stop-color="#fbfdf7"/><stop offset="0.0522" stop-color="#fbfdf7"/><stop offset="0.0522" stop-color="#fbfdf7"/><stop offset="0.0688" stop-color="#fbfdf7"/><stop offset="0.0688" stop-color="#fbfdf7"/><stop offset="0.0854" stop-color="#fbfdf7"/><stop offset="0.0854" stop-color="#fafdf7"/><stop offset="0.1020" stop-color="#fafdf7"/><stop offset="0.1020" stop-color="#fafdf7"/><stop offset="0.1186" stop-color="#fafdf7"/><stop offset="0.1186" stop-color="#fafdf7"/><stop offset="0.1352" stop-color="#fafdf7"/><stop offset="0.1352" stop-color="#fafdf7"/><stop offset="0.1518" stop-color="#fafdf7"/><stop offset="0.1518" stop-color="#fafdf7"/><stop offset="0.1684" stop-color="#fafdf7"/><stop offset="0.1684" stop-color="#f9fdf6"/><stop offset="0.1850" stop-color="#f9fdf6"/><stop offset="0.1850" stop-color="#f8fcf5"/><stop offset="0.2016" stop-color="#f8fcf5"/><stop offset="0.2016" stop-color="#f7fcf4"/><stop offset="0.2182" stop-color="#f7fcf4"/><stop offset="0.2182" stop-color="#f6fcf3"/><stop offset="0.2348" stop-color="#f6fcf3"/><stop offset="0.2348" stop-color="#f5fbf2"/><stop offset="0.2514" stop-color="#f5fbf2"/><stop offset="0.2514" stop-color="#f3faf0"/><stop offset="0.2680" stop-color="#f3faf0"/><stop offset="0.2680" stop-color="#f1faef"/><stop offset="0.2846" stop-color="#f1faef"/><stop offset="0.2846" stop-color="#f0f9ed"/><stop offset="0.3013" stop-color="#f0f9ed"/><stop offset="0.3013" stop-color="#ecf8ea"/><stop offset="0.3179" stop-color="#ecf8ea"/><stop offset="0.3179" stop-color="#e9f6e6"/><stop offset="0.3345" stop-color="#e9f6e6"/><stop offset="0.3345" stop-color="#e3f4e1"/><stop offset="0.3511" stop-color="#e3f4e1"/><stop offset="0.3511" stop-color="#d7efdc"/><stop offset="0.3677" stop-color="#d7efdc"/><stop offset="0.3677" stop-color="#ccebdd"/><stop offset="0.3843" stop-color="#ccebdd"/><stop offset="0.3843" stop-color="#c0e7e0"/><stop offset="0.4009" stop-color="#c0e7e0"/><stop offset="0.4009" stop-color="#b7e2e4"/><stop offset="0.4175" stop-color="#b7e2e4"/><stop offset="0.4175" stop-color="#addde7"/><stop offset="0.4341" stop-color="#addde7"/><stop offset="0.4341" stop-color="#a5d7e8"/><stop offset="0.4507" stop-color="#a5d7e8"/><stop offset="0.4507" stop-color="#9dcfe4"/><stop offset="0.4673" stop-color="#9dcfe4"/><stop offset="0.4673" stop-color="#96c7df"/><stop offset="0.4839" stop-color="#96c7df"/><stop offset="0.4839" stop-color="#8fbfdb"/><stop offset="0.5005" stop-color="#8fbfdb"/><stop offset="0.5005" stop-color="#89b9d8"/><stop offset="0.5171" stop-color="#89b9d8"/><stop offset="0.5171" stop-color="#85b5d6"/><stop offset="0.5337" stop-color="#85b5d6"/><stop offset="0.5337" stop-color="#84b0d2"/><stop offset="0.5503" stop-color="#84b0d2"/><stop offset="0.5503" stop-color="#84acce"/><stop offset="0.5669" stop-color="#84acce"/><stop offset="0.5669" stop-color="#84a9ca"/><stop offset="0.5835" stop-color="#84a9ca"/><stop offset="0.5835" stop-color="#84a6c7"/><stop offset="0.6001" stop-color="#84a6c7"/><stop offset="0.6001" stop-color="#84a4c5"/><stop offset="0.6167" stop-color="#84a4c5"/><stop offset="0.6167" stop-color="#84a3c4"/><stop offset="0.6333" stop-color="#84a3c4"/><stop offset="0.6333" stop-color="#84a2c3"/><stop offset="0.6499" stop-color="#84a2c3"/><stop offset="0.6499" stop-color="#84a1c2"/><stop offset="0.6665" stop-color="#84a1c2"/><stop offset="0.6665" stop-color="#84a0c1"/><stop offset="0.6831" stop-color="#84a0c1"/><stop offset="0.6831" stop-color="#84a0c0"/><stop offset="0.6998" stop-color="#84a0c0"/><stop offset="0.6998" stop-color="#84a0c0"/><stop offset="0.7164" stop-color="#84a0c0"/><stop offset="0.7164" stop-color="#84a0c0"/><stop offset="0.7330" stop-color="#84a0c0"/><stop offset="0.7330" stop-color="#84a0c0"/><stop offset="0.7496" stop-color="#84a0c0"/><stop offset="0.7496" stop-color="#84a0c0"/><stop offset="0.7662" stop-color="#84a0c0"/><stop offset="0.7662" stop-color="#84a0c0"/><stop offset="0.7828" stop-color="#84a0c0"/><stop offset="0.7828" stop-color="#84a0c0"/><stop offset="0.7994" stop-color="#84a0c0"/><stop offset="0.7994" stop-color="#84a0c0"/><stop offset="0.8160" stop-color="#84a0c0"/><stop offset="0.8160" stop-color="#84a0c0"/><stop offset="0.8326" stop-color="#84a0c0"/><stop offset="0.8326" stop-color="#84a0c0"/><stop offset="0.8492" stop-color="#84a0c0"/><stop offset="0.8492" stop-color="#84a0c0"/><stop offset="0.8658" stop-color="#84a0c0"/><stop offset="0.8658" stop-color="#84a0c0"/><stop offset="0.8824" stop-color="#84a0c0"/><stop offset="0.8824" stop-color="#84a0c0"/><stop offset="0.8990" stop-color="#84a0c0"/><stop offset="0.8990" stop-color="#84a0c0"/><stop offset="0.9156" stop-color="#84a0c0"/><stop offset="0.9156" stop-color="#84a0c0"/><stop offset="0.9322" stop-color="#84a0c0"/><stop offset="0.9322" stop-color="#84a0c0"/><stop offset="0.9488" stop-color="#84a0c0"/><stop offset="0.9488" stop-color="#84a0c0"/><stop offset="0.9654" stop-color="#84a0c0"/><stop offset="0.9654" stop-color="#84a0c0"/><stop offset="0.9820" stop-color="#84a0c0"/><stop offset="0.9820" stop-color="#84a0c0"/><stop offset="0.9986" stop-color="#84a0c0"/><stop offset="0.9986" stop-color="#84a0c0"/><stop offset="1.0000" stop-color="#84a0c0"/></linearGradient><linearGradient id="gr2" gradientUnits="userSpaceOnUse" x1="404.90" y1="0" x2="714.40" y2="0"><stop offset="0.0000" stop-color="#fbfef8"/><stop offset="0.0024" stop-color="#fbfef8"/><stop offset="0.0024" stop-color="#fbfdf7"/><stop offset="0.0190" stop-color="#fbfdf7"/><stop offset="0.0190" stop-color="#fbfdf7"/><stop offset="0.0356" stop-color="#fbfdf7"/><stop offset="0.0356" stop-color="#fbfdf7"/><stop offset="0.0522" stop-color="#fbfdf7"/><stop offset="0.0522" stop-color="#fbfdf7"/><stop offset="0.0688" stop-color="#fbfdf7"/><stop offset="0.0688" stop-color="#fbfdf7"/><stop offset="0.0854" stop-color="#fbfdf7"/><stop offset="0.0854" stop-color="#fbfdf7"/><stop offset="0.1020" stop-color="#fbfdf7"/><stop offset="0.1020" stop-color="#fbfdf7"/><stop offset="0.1186" stop-color="#fbfdf7"/><stop offset="0.1186" stop-color="#fbfdf7"/><stop offset="0.1352" stop-color="#fbfdf7"/><stop offset="0.1352" stop-color="#fbfdf7"/><stop offset="0.1518" stop-color="#fbfdf7"/><stop offset="0.1518" stop-color="#fbfdf7"/><stop offset="0.1684" stop-color="#fbfdf7"/><stop offset="0.1684" stop-color="#fbfdf7"/><stop offset="0.1850" stop-color="#fbfdf7"/><stop offset="0.1850" stop-color="#fbfdf7"/><stop offset="0.2016" stop-color="#fbfdf7"/><stop offset="0.2016" stop-color="#fafdf7"/><stop offset="0.2182" stop-color="#fafdf7"/><stop offset="0.2182" stop-color="#fafdf7"/><stop offset="0.2348" stop-color="#fafdf7"/><stop offset="0.2348" stop-color="#fafdf7"/><stop offset="0.2514" stop-color="#fafdf7"/><stop offset="0.2514" stop-color="#fafdf7"/><stop offset="0.2680" stop-color="#fafdf7"/><stop offset="0.2680" stop-color="#fafdf7"/><stop offset="0.2846" stop-color="#fafdf7"/><stop offset="0.2846" stop-color="#fafdf7"/><stop offset="0.3013" stop-color="#fafdf7"/><stop offset="0.3013" stop-color="#fafdf7"/><stop offset="0.3179" stop-color="#fafdf7"/><stop offset="0.3179" stop-color="#fafdf7"/><stop offset="0.3345" stop-color="#fafdf7"/><stop offset="0.3345" stop-color="#fafdf7"/><stop offset="0.3511" stop-color="#fafdf7"/><stop offset="0.3511" stop-color="#fafdf7"/><stop offset="0.3677" stop-color="#fafdf7"/><stop offset="0.3677" stop-color="#fafdf7"/><stop offset="0.3843" stop-color="#fafdf7"/><stop offset="0.3843" stop-color="#f9fdf6"/><stop offset="0.4009" stop-color="#f9fdf6"/><stop offset="0.4009" stop-color="#f9fdf5"/><stop offset="0.4175" stop-color="#f9fdf5"/><stop offset="0.4175" stop-color="#f8fcf5"/><stop offset="0.4341" stop-color="#f8fcf5"/><stop offset="0.4341" stop-color="#f7fcf4"/><stop offset="0.4507" stop-color="#f7fcf4"/><stop offset="0.4507" stop-color="#f7fcf4"/><stop offset="0.4673" stop-color="#f7fcf4"/><stop offset="0.4673" stop-color="#f6fbf3"/><stop offset="0.4839" stop-color="#f6fbf3"/><stop offset="0.4839" stop-color="#f4fbf1"/><stop offset="0.5005" stop-color="#f4fbf1"/><stop offset="0.5005" stop-color="#f2faf0"/><stop offset="0.5171" stop-color="#f2faf0"/><stop offset="0.5171" stop-color="#f1f9ee"/><stop offset="0.5337" stop-color="#f1f9ee"/><stop offset="0.5337" stop-color="#eff9ec"/><stop offset="0.5503" stop-color="#eff9ec"/><stop offset="0.5503" stop-color="#ecf8e9"/><stop offset="0.5669" stop-color="#ecf8e9"/><stop offset="0.5669" stop-color="#e7f6e4"/><stop offset="0.5835" stop-color="#e7f6e4"/><stop offset="0.5835" stop-color="#e1f3e0"/><stop offset="0.6001" stop-color="#e1f3e0"/><stop offset="0.6001" stop-color="#d4eeda"/><stop offset="0.6167" stop-color="#d4eeda"/><stop offset="0.6167" stop-color="#c4e8df"/><stop offset="0.6333" stop-color="#c4e8df"/><stop offset="0.6333" stop-color="#b5e1e4"/><stop offset="0.6499" stop-color="#b5e1e4"/><stop offset="0.6499" stop-color="#a7d9e9"/><stop offset="0.6665" stop-color="#a7d9e9"/><stop offset="0.6665" stop-color="#9ccee3"/><stop offset="0.6831" stop-color="#9ccee3"/><stop offset="0.6831" stop-color="#94c4de"/><stop offset="0.6998" stop-color="#94c4de"/><stop offset="0.6998" stop-color="#8bbbd9"/><stop offset="0.7164" stop-color="#8bbbd9"/><stop offset="0.7164" stop-color="#84b4d6"/><stop offset="0.7330" stop-color="#84b4d6"/><stop offset="0.7330" stop-color="#84acce"/><stop offset="0.7496" stop-color="#84acce"/><stop offset="0.7496" stop-color="#84a9ca"/><stop offset="0.7662" stop-color="#84a9ca"/><stop offset="0.7662" stop-color="#84a6c7"/><stop offset="0.7828" stop-color="#84a6c7"/><stop offset="0.7828" stop-color="#84a3c4"/><stop offset="0.7994" stop-color="#84a3c4"/><stop offset="0.7994" stop-color="#84a2c3"/><stop offset="0.8160" stop-color="#84a2c3"/><stop offset="0.8160" stop-color="#84a1c2"/><stop offset="0.8326" stop-color="#84a1c2"/><stop offset="0.8326" stop-color="#84a0c1"/><stop offset="0.8492" stop-color="#84a0c1"/><stop offset="0.8492" stop-color="#84a0c0"/><stop offset="0.8658" stop-color="#84a0c0"/><stop offset="0.8658" stop-color="#84a0c0"/><stop offset="0.8824" stop-color="#84a0c0"/><stop offset="0.8824" stop-color="#84a0c0"/><stop offset="0.8990" stop-color="#84a0c0"/><stop offset="0.8990" stop-color="#84a0c0"/><stop offset="0.9156" stop-color="#84a0c0"/><stop offset="0.9156" stop-color="#84a0c0"/><stop offset="0.9322" stop-color="#84a0c0"/><stop offset="0.9322" stop-color="#84a0c0"/><stop offset="0.9488" stop-color="#84a0c0"/><stop offset="0.9488" stop-color="#84a0c0"/><stop offset="0.9654" stop-color="#84a0c0"/><stop offset="0.9654" stop-color="#84a0c0"/><stop offset="0.9820" stop-color="#84a0c0"/><stop offset="0.9820" stop-color="#84a0c0"/><stop offset="0.9986" stop-color="#84a0c0"/><stop offset="0.9986" stop-color="#84a0c0"/><stop offset="1.0000" stop-color="#84a0c0"/></linearGradient><linearGradient id="gr3" gradientUnits="userSpaceOnUse" x1="404.90" y1="0" x2="714.40" y2="0"><stop offset="0.0000" stop-color="#fbfef8"/><stop offset="0.0024" stop-color="#fbfef8"/><stop offset="0.0024" stop-color="#fbfdf7"/><stop offset="0.0190" stop-color="#fbfdf7"/><stop offset="0.0190" stop-color="#fbfdf7"/><stop offset="0.0356" stop-color="#fbfdf7"/><stop offset="0.0356" stop-color="#fbfdf7"/><stop offset="0.0522" stop-color="#fbfdf7"/><stop offset="0.0522" stop-color="#fbfdf7"/><stop offset="0.0688" stop-color="#fbfdf7"/><stop offset="0.0688" stop-color="#fbfdf7"/><stop offset="0.0854" stop-color="#fbfdf7"/><stop offset="0.0854" stop-color="#fbfdf7"/><stop offset="0.1020" stop-color="#fbfdf7"/><stop offset="0.1020" stop-color="#fbfdf7"/><stop offset="0.1186" stop-color="#fbfdf7"/><stop offset="0.1186" stop-color="#fbfdf7"/><stop offset="0.1352" stop-color="#fbfdf7"/><stop offset="0.1352" stop-color="#fbfdf7"/><stop offset="0.1518" stop-color="#fbfdf7"/><stop offset="0.1518" stop-color="#fbfdf7"/><stop offset="0.1684" stop-color="#fbfdf7"/><stop offset="0.1684" stop-color="#fafdf7"/><stop offset="0.1850" stop-color="#fafdf7"/><stop offset="0.1850" stop-color="#fafdf7"/><stop offset="0.2016" stop-color="#fafdf7"/><stop offset="0.2016" stop-color="#fafdf7"/><stop offset="0.2182" stop-color="#fafdf7"/><stop offset="0.2182" stop-color="#fafdf7"/><stop offset="0.2348" stop-color="#fafdf7"/><stop offset="0.2348" stop-color="#fafdf7"/><stop offset="0.2514" stop-color="#fafdf7"/><stop offset="0.2514" stop-color="#fafdf7"/><stop offset="0.2680" stop-color="#fafdf7"/><stop offset="0.2680" stop-color="#fafdf7"/><stop offset="0.2846" stop-color="#fafdf7"/><stop offset="0.2846" stop-color="#fafdf7"/><stop offset="0.3013" stop-color="#fafdf7"/><stop offset="0.3013" stop-color="#fafdf7"/><stop offset="0.3179" stop-color="#fafdf7"/><stop offset="0.3179" stop-color="#fafdf7"/><stop offset="0.3345" stop-color="#fafdf7"/><stop offset="0.3345" stop-color="#fafdf7"/><stop offset="0.3511" stop-color="#fafdf7"/><stop offset="0.3511" stop-color="#fafdf7"/><stop offset="0.3677" stop-color="#fafdf7"/><stop offset="0.3677" stop-color="#fafdf7"/><stop offset="0.3843" stop-color="#fafdf7"/><stop offset="0.3843" stop-color="#fafdf6"/><stop offset="0.4009" stop-color="#fafdf6"/><stop offset="0.4009" stop-color="#fafdf6"/><stop offset="0.4175" stop-color="#fafdf6"/><stop offset="0.4175" stop-color="#fafdf6"/><stop offset="0.4341" stop-color="#fafdf6"/><stop offset="0.4341" stop-color="#fafdf6"/><stop offset="0.4507" stop-color="#fafdf6"/><stop offset="0.4507" stop-color="#fafdf6"/><stop offset="0.4673" stop-color="#fafdf6"/><stop offset="0.4673" stop-color="#fafdf6"/><stop offset="0.4839" stop-color="#fafdf6"/><stop offset="0.4839" stop-color="#fafdf6"/><stop offset="0.5005" stop-color="#fafdf6"/><stop offset="0.5005" stop-color="#fafdf6"/><stop offset="0.5171" stop-color="#fafdf6"/><stop offset="0.5171" stop-color="#fafdf6"/><stop offset="0.5337" stop-color="#fafdf6"/><stop offset="0.5337" stop-color="#f9fdf6"/><stop offset="0.5503" stop-color="#f9fdf6"/><stop offset="0.5503" stop-color="#f9fdf6"/><stop offset="0.5669" stop-color="#f9fdf6"/><stop offset="0.5669" stop-color="#f9fdf6"/><stop offset="0.5835" stop-color="#f9fdf6"/><stop offset="0.5835" stop-color="#f9fdf6"/><stop offset="0.6001" stop-color="#f9fdf6"/><stop offset="0.6001" stop-color="#f9fdf6"/><stop offset="0.6167" stop-color="#f9fdf6"/><stop offset="0.6167" stop-color="#f9fdf6"/><stop offset="0.6333" stop-color="#f9fdf6"/><stop offset="0.6333" stop-color="#f9fdf6"/><stop offset="0.6499" stop-color="#f9fdf6"/><stop offset="0.6499" stop-color="#f8fcf5"/><stop offset="0.6665" stop-color="#f8fcf5"/><stop offset="0.6665" stop-color="#f6fcf3"/><stop offset="0.6831" stop-color="#f6fcf3"/><stop offset="0.6831" stop-color="#f4fbf1"/><stop offset="0.6998" stop-color="#f4fbf1"/><stop offset="0.6998" stop-color="#f0f9ed"/><stop offset="0.7164" stop-color="#f0f9ed"/><stop offset="0.7164" stop-color="#ecf8e9"/><stop offset="0.7330" stop-color="#ecf8e9"/><stop offset="0.7330" stop-color="#e4f5e1"/><stop offset="0.7496" stop-color="#e4f5e1"/><stop offset="0.7496" stop-color="#d0eddb"/><stop offset="0.7662" stop-color="#d0eddb"/><stop offset="0.7662" stop-color="#b6e2e4"/><stop offset="0.7828" stop-color="#b6e2e4"/><stop offset="0.7828" stop-color="#a3d5e7"/><stop offset="0.7994" stop-color="#a3d5e7"/><stop offset="0.7994" stop-color="#95c6df"/><stop offset="0.8160" stop-color="#95c6df"/><stop offset="0.8160" stop-color="#88b8d8"/><stop offset="0.8326" stop-color="#88b8d8"/><stop offset="0.8326" stop-color="#84aecf"/><stop offset="0.8492" stop-color="#84aecf"/><stop offset="0.8492" stop-color="#84a6c7"/><stop offset="0.8658" stop-color="#84a6c7"/><stop offset="0.8658" stop-color="#84a4c4"/><stop offset="0.8824" stop-color="#84a4c4"/><stop offset="0.8824" stop-color="#84a1c2"/><stop offset="0.8990" stop-color="#84a1c2"/><stop offset="0.8990" stop-color="#84a0c0"/><stop offset="0.9156" stop-color="#84a0c0"/><stop offset="0.9156" stop-color="#84a0c0"/><stop offset="0.9322" stop-color="#84a0c0"/><stop offset="0.9322" stop-color="#84a0c0"/><stop offset="0.9488" stop-color="#84a0c0"/><stop offset="0.9488" stop-color="#84a0c0"/><stop offset="0.9654" stop-color="#84a0c0"/><stop offset="0.9654" stop-color="#84a0c0"/><stop offset="0.9820" stop-color="#84a0c0"/><stop offset="0.9820" stop-color="#84a0c0"/><stop offset="0.9986" stop-color="#84a0c0"/><stop offset="0.9986" stop-color="#84a0c0"/><stop offset="1.0000" stop-color="#84a0c0"/></linearGradient><linearGradient id="gr4" gradientUnits="userSpaceOnUse" x1="404.90" y1="0" x2="714.40" y2="0"><stop offset="0.0000" stop-color="#fbfef8"/><stop offset="0.0024" stop-color="#fbfef8"/><stop offset="0.0024" stop-color="#fbfdf7"/><stop offset="0.0190" stop-color="#fbfdf7"/><stop offset="0.0190" stop-color="#fbfdf7"/><stop offset="0.0356" stop-color="#fbfdf7"/><stop offset="0.0356" stop-color="#fbfdf7"/><stop offset="0.0522" stop-color="#fbfdf7"/><stop offset="0.0522" stop-color="#fbfdf7"/><stop offset="0.0688" stop-color="#fbfdf7"/><stop offset="0.0688" stop-color="#fbfdf7"/><stop offset="0.0854" stop-color="#fbfdf7"/><stop offset="0.0854" stop-color="#fbfdf7"/><stop offset="0.1020" stop-color="#fbfdf7"/><stop offset="0.1020" stop-color="#fbfdf7"/><stop offset="0.1186" stop-color="#fbfdf7"/><stop offset="0.1186" stop-color="#fbfdf7"/><stop offset="0.1352" stop-color="#fbfdf7"/><stop offset="0.1352" stop-color="#fbfdf7"/><stop offset="0.1518" stop-color="#fbfdf7"/><stop offset="0.1518" stop-color="#fbfdf7"/><stop offset="0.1684" stop-color="#fbfdf7"/><stop offset="0.1684" stop-color="#fbfdf7"/><stop offset="0.1850" stop-color="#fbfdf7"/><stop offset="0.1850" stop-color="#fbfdf7"/><stop offset="0.2016" stop-color="#fbfdf7"/><stop offset="0.2016" stop-color="#fafdf7"/><stop offset="0.2182" stop-color="#fafdf7"/><stop offset="0.2182" stop-color="#fafdf7"/><stop offset="0.2348" stop-color="#fafdf7"/><stop offset="0.2348" stop-color="#fafdf7"/><stop offset="0.2514" stop-color="#fafdf7"/><stop offset="0.2514" stop-color="#fafdf7"/><stop offset="0.2680" stop-color="#fafdf7"/><stop offset="0.2680" stop-color="#fafdf7"/><stop offset="0.2846" stop-color="#fafdf7"/><stop offset="0.2846" stop-color="#fafdf7"/><stop offset="0.3013" stop-color="#fafdf7"/><stop offset="0.3013" stop-color="#fafdf7"/><stop offset="0.3179" stop-color="#fafdf7"/><stop offset="0.3179" stop-color="#fafdf7"/><stop offset="0.3345" stop-color="#fafdf7"/><stop offset="0.3345" stop-color="#fafdf7"/><stop offset="0.3511" stop-color="#fafdf7"/><stop offset="0.3511" stop-color="#fafdf7"/><stop offset="0.3677" stop-color="#fafdf7"/><stop offset="0.3677" stop-color="#fafdf7"/><stop offset="0.3843" stop-color="#fafdf7"/><stop offset="0.3843" stop-color="#fafdf7"/><stop offset="0.4009" stop-color="#fafdf7"/><stop offset="0.4009" stop-color="#fafdf7"/><stop offset="0.4175" stop-color="#fafdf7"/><stop offset="0.4175" stop-color="#fafdf7"/><stop offset="0.4341" stop-color="#fafdf7"/><stop offset="0.4341" stop-color="#fafdf7"/><stop offset="0.4507" stop-color="#fafdf7"/><stop offset="0.4507" stop-color="#fafdf6"/><stop offset="0.4673" stop-color="#fafdf6"/><stop offset="0.4673" stop-color="#fafdf6"/><stop offset="0.4839" stop-color="#fafdf6"/><stop offset="0.4839" stop-color="#fafdf6"/><stop offset="0.5005" stop-color="#fafdf6"/><stop offset="0.5005" stop-color="#fafdf6"/><stop offset="0.5171" stop-color="#fafdf6"/><stop offset="0.5171" stop-color="#fafdf6"/><stop offset="0.5337" stop-color="#fafdf6"/><stop offset="0.5337" stop-color="#fafdf6"/><stop offset="0.5503" stop-color="#fafdf6"/><stop offset="0.5503" stop-color="#fafdf6"/><stop offset="0.5669" stop-color="#fafdf6"/><stop offset="0.5669" stop-color="#fafdf6"/><stop offset="0.5835" stop-color="#fafdf6"/><stop offset="0.5835" stop-color="#fafdf6"/><stop offset="0.6001" stop-color="#fafdf6"/><stop offset="0.6001" stop-color="#f9fdf6"/><stop offset="0.6167" stop-color="#f9fdf6"/><stop offset="0.6167" stop-color="#f9fdf6"/><stop offset="0.6333" stop-color="#f9fdf6"/><stop offset="0.6333" stop-color="#f9fdf6"/><stop offset="0.6499" stop-color="#f9fdf6"/><stop offset="0.6499" stop-color="#f9fdf6"/><stop offset="0.6665" stop-color="#f9fdf6"/><stop offset="0.6665" stop-color="#f9fdf6"/><stop offset="0.6831" stop-color="#f9fdf6"/><stop offset="0.6831" stop-color="#f9fdf6"/><stop offset="0.6998" stop-color="#f9fdf6"/><stop offset="0.6998" stop-color="#f9fdf6"/><stop offset="0.7164" stop-color="#f9fdf6"/><stop offset="0.7164" stop-color="#f9fdf6"/><stop offset="0.7330" stop-color="#f9fdf6"/><stop offset="0.7330" stop-color="#f9fdf6"/><stop offset="0.7496" stop-color="#f9fdf6"/><stop offset="0.7496" stop-color="#f8fcf4"/><stop offset="0.7662" stop-color="#f8fcf4"/><stop offset="0.7662" stop-color="#f6fbf3"/><stop offset="0.7828" stop-color="#f6fbf3"/><stop offset="0.7828" stop-color="#f4fbf1"/><stop offset="0.7994" stop-color="#f4fbf1"/><stop offset="0.7994" stop-color="#f2faef"/><stop offset="0.8160" stop-color="#f2faef"/><stop offset="0.8160" stop-color="#eef8eb"/><stop offset="0.8326" stop-color="#eef8eb"/><stop offset="0.8326" stop-color="#eaf7e7"/><stop offset="0.8492" stop-color="#eaf7e7"/><stop offset="0.8492" stop-color="#e0f3e0"/><stop offset="0.8658" stop-color="#e0f3e0"/><stop offset="0.8658" stop-color="#c8eade"/><stop offset="0.8824" stop-color="#c8eade"/><stop offset="0.8824" stop-color="#addde7"/><stop offset="0.8990" stop-color="#addde7"/><stop offset="0.8990" stop-color="#96c7df"/><stop offset="0.9156" stop-color="#96c7df"/><stop offset="0.9156" stop-color="#84b3d5"/><stop offset="0.9322" stop-color="#84b3d5"/><stop offset="0.9322" stop-color="#84accd"/><stop offset="0.9488" stop-color="#84accd"/><stop offset="0.9488" stop-color="#84a5c6"/><stop offset="0.9654" stop-color="#84a5c6"/><stop offset="0.9654" stop-color="#84a3c4"/><stop offset="0.9820" stop-color="#84a3c4"/><stop offset="0.9820" stop-color="#84a1c1"/><stop offset="0.9986" stop-color="#84a1c1"/><stop offset="0.9986" stop-color="#84a0c0"/><stop offset="1.0000" stop-color="#84a0c0"/></linearGradient><linearGradient id="gr5" gradientUnits="userSpaceOnUse" x1="404.90" y1="0" x2="714.40" y2="0"><stop offset="0.0000" stop-color="#fbfef8"/><stop offset="0.0024" stop-color="#fbfef8"/><stop offset="0.0024" stop-color="#fbfdf7"/><stop offset="0.0190" stop-color="#fbfdf7"/><stop offset="0.0190" stop-color="#fbfdf7"/><stop offset="0.0356" stop-color="#fbfdf7"/><stop offset="0.0356" stop-color="#fbfdf7"/><stop offset="0.0522" stop-color="#fbfdf7"/><stop offset="0.0522" stop-color="#fbfdf7"/><stop offset="0.0688" stop-color="#fbfdf7"/><stop offset="0.0688" stop-color="#fbfdf7"/><stop offset="0.0854" stop-color="#fbfdf7"/><stop offset="0.0854" stop-color="#fbfdf7"/><stop offset="0.1020" stop-color="#fbfdf7"/><stop offset="0.1020" stop-color="#fbfdf7"/><stop offset="0.1186" stop-color="#fbfdf7"/><stop offset="0.1186" stop-color="#fbfdf7"/><stop offset="0.1352" stop-color="#fbfdf7"/><stop offset="0.1352" stop-color="#fbfdf7"/><stop offset="0.1518" stop-color="#fbfdf7"/><stop offset="0.1518" stop-color="#fbfdf7"/><stop offset="0.1684" stop-color="#fbfdf7"/><stop offset="0.1684" stop-color="#fbfdf7"/><stop offset="0.1850" stop-color="#fbfdf7"/><stop offset="0.1850" stop-color="#fbfdf7"/><stop offset="0.2016" stop-color="#fbfdf7"/><stop offset="0.2016" stop-color="#fbfdf7"/><stop offset="0.2182" stop-color="#fbfdf7"/><stop offset="0.2182" stop-color="#fbfdf7"/><stop offset="0.2348" stop-color="#fbfdf7"/><stop offset="0.2348" stop-color="#fbfdf7"/><stop offset="0.2514" stop-color="#fbfdf7"/><stop offset="0.2514" stop-color="#fbfdf7"/><stop offset="0.2680" stop-color="#fbfdf7"/><stop offset="0.2680" stop-color="#fbfdf7"/><stop offset="0.2846" stop-color="#fbfdf7"/><stop offset="0.2846" stop-color="#fbfdf7"/><stop offset="0.3013" stop-color="#fbfdf7"/><stop offset="0.3013" stop-color="#fbfdf7"/><stop offset="0.3179" stop-color="#fbfdf7"/><stop offset="0.3179" stop-color="#fbfdf7"/><stop offset="0.3345" stop-color="#fbfdf7"/><stop offset="0.3345" stop-color="#fbfdf7"/><stop offset="0.3511" stop-color="#fbfdf7"/><stop offset="0.3511" stop-color="#fbfdf7"/><stop offset="0.3677" stop-color="#fbfdf7"/><stop offset="0.3677" stop-color="#fbfdf7"/><stop offset="0.3843" stop-color="#fbfdf7"/><stop offset="0.3843" stop-color="#fbfdf7"/><stop offset="0.4009" stop-color="#fbfdf7"/><stop offset="0.4009" stop-color="#fbfdf7"/><stop offset="0.4175" stop-color="#fbfdf7"/><stop offset="0.4175" stop-color="#fbfdf7"/><stop offset="0.4341" stop-color="#fbfdf7"/><stop offset="0.4341" stop-color="#fbfdf7"/><stop offset="0.4507" stop-color="#fbfdf7"/><stop offset="0.4507" stop-color="#fbfdf7"/><stop offset="0.4673" stop-color="#fbfdf7"/><stop offset="0.4673" stop-color="#fafdf7"/><stop offset="0.4839" stop-color="#fafdf7"/><stop offset="0.4839" stop-color="#fafdf7"/><stop offset="0.5005" stop-color="#fafdf7"/><stop offset="0.5005" stop-color="#fafdf7"/><stop offset="0.5171" stop-color="#fafdf7"/><stop offset="0.5171" stop-color="#fafdf7"/><stop offset="0.5337" stop-color="#fafdf7"/><stop offset="0.5337" stop-color="#fafdf7"/><stop offset="0.5503" stop-color="#fafdf7"/><stop offset="0.5503" stop-color="#fafdf7"/><stop offset="0.5669" stop-color="#fafdf7"/><stop offset="0.5669" stop-color="#fafdf7"/><stop offset="0.5835" stop-color="#fafdf7"/><stop offset="0.5835" stop-color="#fafdf7"/><stop offset="0.6001" stop-color="#fafdf7"/><stop offset="0.6001" stop-color="#fafdf7"/><stop offset="0.6167" stop-color="#fafdf7"/><stop offset="0.6167" stop-color="#fafdf7"/><stop offset="0.6333" stop-color="#fafdf7"/><stop offset="0.6333" stop-color="#fafdf7"/><stop offset="0.6499" stop-color="#fafdf7"/><stop offset="0.6499" stop-color="#fafdf7"/><stop offset="0.6665" stop-color="#fafdf7"/><stop offset="0.6665" stop-color="#fafdf7"/><stop offset="0.6831" stop-color="#fafdf7"/><stop offset="0.6831" stop-color="#fafdf7"/><stop offset="0.6998" stop-color="#fafdf7"/><stop offset="0.6998" stop-color="#fafdf7"/><stop offset="0.7164" stop-color="#fafdf7"/><stop offset="0.7164" stop-color="#fafdf7"/><stop offset="0.7330" stop-color="#fafdf7"/><stop offset="0.7330" stop-color="#fafdf7"/><stop offset="0.7496" stop-color="#fafdf7"/><stop offset="0.7496" stop-color="#fafdf7"/><stop offset="0.7662" stop-color="#fafdf7"/><stop offset="0.7662" stop-color="#fafdf7"/><stop offset="0.7828" stop-color="#fafdf7"/><stop offset="0.7828" stop-color="#fafdf7"/><stop offset="0.7994" stop-color="#fafdf7"/><stop offset="0.7994" stop-color="#fafdf7"/><stop offset="0.8160" stop-color="#fafdf7"/><stop offset="0.8160" stop-color="#fafdf7"/><stop offset="0.8326" stop-color="#fafdf7"/><stop offset="0.8326" stop-color="#fafdf7"/><stop offset="0.8492" stop-color="#fafdf7"/><stop offset="0.8492" stop-color="#fafdf7"/><stop offset="0.8658" stop-color="#fafdf7"/><stop offset="0.8658" stop-color="#f9fdf6"/><stop offset="0.8824" stop-color="#f9fdf6"/><stop offset="0.8824" stop-color="#f7fcf4"/><stop offset="0.8990" stop-color="#f7fcf4"/><stop offset="0.8990" stop-color="#f1faee"/><stop offset="0.9156" stop-color="#f1faee"/><stop offset="0.9156" stop-color="#e9f6e6"/><stop offset="0.9322" stop-color="#e9f6e6"/><stop offset="0.9322" stop-color="#cfecdb"/><stop offset="0.9488" stop-color="#cfecdb"/><stop offset="0.9488" stop-color="#a4d7e8"/><stop offset="0.9654" stop-color="#a4d7e8"/><stop offset="0.9654" stop-color="#85b5d6"/><stop offset="0.9820" stop-color="#85b5d6"/><stop offset="0.9820" stop-color="#84adce"/><stop offset="0.9986" stop-color="#84adce"/><stop offset="0.9986" stop-color="#84a8c9"/><stop offset="1.0000" stop-color="#84a8c9"/></linearGradient><linearGradient id="gr6" gradientUnits="userSpaceOnUse" x1="404.90" y1="0" x2="714.40" y2="0"><stop offset="0.0000" stop-color="#fbfef8"/><stop offset="0.0024" stop-color="#fbfef8"/><stop offset="0.0024" stop-color="#fbfef8"/><stop offset="0.0190" stop-color="#fbfef8"/><stop offset="0.0190" stop-color="#fbfef8"/><stop offset="0.0356" stop-color="#fbfef8"/><stop offset="0.0356" stop-color="#fbfef8"/><stop offset="0.0522" stop-color="#fbfef8"/><stop offset="0.0522" stop-color="#fbfef8"/><stop offset="0.0688" stop-color="#fbfef8"/><stop offset="0.0688" stop-color="#fbfef8"/><stop offset="0.0854" stop-color="#fbfef8"/><stop offset="0.0854" stop-color="#fbfef8"/><stop offset="0.1020" stop-color="#fbfef8"/><stop offset="0.1020" stop-color="#fbfef8"/><stop offset="0.1186" stop-color="#fbfef8"/><stop offset="0.1186" stop-color="#fbfef8"/><stop offset="0.1352" stop-color="#fbfef8"/><stop offset="0.1352" stop-color="#fbfef8"/><stop offset="0.1518" stop-color="#fbfef8"/><stop offset="0.1518" stop-color="#fbfef8"/><stop offset="0.1684" stop-color="#fbfef8"/><stop offset="0.1684" stop-color="#fbfef8"/><stop offset="0.1850" stop-color="#fbfef8"/><stop offset="0.1850" stop-color="#fbfef8"/><stop offset="0.2016" stop-color="#fbfef8"/><stop offset="0.2016" stop-color="#fbfef8"/><stop offset="0.2182" stop-color="#fbfef8"/><stop offset="0.2182" stop-color="#fbfef8"/><stop offset="0.2348" stop-color="#fbfef8"/><stop offset="0.2348" stop-color="#fbfef8"/><stop offset="0.2514" stop-color="#fbfef8"/><stop offset="0.2514" stop-color="#fbfef8"/><stop offset="0.2680" stop-color="#fbfef8"/><stop offset="0.2680" stop-color="#fbfef8"/><stop offset="0.2846" stop-color="#fbfef8"/><stop offset="0.2846" stop-color="#fbfef8"/><stop offset="0.3013" stop-color="#fbfef8"/><stop offset="0.3013" stop-color="#fbfef8"/><stop offset="0.3179" stop-color="#fbfef8"/><stop offset="0.3179" stop-color="#fbfef8"/><stop offset="0.3345" stop-color="#fbfef8"/><stop offset="0.3345" stop-color="#fbfef8"/><stop offset="0.3511" stop-color="#fbfef8"/><stop offset="0.3511" stop-color="#fbfef8"/><stop offset="0.3677" stop-color="#fbfef8"/><stop offset="0.3677" stop-color="#fbfef8"/><stop offset="0.3843" stop-color="#fbfef8"/><stop offset="0.3843" stop-color="#fbfef8"/><stop offset="0.4009" stop-color="#fbfef8"/><stop offset="0.4009" stop-color="#fbfef8"/><stop offset="0.4175" stop-color="#fbfef8"/><stop offset="0.4175" stop-color="#fbfef8"/><stop offset="0.4341" stop-color="#fbfef8"/><stop offset="0.4341" stop-color="#fbfef8"/><stop offset="0.4507" stop-color="#fbfef8"/><stop offset="0.4507" stop-color="#fbfef8"/><stop offset="0.4673" stop-color="#fbfef8"/><stop offset="0.4673" stop-color="#fbfef8"/><stop offset="0.4839" stop-color="#fbfef8"/><stop offset="0.4839" stop-color="#fbfef8"/><stop offset="0.5005" stop-color="#fbfef8"/><stop offset="0.5005" stop-color="#fbfef8"/><stop offset="0.5171" stop-color="#fbfef8"/><stop offset="0.5171" stop-color="#fbfef8"/><stop offset="0.5337" stop-color="#fbfef8"/><stop offset="0.5337" stop-color="#fbfef8"/><stop offset="0.5503" stop-color="#fbfef8"/><stop offset="0.5503" stop-color="#fbfef8"/><stop offset="0.5669" stop-color="#fbfef8"/><stop offset="0.5669" stop-color="#fbfef8"/><stop offset="0.5835" stop-color="#fbfef8"/><stop offset="0.5835" stop-color="#fbfef8"/><stop offset="0.6001" stop-color="#fbfef8"/><stop offset="0.6001" stop-color="#fbfef8"/><stop offset="0.6167" stop-color="#fbfef8"/><stop offset="0.6167" stop-color="#fbfef8"/><stop offset="0.6333" stop-color="#fbfef8"/><stop offset="0.6333" stop-color="#fbfef8"/><stop offset="0.6499" stop-color="#fbfef8"/><stop offset="0.6499" stop-color="#fbfef8"/><stop offset="0.6665" stop-color="#fbfef8"/><stop offset="0.6665" stop-color="#fbfef8"/><stop offset="0.6831" stop-color="#fbfef8"/><stop offset="0.6831" stop-color="#fbfef8"/><stop offset="0.6998" stop-color="#fbfef8"/><stop offset="0.6998" stop-color="#fbfef8"/><stop offset="0.7164" stop-color="#fbfef8"/><stop offset="0.7164" stop-color="#fbfef8"/><stop offset="0.7330" stop-color="#fbfef8"/><stop offset="0.7330" stop-color="#fbfef8"/><stop offset="0.7496" stop-color="#fbfef8"/><stop offset="0.7496" stop-color="#fbfef8"/><stop offset="0.7662" stop-color="#fbfef8"/><stop offset="0.7662" stop-color="#fbfef8"/><stop offset="0.7828" stop-color="#fbfef8"/><stop offset="0.7828" stop-color="#fbfef8"/><stop offset="0.7994" stop-color="#fbfef8"/><stop offset="0.7994" stop-color="#fbfef8"/><stop offset="0.8160" stop-color="#fbfef8"/><stop offset="0.8160" stop-color="#fbfef8"/><stop offset="0.8326" stop-color="#fbfef8"/><stop offset="0.8326" stop-color="#fbfef8"/><stop offset="0.8492" stop-color="#fbfef8"/><stop offset="0.8492" stop-color="#fbfef8"/><stop offset="0.8658" stop-color="#fbfef8"/><stop offset="0.8658" stop-color="#fbfef8"/><stop offset="0.8824" stop-color="#fbfef8"/><stop offset="0.8824" stop-color="#fbfef8"/><stop offset="0.8990" stop-color="#fbfef8"/><stop offset="0.8990" stop-color="#fbfef8"/><stop offset="0.9156" stop-color="#fbfef8"/><stop offset="0.9156" stop-color="#fbfdf7"/><stop offset="0.9322" stop-color="#fbfdf7"/><stop offset="0.9322" stop-color="#f9fdf5"/><stop offset="0.9488" stop-color="#f9fdf5"/><stop offset="0.9488" stop-color="#f5fbf2"/><stop offset="0.9654" stop-color="#f5fbf2"/><stop offset="0.9654" stop-color="#ebf7e8"/><stop offset="0.9820" stop-color="#ebf7e8"/><stop offset="0.9820" stop-color="#e0f3df"/><stop offset="0.9986" stop-color="#e0f3df"/><stop offset="0.9986" stop-color="#d7efdc"/><stop offset="1.0000" stop-color="#d7efdc"/></linearGradient><linearGradient id="gr7" gradientUnits="userSpaceOnUse" x1="404.90" y1="0" x2="714.40" y2="0"><stop offset="0.0000" stop-color="#fbfef8"/><stop offset="0.0024" stop-color="#fbfef8"/><stop offset="0.0024" stop-color="#fbfef8"/><stop offset="0.0190" stop-color="#fbfef8"/><stop offset="0.0190" stop-color="#fbfef8"/><stop offset="0.0356" stop-color="#fbfef8"/><stop offset="0.0356" stop-color="#fbfef8"/><stop offset="0.0522" stop-color="#fbfef8"/><stop offset="0.0522" stop-color="#fbfef8"/><stop offset="0.0688" stop-color="#fbfef8"/><stop offset="0.0688" stop-color="#fbfef8"/><stop offset="0.0854" stop-color="#fbfef8"/><stop offset="0.0854" stop-color="#fbfef8"/><stop offset="0.1020" stop-color="#fbfef8"/><stop offset="0.1020" stop-color="#fbfef8"/><stop offset="0.1186" stop-color="#fbfef8"/><stop offset="0.1186" stop-color="#fbfef8"/><stop offset="0.1352" stop-color="#fbfef8"/><stop offset="0.1352" stop-color="#fbfef8"/><stop offset="0.1518" stop-color="#fbfef8"/><stop offset="0.1518" stop-color="#fbfef8"/><stop offset="0.1684" stop-color="#fbfef8"/><stop offset="0.1684" stop-color="#fbfef8"/><stop offset="0.1850" stop-color="#fbfef8"/><stop offset="0.1850" stop-color="#fbfef8"/><stop offset="0.2016" stop-color="#fbfef8"/><stop offset="0.2016" stop-color="#fbfef8"/><stop offset="0.2182" stop-color="#fbfef8"/><stop offset="0.2182" stop-color="#fbfef8"/><stop offset="0.2348" stop-color="#fbfef8"/><stop offset="0.2348" stop-color="#fbfef8"/><stop offset="0.2514" stop-color="#fbfef8"/><stop offset="0.2514" stop-color="#fbfef8"/><stop offset="0.2680" stop-color="#fbfef8"/><stop offset="0.2680" stop-color="#fbfef8"/><stop offset="0.2846" stop-color="#fbfef8"/><stop offset="0.2846" stop-color="#fbfef8"/><stop offset="0.3013" stop-color="#fbfef8"/><stop offset="0.3013" stop-color="#fbfef8"/><stop offset="0.3179" stop-color="#fbfef8"/><stop offset="0.3179" stop-color="#fbfef8"/><stop offset="0.3345" stop-color="#fbfef8"/><stop offset="0.3345" stop-color="#fbfef8"/><stop offset="0.3511" stop-color="#fbfef8"/><stop offset="0.3511" stop-color="#fbfef8"/><stop offset="0.3677" stop-color="#fbfef8"/><stop offset="0.3677" stop-color="#fbfef8"/><stop offset="0.3843" stop-color="#fbfef8"/><stop offset="0.3843" stop-color="#fbfef8"/><stop offset="0.4009" stop-color="#fbfef8"/><stop offset="0.4009" stop-color="#fbfef8"/><stop offset="0.4175" stop-color="#fbfef8"/><stop offset="0.4175" stop-color="#fbfef8"/><stop offset="0.4341" stop-color="#fbfef8"/><stop offset="0.4341" stop-color="#fbfef8"/><stop offset="0.4507" stop-color="#fbfef8"/><stop offset="0.4507" stop-color="#fbfef8"/><stop offset="0.4673" stop-color="#fbfef8"/><stop offset="0.4673" stop-color="#fbfef8"/><stop offset="0.4839" stop-color="#fbfef8"/><stop offset="0.4839" stop-color="#fbfef8"/><stop offset="0.5005" stop-color="#fbfef8"/><stop offset="0.5005" stop-color="#fbfef8"/><stop offset="0.5171" stop-color="#fbfef8"/><stop offset="0.5171" stop-color="#fbfef8"/><stop offset="0.5337" stop-color="#fbfef8"/><stop offset="0.5337" stop-color="#fbfef8"/><stop offset="0.5503" stop-color="#fbfef8"/><stop offset="0.5503" stop-color="#fbfef8"/><stop offset="0.5669" stop-color="#fbfef8"/><stop offset="0.5669" stop-color="#fbfef8"/><stop offset="0.5835" stop-color="#fbfef8"/><stop offset="0.5835" stop-color="#fbfef8"/><stop offset="0.6001" stop-color="#fbfef8"/><stop offset="0.6001" stop-color="#fbfef8"/><stop offset="0.6167" stop-color="#fbfef8"/><stop offset="0.6167" stop-color="#fbfef8"/><stop offset="0.6333" stop-color="#fbfef8"/><stop offset="0.6333" stop-color="#fbfef8"/><stop offset="0.6499" stop-color="#fbfef8"/><stop offset="0.6499" stop-color="#fbfef8"/><stop offset="0.6665" stop-color="#fbfef8"/><stop offset="0.6665" stop-color="#fbfef8"/><stop offset="0.6831" stop-color="#fbfef8"/><stop offset="0.6831" stop-color="#fbfef8"/><stop offset="0.6998" stop-color="#fbfef8"/><stop offset="0.6998" stop-color="#fbfef8"/><stop offset="0.7164" stop-color="#fbfef8"/><stop offset="0.7164" stop-color="#fbfef8"/><stop offset="0.7330" stop-color="#fbfef8"/><stop offset="0.7330" stop-color="#fbfef8"/><stop offset="0.7496" stop-color="#fbfef8"/><stop offset="0.7496" stop-color="#fbfef8"/><stop offset="0.7662" stop-color="#fbfef8"/><stop offset="0.7662" stop-color="#fbfef8"/><stop offset="0.7828" stop-color="#fbfef8"/><stop offset="0.7828" stop-color="#fbfef8"/><stop offset="0.7994" stop-color="#fbfef8"/><stop offset="0.7994" stop-color="#fbfef8"/><stop offset="0.8160" stop-color="#fbfef8"/><stop offset="0.8160" stop-color="#fbfef8"/><stop offset="0.8326" stop-color="#fbfef8"/><stop offset="0.8326" stop-color="#fbfef8"/><stop offset="0.8492" stop-color="#fbfef8"/><stop offset="0.8492" stop-color="#fbfef8"/><stop offset="0.8658" stop-color="#fbfef8"/><stop offset="0.8658" stop-color="#fbfef8"/><stop offset="0.8824" stop-color="#fbfef8"/><stop offset="0.8824" stop-color="#fbfef8"/><stop offset="0.8990" stop-color="#fbfef8"/><stop offset="0.8990" stop-color="#fbfef8"/><stop offset="0.9156" stop-color="#fbfef8"/><stop offset="0.9156" stop-color="#fbfef8"/><stop offset="0.9322" stop-color="#fbfef8"/><stop offset="0.9322" stop-color="#fbfef8"/><stop offset="0.9488" stop-color="#fbfef8"/><stop offset="0.9488" stop-color="#fbfef8"/><stop offset="0.9654" stop-color="#fbfef8"/><stop offset="0.9654" stop-color="#fbfef8"/><stop offset="0.9820" stop-color="#fbfef8"/><stop offset="0.9820" stop-color="#fbfef8"/><stop offset="0.9986" stop-color="#fbfef8"/><stop offset="0.9986" stop-color="#fbfef8"/><stop offset="1.0000" stop-color="#fbfef8"/></linearGradient><linearGradient id="gr8" gradientUnits="userSpaceOnUse" x1="404.90" y1="0" x2="714.40" y2="0"><stop offset="0.0000" stop-color="#fbfef8"/><stop offset="0.0024" stop-color="#fbfef8"/><stop offset="0.0024" stop-color="#fbfef8"/><stop offset="0.0190" stop-color="#fbfef8"/><stop offset="0.0190" stop-color="#fbfef8"/><stop offset="0.0356" stop-color="#fbfef8"/><stop offset="0.0356" stop-color="#fbfef8"/><stop offset="0.0522" stop-color="#fbfef8"/><stop offset="0.0522" stop-color="#fbfef8"/><stop offset="0.0688" stop-color="#fbfef8"/><stop offset="0.0688" stop-color="#fbfef8"/><stop offset="0.0854" stop-color="#fbfef8"/><stop offset="0.0854" stop-color="#fbfef8"/><stop offset="0.1020" stop-color="#fbfef8"/><stop offset="0.1020" stop-color="#fbfef8"/><stop offset="0.1186" stop-color="#fbfef8"/><stop offset="0.1186" stop-color="#fbfef8"/><stop offset="0.1352" stop-color="#fbfef8"/><stop offset="0.1352" stop-color="#fbfef8"/><stop offset="0.1518" stop-color="#fbfef8"/><stop offset="0.1518" stop-color="#fbfef8"/><stop offset="0.1684" stop-color="#fbfef8"/><stop offset="0.1684" stop-color="#fbfef8"/><stop offset="0.1850" stop-color="#fbfef8"/><stop offset="0.1850" stop-color="#fbfef8"/><stop offset="0.2016" stop-color="#fbfef8"/><stop offset="0.2016" stop-color="#fbfef8"/><stop offset="0.2182" stop-color="#fbfef8"/><stop offset="0.2182" stop-color="#fbfef8"/><stop offset="0.2348" stop-color="#fbfef8"/><stop offset="0.2348" stop-color="#fbfef8"/><stop offset="0.2514" stop-color="#fbfef8"/><stop offset="0.2514" stop-color="#fbfef8"/><stop offset="0.2680" stop-color="#fbfef8"/><stop offset="0.2680" stop-color="#fbfef8"/><stop offset="0.2846" stop-color="#fbfef8"/><stop offset="0.2846" stop-color="#fbfef8"/><stop offset="0.3013" stop-color="#fbfef8"/><stop offset="0.3013" stop-color="#fbfef8"/><stop offset="0.3179" stop-color="#fbfef8"/><stop offset="0.3179" stop-color="#fbfef8"/><stop offset="0.3345" stop-color="#fbfef8"/><stop offset="0.3345" stop-color="#fbfef8"/><stop offset="0.3511" stop-color="#fbfef8"/><stop offset="0.3511" stop-color="#fbfef8"/><stop offset="0.3677" stop-color="#fbfef8"/><stop offset="0.3677" stop-color="#fbfef8"/><stop offset="0.3843" stop-color="#fbfef8"/><stop offset="0.3843" stop-color="#fbfef8"/><stop offset="0.4009" stop-color="#fbfef8"/><stop offset="0.4009" stop-color="#fbfef8"/><stop offset="0.4175" stop-color="#fbfef8"/><stop offset="0.4175" stop-color="#fbfef8"/><stop offset="0.4341" stop-color="#fbfef8"/><stop offset="0.4341" stop-color="#fbfef8"/><stop offset="0.4507" stop-color="#fbfef8"/><stop offset="0.4507" stop-color="#fbfef8"/><stop offset="0.4673" stop-color="#fbfef8"/><stop offset="0.4673" stop-color="#fbfef8"/><stop offset="0.4839" stop-color="#fbfef8"/><stop offset="0.4839" stop-color="#fbfef8"/><stop offset="0.5005" stop-color="#fbfef8"/><stop offset="0.5005" stop-color="#fbfef8"/><stop offset="0.5171" stop-color="#fbfef8"/><stop offset="0.5171" stop-color="#fbfef8"/><stop offset="0.5337" stop-color="#fbfef8"/><stop offset="0.5337" stop-color="#fbfef8"/><stop offset="0.5503" stop-color="#fbfef8"/><stop offset="0.5503" stop-color="#fbfef8"/><stop offset="0.5669" stop-color="#fbfef8"/><stop offset="0.5669" stop-color="#fbfef8"/><stop offset="0.5835" stop-color="#fbfef8"/><stop offset="0.5835" stop-color="#fbfef8"/><stop offset="0.6001" stop-color="#fbfef8"/><stop offset="0.6001" stop-color="#fbfef8"/><stop offset="0.6167" stop-color="#fbfef8"/><stop offset="0.6167" stop-color="#fbfef8"/><stop offset="0.6333" stop-color="#fbfef8"/><stop offset="0.6333" stop-color="#fbfef8"/><stop offset="0.6499" stop-color="#fbfef8"/><stop offset="0.6499" stop-color="#fbfef8"/><stop offset="0.6665" stop-color="#fbfef8"/><stop offset="0.6665" stop-color="#fbfef8"/><stop offset="0.6831" stop-color="#fbfef8"/><stop offset="0.6831" stop-color="#fbfef8"/><stop offset="0.6998" stop-color="#fbfef8"/><stop offset="0.6998" stop-color="#fbfef8"/><stop offset="0.7164" stop-color="#fbfef8"/><stop offset="0.7164" stop-color="#fbfef8"/><stop offset="0.7330" stop-color="#fbfef8"/><stop offset="0.7330" stop-color="#fbfef8"/><stop offset="0.7496" stop-color="#fbfef8"/><stop offset="0.7496" stop-color="#fbfef8"/><stop offset="0.7662" stop-color="#fbfef8"/><stop offset="0.7662" stop-color="#fbfef8"/><stop offset="0.7828" stop-color="#fbfef8"/><stop offset="0.7828" stop-color="#fbfef8"/><stop offset="0.7994" stop-color="#fbfef8"/><stop offset="0.7994" stop-color="#fbfef8"/><stop offset="0.8160" stop-color="#fbfef8"/><stop offset="0.8160" stop-color="#fbfef8"/><stop offset="0.8326" stop-color="#fbfef8"/><stop offset="0.8326" stop-color="#fbfef8"/><stop offset="0.8492" stop-color="#fbfef8"/><stop offset="0.8492" stop-color="#fbfef8"/><stop offset="0.8658" stop-color="#fbfef8"/><stop offset="0.8658" stop-color="#fbfef8"/><stop offset="0.8824" stop-color="#fbfef8"/><stop offset="0.8824" stop-color="#fbfef8"/><stop offset="0.8990" stop-color="#fbfef8"/><stop offset="0.8990" stop-color="#fbfef8"/><stop offset="0.9156" stop-color="#fbfef8"/><stop offset="0.9156" stop-color="#fbfef8"/><stop offset="0.9322" stop-color="#fbfef8"/><stop offset="0.9322" stop-color="#fbfef8"/><stop offset="0.9488" stop-color="#fbfef8"/><stop offset="0.9488" stop-color="#fbfef8"/><stop offset="0.9654" stop-color="#fbfef8"/><stop offset="0.9654" stop-color="#fbfef8"/><stop offset="0.9820" stop-color="#fbfef8"/><stop offset="0.9820" stop-color="#fbfef8"/><stop offset="0.9986" stop-color="#fbfef8"/><stop offset="0.9986" stop-color="#fbfef8"/><stop offset="1.0000" stop-color="#fbfef8"/></linearGradient></defs><rect width="718" height="309" fill="#fff"/><g clip-path="url(#cl)"><g shape-rendering="crispEdges"><rect x="38.5" y="5" width="309.9" height="2" fill="url(#gl0)"/><rect x="38.5" y="7" width="309.9" height="2" fill="url(#gl1)"/><rect x="38.5" y="9" width="309.9" height="2" fill="url(#gl2)"/><rect x="38.5" y="11" width="309.9" height="2" fill="url(#gl3)"/><rect x="38.5" y="13" width="309.9" height="2" fill="url(#gl4)"/><rect x="38.5" y="15" width="309.9" height="2" fill="url(#gl5)"/><rect x="38.5" y="17" width="309.9" height="2" fill="url(#gl6)"/><rect x="38.5" y="19" width="309.9" height="2" fill="url(#gl7)"/><rect x="38.5" y="21" width="309.9" height="2" fill="url(#gl8)"/><rect x="38.5" y="23" width="309.9" height="2" fill="url(#gl9)"/><rect x="38.5" y="25" width="309.9" height="2" fill="url(#gl10)"/><rect x="38.5" y="27" width="309.9" height="2" fill="url(#gl11)"/><rect x="38.5" y="29" width="309.9" height="2" fill="url(#gl12)"/><rect x="38.5" y="31" width="309.9" height="2" fill="url(#gl13)"/><rect x="38.5" y="33" width="309.9" height="2" fill="url(#gl14)"/><rect x="38.5" y="35" width="309.9" height="2" fill="url(#gl15)"/><rect x="38.5" y="37" width="309.9" height="2" fill="url(#gl16)"/><rect x="38.5" y="39" width="309.9" height="2" fill="url(#gl17)"/><rect x="38.5" y="41" width="309.9" height="2" fill="url(#gl18)"/><rect x="38.5" y="43" width="309.9" height="2" fill="url(#gl19)"/><rect x="38.5" y="45" width="309.9" height="2" fill="url(#gl20)"/><rect x="38.5" y="47" width="309.9" height="2" fill="url(#gl21)"/><rect x="38.5" y="49" width="309.9" height="2" fill="url(#gl22)"/><rect x="38.5" y="51" width="309.9" height="2" fill="url(#gl23)"/><rect x="38.5" y="53" width="309.9" height="2" fill="url(#gl24)"/><rect x="38.5" y="55" width="309.9" height="2" fill="url(#gl25)"/><rect x="38.5" y="57" width="309.9" height="2" fill="url(#gl26)"/><rect x="38.5" y="59" width="309.9" height="2" fill="url(#gl27)"/><rect x="38.5" y="61" width="309.9" height="2" fill="url(#gl28)"/><rect x="38.5" y="63" width="309.9" height="2" fill="url(#gl29)"/><rect x="38.5" y="65" width="309.9" height="2" fill="url(#gl30)"/><rect x="38.5" y="67" width="309.9" height="2" fill="url(#gl31)"/><rect x="38.5" y="69" width="309.9" height="2" fill="url(#gl32)"/><rect x="38.5" y="71" width="309.9" height="2" fill="url(#gl33)"/><rect x="38.5" y="73" width="309.9" height="2" fill="url(#gl34)"/><rect x="38.5" y="75" width="309.9" height="2" fill="url(#gl35)"/><rect x="38.5" y="77" width="309.9" height="2" fill="url(#gl36)"/><rect x="38.5" y="79" width="309.9" height="2" fill="url(#gl37)"/><rect x="38.5" y="81" width="309.9" height="2" fill="url(#gl38)"/><rect x="38.5" y="83" width="309.9" height="2" fill="url(#gl39)"/><rect x="38.5" y="85" width="309.9" height="2" fill="url(#gl40)"/><rect x="38.5" y="87" width="309.9" height="2" fill="url(#gl41)"/><rect x="38.5" y="89" width="309.9" height="2" fill="url(#gl42)"/><rect x="38.5" y="91" width="309.9" height="2" fill="url(#gl43)"/><rect x="38.5" y="93" width="309.9" height="2" fill="url(#gl44)"/><rect x="38.5" y="95" width="309.9" height="2" fill="url(#gl45)"/><rect x="38.5" y="97" width="309.9" height="2" fill="url(#gl46)"/><rect x="38.5" y="99" width="309.9" height="2" fill="url(#gl47)"/><rect x="38.5" y="101" width="309.9" height="2" fill="url(#gl48)"/><rect x="38.5" y="103" width="309.9" height="2" fill="url(#gl49)"/><rect x="38.5" y="105" width="309.9" height="2" fill="url(#gl50)"/><rect x="38.5" y="107" width="309.9" height="2" fill="url(#gl51)"/><rect x="38.5" y="109" width="309.9" height="2" fill="url(#gl52)"/><rect x="38.5" y="111" width="309.9" height="2" fill="url(#gl53)"/><rect x="38.5" y="113" width="309.9" height="2" fill="url(#gl54)"/><rect x="38.5" y="115" width="309.9" height="2" fill="url(#gl55)"/><rect x="38.5" y="117" width="309.9" height="2" fill="url(#gl56)"/><rect x="38.5" y="119" width="309.9" height="2" fill="url(#gl57)"/><rect x="38.5" y="121" width="309.9" height="2" fill="url(#gl58)"/><rect x="38.5" y="123" width="309.9" height="2" fill="url(#gl59)"/><rect x="38.5" y="125" width="309.9" height="2" fill="url(#gl60)"/><rect x="38.5" y="127" width="309.9" height="2" fill="url(#gl61)"/><rect x="38.5" y="129" width="309.9" height="2" fill="url(#gl62)"/><rect x="38.5" y="131" width="309.9" height="2" fill="url(#gl63)"/><rect x="38.5" y="133" width="309.9" height="2" fill="url(#gl64)"/><rect x="38.5" y="135" width="309.9" height="2" fill="url(#gl65)"/><rect x="38.5" y="137" width="309.9" height="2" fill="url(#gl66)"/><rect x="38.5" y="139" width="309.9" height="2" fill="url(#gl67)"/><rect x="38.5" y="141" width="309.9" height="2" fill="url(#gl68)"/><rect x="38.5" y="143" width="309.9" height="2" fill="url(#gl69)"/><rect x="38.5" y="145" width="309.9" height="2" fill="url(#gl70)"/><rect x="38.5" y="147" width="309.9" height="2" fill="url(#gl71)"/><rect x="38.5" y="149" width="309.9" height="2" fill="url(#gl72)"/><rect x="38.5" y="151" width="309.9" height="2" fill="url(#gl73)"/><rect x="38.5" y="153" width="309.9" height="2" fill="url(#gl74)"/><rect x="38.5" y="155" width="309.9" height="2" fill="url(#gl75)"/><rect x="38.5" y="157" width="309.9" height="2" fill="url(#gl76)"/><rect x="38.5" y="159" width="309.9" height="2" fill="url(#gl77)"/><rect x="38.5" y="161" width="309.9" height="2" fill="url(#gl78)"/><rect x="38.5" y="163" width="309.9" height="2" fill="url(#gl79)"/><rect x="38.5" y="165" width="309.9" height="2" fill="url(#gl80)"/><rect x="38.5" y="167" width="309.9" height="2" fill="url(#gl81)"/><rect x="38.5" y="169" width="309.9" height="2" fill="url(#gl82)"/><rect x="38.5" y="171" width="309.9" height="2" fill="url(#gl83)"/><rect x="38.5" y="173" width="309.9" height="2" fill="url(#gl84)"/><rect x="38.5" y="175" width="309.9" height="2" fill="url(#gl85)"/><rect x="38.5" y="177" width="309.9" height="2" fill="url(#gl86)"/><rect x="38.5" y="179" width="309.9" height="2" fill="url(#gl87)"/><rect x="38.5" y="181" width="309.9" height="2" fill="url(#gl88)"/><rect x="38.5" y="183" width="309.9" height="2" fill="url(#gl89)"/><rect x="38.5" y="185" width="309.9" height="2" fill="url(#gl90)"/><rect x="38.5" y="187" width="309.9" height="2" fill="url(#gl91)"/><rect x="38.5" y="189" width="309.9" height="2" fill="url(#gl92)"/><rect x="38.5" y="191" width="309.9" height="2" fill="url(#gl93)"/><rect x="38.5" y="193" width="309.9" height="2" fill="url(#gl94)"/><rect x="38.5" y="195" width="309.9" height="2" fill="url(#gl95)"/><rect x="38.5" y="197" width="309.9" height="2" fill="url(#gl96)"/><rect x="38.5" y="199" width="309.9" height="2" fill="url(#gl97)"/><rect x="38.5" y="201" width="309.9" height="2" fill="url(#gl98)"/><rect x="38.5" y="203" width="309.9" height="2" fill="url(#gl99)"/><rect x="38.5" y="205" width="309.9" height="2" fill="url(#gl100)"/><rect x="38.5" y="207" width="309.9" height="2" fill="url(#gl101)"/><rect x="38.5" y="209" width="309.9" height="2" fill="url(#gl102)"/><rect x="38.5" y="211" width="309.9" height="2" fill="url(#gl103)"/><rect x="38.5" y="213" width="309.9" height="2" fill="url(#gl104)"/><rect x="38.5" y="215" width="309.9" height="2" fill="url(#gl105)"/><rect x="38.5" y="217" width="309.9" height="2" fill="url(#gl106)"/><rect x="38.5" y="219" width="309.9" height="2" fill="url(#gl107)"/><rect x="38.5" y="221" width="309.9" height="2" fill="url(#gl108)"/><rect x="38.5" y="223" width="309.9" height="2" fill="url(#gl109)"/><rect x="38.5" y="225" width="309.9" height="2" fill="url(#gl110)"/><rect x="38.5" y="227" width="309.9" height="2" fill="url(#gl111)"/><rect x="38.5" y="229" width="309.9" height="2" fill="url(#gl112)"/><rect x="38.5" y="231" width="309.9" height="2" fill="url(#gl113)"/><rect x="38.5" y="233" width="309.9" height="2" fill="url(#gl114)"/><rect x="38.5" y="235" width="309.9" height="2" fill="url(#gl115)"/><rect x="38.5" y="237" width="309.9" height="2" fill="url(#gl116)"/><rect x="38.5" y="239" width="309.9" height="2" fill="url(#gl117)"/><rect x="38.5" y="241" width="309.9" height="2" fill="url(#gl118)"/><rect x="38.5" y="243" width="309.9" height="2" fill="url(#gl119)"/><rect x="38.5" y="245" width="309.9" height="2" fill="url(#gl120)"/><rect x="38.5" y="247" width="309.9" height="2" fill="url(#gl121)"/><rect x="38.5" y="249" width="309.9" height="2" fill="url(#gl122)"/><rect x="38.5" y="251" width="309.9" height="2" fill="url(#gl123)"/><rect x="38.5" y="253" width="309.9" height="2" fill="url(#gl124)"/><rect x="38.5" y="255" width="309.9" height="2" fill="url(#gl125)"/><rect x="38.5" y="257" width="309.9" height="2" fill="url(#gl126)"/><rect x="38.5" y="259" width="309.9" height="2" fill="url(#gl127)"/><rect x="38.5" y="261" width="309.9" height="2" fill="url(#gl128)"/><rect x="38.5" y="263" width="309.9" height="2" fill="url(#gl129)"/><rect x="38.5" y="265" width="309.9" height="2" fill="url(#gl130)"/><rect x="38.5" y="267" width="309.9" height="2" fill="url(#gl131)"/><rect x="38.5" y="269" width="309.9" height="2" fill="url(#gl132)"/><rect x="38.5" y="271" width="309.9" height="2" fill="url(#gl133)"/><rect x="38.5" y="273" width="309.9" height="2" fill="url(#gl134)"/><rect x="38.5" y="275" width="309.9" height="2" fill="url(#gl135)"/></g><g fill="none" stroke="#5c5c5c" stroke-width="1.20" stroke-linejoin="round"><path d="M91.75,37.49 C91.79,41.24 91.89,52.91 92.00,60.00 C92.11,67.08 92.18,74.17 92.40,80.00 C92.62,85.83 92.93,90.33 93.30,95.00 C93.67,99.67 94.10,103.83 94.60,108.00 C95.10,112.17 95.63,114.67 96.30,120.00 C96.97,125.33 97.57,134.02 98.60,140.00 C99.63,145.98 101.10,151.37 102.50,155.90 C103.90,160.43 105.30,163.05 107.00,167.20 C108.70,171.35 110.62,176.27 112.70,180.80 C114.78,185.33 117.40,190.72 119.50,194.40 C121.60,198.08 123.40,199.97 125.30,202.90 C127.20,205.83 129.20,209.53 130.90,212.00 C132.60,214.47 132.85,215.25 135.50,217.70 C138.15,220.15 142.65,223.68 146.80,226.70 C150.95,229.72 155.12,232.77 160.40,235.80 C165.68,238.83 172.23,242.07 178.50,244.90 C184.77,247.73 192.68,250.90 198.00,252.80 C203.32,254.70 203.40,254.68 210.40,256.30 C217.40,257.92 232.13,260.88 240.00,262.50 C247.87,264.12 250.93,264.83 257.60,266.00 C264.27,267.17 272.93,268.53 280.00,269.50 C287.07,270.47 293.33,271.05 300.00,271.80 C306.67,272.55 314.17,273.30 320.00,274.00 C325.83,274.70 330.83,275.42 335.00,276.00 C339.17,276.58 343.33,277.25 345.00,277.50"/><polyline points="118.5,5.3 118.7,53.3"/><path d="M120.00,107.49 C120.33,110.41 121.33,119.58 122.00,125.00 C122.67,130.42 123.28,134.85 124.00,140.00 C124.72,145.15 125.17,150.98 126.30,155.90 C127.43,160.82 129.10,164.60 130.80,169.50 C132.50,174.40 134.22,178.97 136.50,185.30 C138.78,191.63 142.03,202.30 144.50,207.50 C146.97,212.70 147.90,213.10 151.30,216.50 C154.70,219.90 159.62,224.12 164.90,227.90 C170.18,231.68 177.48,236.00 183.00,239.20 C188.52,242.40 194.27,245.30 198.00,247.10 C201.73,248.90 198.40,248.05 205.40,250.00 C212.40,251.95 231.30,256.63 240.00,258.80 C248.70,260.97 250.93,261.63 257.60,263.00 C264.27,264.37 272.93,265.83 280.00,267.00 C287.07,268.17 293.33,269.08 300.00,270.00 C306.67,270.92 314.17,271.67 320.00,272.50 C325.83,273.33 330.83,274.17 335.00,275.00 C339.17,275.83 343.33,277.08 345.00,277.50"/><path d="M193.10,37.49 C193.18,42.91 193.37,57.91 193.60,70.00 C193.83,82.08 194.32,98.33 194.50,110.00 C194.68,121.67 194.18,131.98 194.70,140.00 C195.22,148.02 196.25,151.43 197.60,158.10 C198.95,164.77 201.50,175.27 202.80,180.00 C204.10,184.73 204.43,183.92 205.40,186.50 C206.37,189.08 207.32,192.48 208.60,195.50 C209.88,198.52 211.58,201.78 213.10,204.60 C214.62,207.42 216.08,209.92 217.70,212.40 C219.32,214.88 221.00,217.47 222.80,219.50 C224.60,221.53 225.82,222.45 228.50,224.60 C231.18,226.75 235.67,230.02 238.90,232.40 C242.13,234.78 243.27,235.97 247.90,238.90 C252.53,241.83 260.35,246.90 266.70,250.00 C273.05,253.10 279.03,254.95 286.00,257.50 C292.97,260.05 302.90,263.18 308.50,265.30 C314.10,267.42 317.05,268.80 319.60,270.20 C322.15,271.60 322.87,272.48 323.80,273.70 C324.73,274.92 324.97,276.87 325.20,277.50"/><polyline points="216.0,5.3 216.0,65.0"/><path d="M216.80,119.49 C216.90,122.91 216.82,133.56 217.40,140.00 C217.98,146.44 218.87,151.68 220.30,158.10 C221.73,164.52 224.12,172.45 226.00,178.50 C227.88,184.55 229.88,189.32 231.60,194.40 C233.32,199.48 234.23,205.05 236.30,209.00 C238.37,212.95 240.98,215.07 244.00,218.10 C247.02,221.13 250.28,223.73 254.40,227.20 C258.52,230.67 263.87,235.10 268.70,238.90 C273.53,242.70 277.23,246.30 283.40,250.00 C289.57,253.70 299.67,258.20 305.70,261.10 C311.73,264.00 315.88,265.53 319.60,267.40 C323.32,269.27 325.67,270.62 328.00,272.30 C330.33,273.98 332.67,276.63 333.60,277.50"/><path d="M271.75,37.49 C271.88,46.24 272.29,72.92 272.50,90.00 C272.71,107.08 272.45,128.17 273.00,140.00 C273.55,151.83 274.63,154.00 275.80,161.00 C276.97,168.00 277.95,174.20 280.00,182.00 C282.05,189.80 285.88,201.78 288.10,207.80 C290.32,213.82 291.13,214.65 293.30,218.10 C295.47,221.55 298.52,224.93 301.10,228.50 C303.68,232.07 306.17,235.92 308.80,239.50 C311.43,243.08 313.70,246.40 316.90,250.00 C320.10,253.60 324.75,257.62 328.00,261.10 C331.25,264.58 334.78,268.17 336.40,270.90 C338.02,273.63 337.48,276.40 337.70,277.50"/><polyline points="300.0,5.3 300.0,53.3"/><path d="M300.75,107.49 C300.82,112.91 300.81,131.08 301.20,140.00 C301.59,148.92 302.33,154.00 303.10,161.00 C303.87,168.00 304.92,175.50 305.80,182.00 C306.68,188.50 307.68,195.27 308.40,200.00 C309.12,204.73 309.17,206.95 310.10,210.40 C311.03,213.85 312.48,217.47 314.00,220.70 C315.52,223.93 317.25,226.78 319.20,229.80 C321.15,232.82 323.53,235.43 325.70,238.80 C327.87,242.17 329.97,245.82 332.20,250.00 C334.43,254.18 337.47,259.32 339.10,263.90 C340.73,268.48 341.52,275.23 342.00,277.50"/><path d="M320.20,5.30 C320.25,21.08 320.30,77.55 320.50,100.00 C320.70,122.45 321.23,128.87 321.40,140.00 C321.57,151.13 321.48,162.34 321.50,166.81"/><path d="M328.30,219.99 C328.87,221.66 330.63,226.87 331.70,230.00 C332.77,233.13 333.23,235.47 334.70,238.80 C336.17,242.13 338.90,246.13 340.50,250.00 C342.10,253.87 343.37,258.75 344.30,262.00 C345.23,265.25 345.65,266.92 346.10,269.50 C346.55,272.08 346.85,276.17 347.00,277.50"/><path d="M338.60,37.49 C338.62,47.91 338.67,82.92 338.70,100.00 C338.73,117.08 338.60,128.08 338.80,140.00 C339.00,151.92 339.53,160.67 339.90,171.50 C340.27,182.33 340.57,198.08 341.00,205.00 C341.43,211.92 341.93,209.52 342.50,213.00 C343.07,216.48 343.75,221.60 344.40,225.90 C345.05,230.20 345.80,234.78 346.40,238.80 C347.00,242.82 347.73,248.13 348.00,250.00"/><polyline points="38.5,202.5 39.1,202.9 42.5,206.3 47.1,209.1 51.6,213.1 65.2,219.9 81.1,226.3 87.9,230.8 106.0,236.9 124.1,242.1 130.9,244.9 135.5,247.6 151.3,251.7 164.9,255.7 178.5,259.6 198.0,263.0 215.4,266.3 224.2,267.0 224.6,270.3 243.0,270.8"/><polyline points="124.2,276.4 180.0,276.2 240.0,275.4 260.0,275.0"/><polyline points="288.5,271.5 299.0,272.3 302.2,275.5 306.0,276.2"/></g></g><g clip-path="url(#cr)" shape-rendering="crispEdges"><rect x="404.9" y="5.50" width="309.5" height="30.21" fill="url(#gr0)"/><rect x="404.9" y="35.70" width="309.5" height="30.21" fill="url(#gr1)"/><rect x="404.9" y="65.90" width="309.5" height="30.21" fill="url(#gr2)"/><rect x="404.9" y="96.10" width="309.5" height="30.21" fill="url(#gr3)"/><rect x="404.9" y="126.30" width="309.5" height="30.21" fill="url(#gr4)"/><rect x="404.9" y="156.50" width="309.5" height="30.21" fill="url(#gr5)"/><rect x="404.9" y="186.70" width="309.5" height="30.21" fill="url(#gr6)"/><rect x="404.9" y="216.90" width="309.5" height="30.21" fill="url(#gr7)"/><rect x="404.9" y="247.10" width="309.5" height="30.21" fill="url(#gr8)"/></g><g clip-path="url(#cr)" fill="none" stroke="#5c5c5c" stroke-width="1.20" stroke-linejoin="round"><polyline points="463.5,5.5 477.0,12.5 490.6,15.4 506.5,21.5 513.3,27.2 517.8,29.5 522.4,35.1 533.7,38.1 540.0,40.0 559.0,49.0 566.0,56.0 573.0,65.5"/><polyline points="617.0,79.7 620.0,83.2 626.8,95.6 640.4,99.5 650.2,102.6 656.0,108.5 661.9,117.2 665.8,125.0 667.7,126.9 677.4,129.8 685.2,134.7 688.1,140.5 690.0,150.0 692.0,154.7 700.7,160.5 704.6,166.4 708.5,183.9 714.4,189.7"/><polyline points="404.9,18.8 420.4,18.9 434.0,23.3 447.6,26.7 461.2,32.9 472.5,40.3 490.6,47.6 508.8,54.4 520.0,59.5 533.7,67.0 544.6,72.0"/><polyline points="586.0,88.8 590.0,92.0 599.7,97.8 609.4,105.5 623.0,111.4 634.7,117.2 640.5,121.1 646.3,127.9 652.2,133.7 661.9,138.6 669.6,142.4 675.5,149.9 681.3,159.6 689.1,170.3 695.9,177.1 700.7,185.8 704.6,193.6 712.4,205.0 714.4,208.0"/><polyline points="404.9,55.5 420.4,55.5 434.0,59.4 461.2,65.7 468.0,69.1 490.6,79.3 520.0,90.0 545.9,96.0"/><polyline points="586.3,119.4 590.0,120.1 601.7,123.0 612.3,125.4 619.1,134.7 628.9,144.4 630.8,145.0 640.5,148.9 659.9,155.7 663.8,158.6 667.7,168.3 673.5,176.1 681.3,180.9 691.0,185.4 693.9,191.6 697.8,205.0 698.8,207.8 706.6,216.8 710.5,223.3 713.1,233.7 714.4,238.0"/><polyline points="404.9,102.5 420.4,102.5 430.6,109.3 449.9,116.1 472.5,121.7 495.2,124.0 520.1,125.1 545.3,126.0 549.2,135.0"/><polyline points="587.2,155.2 603.8,156.4 610.4,173.2 619.1,180.0 632.7,183.9 648.3,185.4 661.9,186.2 665.8,195.5 667.7,200.0 675.5,209.1 683.3,214.3 696.2,216.1 700.1,216.8 704.0,231.1 709.2,245.3 714.4,246.6"/><polyline points="569.2,5.5 575.1,35.1 577.5,35.5"/><polyline points="623.4,35.6 641.5,35.7 647.2,65.1 667.5,65.1 672.5,95.6 687.9,95.6 693.0,126.0 708.9,126.0 713.4,150.0 714.4,155.0"/><polyline points="404.9,222.8 470.0,223.1 536.2,223.6"/><polyline points="582.0,224.3 640.0,225.8 667.7,226.7 697.5,227.2 704.0,246.6 714.4,246.6"/><polyline points="404.9,260.1 536.2,259.4"/><polyline points="582.0,259.4 640.0,258.7 680.7,257.5 704.0,256.5 711.8,254.4 714.4,253.9"/></g><g clip-path="url(#cl)" stroke="#303030" stroke-width="0.15"><text transform="translate(91.10 20.60) rotate(-90.0)" x="0" y="5.51" font-size="15.40" text-anchor="middle" fill="#303030" >0.00</text><text transform="translate(118.40 81.80) rotate(-90.0)" x="0" y="5.51" font-size="15.40" text-anchor="middle" fill="#303030" >0.0100</text><text transform="translate(193.00 20.60) rotate(-90.0)" x="0" y="5.51" font-size="15.40" text-anchor="middle" fill="#303030" >0.06</text><text transform="translate(215.00 93.50) rotate(-90.0)" x="0" y="5.51" font-size="15.40" text-anchor="middle" fill="#303030" >0.1000</text><text transform="translate(270.80 21.20) rotate(-90.0)" x="0" y="5.51" font-size="15.40" text-anchor="middle" fill="#303030" >0.30</text><text transform="translate(299.40 82.60) rotate(-90.0)" x="0" y="5.51" font-size="15.40" text-anchor="middle" fill="#303030" >0.5000</text><text transform="translate(324.00 195.00) rotate(-82.6)" x="0" y="5.51" font-size="15.40" text-anchor="middle" fill="#303030" >0.7000</text><text transform="translate(337.90 21.00) rotate(-90.0)" x="0" y="5.51" font-size="15.40" text-anchor="middle" fill="#303030" >0.90</text><text x="97.50" y="282.01" font-size="15.40" text-anchor="middle" fill="#303030" >0.0010</text><text x="265.50" y="282.01" font-size="15.40" text-anchor="middle" fill="#303030" >0.0010</text></g><g stroke="#303030" stroke-width="0.15"><text x="600.60" y="40.01" font-size="15.40" text-anchor="middle" fill="#303030" >1.000</text><text transform="translate(595.00 69.50) rotate(18.0)" x="0" y="5.51" font-size="15.40" text-anchor="middle" fill="#303030" >0.900</text><text transform="translate(564.80 79.90) rotate(18.5)" x="0" y="5.51" font-size="15.40" text-anchor="middle" fill="#303030" >0.500</text><text transform="translate(564.60 109.30) rotate(25.0)" x="0" y="5.51" font-size="15.40" text-anchor="middle" fill="#303030" >0.100</text><text transform="translate(565.00 150.70) rotate(24.7)" x="0" y="5.51" font-size="15.40" text-anchor="middle" fill="#303030" >0.001</text><text x="559.50" y="227.91" font-size="15.40" text-anchor="middle" fill="#303030" >0.000</text><text x="559.50" y="263.71" font-size="15.40" text-anchor="middle" fill="#303030" >0.000</text></g><g fill="none" stroke="#8a8a8a" stroke-width="1"><rect x="38.5" y="5.3" width="309.9" height="271.6"/><rect x="404.9" y="5.5" width="309.5" height="271.4"/></g><g stroke="#444" stroke-width="0.9"><line x1="53.70" y1="276.9" x2="53.70" y2="279.4"/><line x1="435.70" y1="276.9" x2="435.70" y2="279.4"/><line x1="92.35" y1="276.9" x2="92.35" y2="279.4"/><line x1="474.45" y1="276.9" x2="474.45" y2="279.4"/><line x1="131.00" y1="276.9" x2="131.00" y2="279.4"/><line x1="513.20" y1="276.9" x2="513.20" y2="279.4"/><line x1="169.65" y1="276.9" x2="169.65" y2="279.4"/><line x1="551.95" y1="276.9" x2="551.95" y2="279.4"/><line x1="208.30" y1="276.9" x2="208.30" y2="279.4"/><line x1="590.70" y1="276.9" x2="590.70" y2="279.4"/><line x1="246.95" y1="276.9" x2="246.95" y2="279.4"/><line x1="629.45" y1="276.9" x2="629.45" y2="279.4"/><line x1="285.60" y1="276.9" x2="285.60" y2="279.4"/><line x1="668.20" y1="276.9" x2="668.20" y2="279.4"/><line x1="324.25" y1="276.9" x2="324.25" y2="279.4"/><line x1="706.95" y1="276.9" x2="706.95" y2="279.4"/><line x1="36.0" y1="242.30" x2="38.5" y2="242.30"/><line x1="36.0" y1="194.90" x2="38.5" y2="194.90"/><line x1="36.0" y1="147.50" x2="38.5" y2="147.50"/><line x1="36.0" y1="100.10" x2="38.5" y2="100.10"/><line x1="36.0" y1="52.70" x2="38.5" y2="52.70"/><line x1="36.0" y1="5.30" x2="38.5" y2="5.30"/><line x1="401.9" y1="269.30" x2="404.9" y2="269.30"/><line x1="401.9" y1="229.32" x2="404.9" y2="229.32"/><line x1="401.9" y1="189.34" x2="404.9" y2="189.34"/><line x1="401.9" y1="149.36" x2="404.9" y2="149.36"/><line x1="401.9" y1="109.38" x2="404.9" y2="109.38"/><line x1="401.9" y1="69.40" x2="404.9" y2="69.40"/><line x1="401.9" y1="29.42" x2="404.9" y2="29.42"/></g><text x="53.70" y="288.76" font-size="10.50" text-anchor="middle" fill="#222" stroke="#222" stroke-width="0.25">2.00</text><text x="435.70" y="288.76" font-size="10.50" text-anchor="middle" fill="#222" stroke="#222" stroke-width="0.25">2.00</text><text x="92.35" y="288.76" font-size="10.50" text-anchor="middle" fill="#222" stroke="#222" stroke-width="0.25">1.75</text><text x="474.45" y="288.76" font-size="10.50" text-anchor="middle" fill="#222" stroke="#222" stroke-width="0.25">1.75</text><text x="131.00" y="288.76" font-size="10.50" text-anchor="middle" fill="#222" stroke="#222" stroke-width="0.25">1.50</text><text x="513.20" y="288.76" font-size="10.50" text-anchor="middle" fill="#222" stroke="#222" stroke-width="0.25">1.50</text><text x="169.65" y="288.76" font-size="10.50" text-anchor="middle" fill="#222" stroke="#222" stroke-width="0.25">1.25</text><text x="551.95" y="288.76" font-size="10.50" text-anchor="middle" fill="#222" stroke="#222" stroke-width="0.25">1.25</text><text x="208.30" y="288.76" font-size="10.50" text-anchor="middle" fill="#222" stroke="#222" stroke-width="0.25">1.00</text><text x="590.70" y="288.76" font-size="10.50" text-anchor="middle" fill="#222" stroke="#222" stroke-width="0.25">1.00</text><text x="246.95" y="288.76" font-size="10.50" text-anchor="middle" fill="#222" stroke="#222" stroke-width="0.25">0.75</text><text x="629.45" y="288.76" font-size="10.50" text-anchor="middle" fill="#222" stroke="#222" stroke-width="0.25">0.75</text><text x="285.60" y="288.76" font-size="10.50" text-anchor="middle" fill="#222" stroke="#222" stroke-width="0.25">0.50</text><text x="668.20" y="288.76" font-size="10.50" text-anchor="middle" fill="#222" stroke="#222" stroke-width="0.25">0.50</text><text x="324.25" y="288.76" font-size="10.50" text-anchor="middle" fill="#222" stroke="#222" stroke-width="0.25">0.25</text><text x="706.95" y="288.76" font-size="10.50" text-anchor="middle" fill="#222" stroke="#222" stroke-width="0.25">0.25</text><text x="34.00" y="246.06" font-size="10.50" text-anchor="end" fill="#222" stroke="#222" stroke-width="0.25">2</text><text x="34.00" y="198.66" font-size="10.50" text-anchor="end" fill="#222" stroke="#222" stroke-width="0.25">4</text><text x="34.00" y="151.26" font-size="10.50" text-anchor="end" fill="#222" stroke="#222" stroke-width="0.25">6</text><text x="34.00" y="103.86" font-size="10.50" text-anchor="end" fill="#222" stroke="#222" stroke-width="0.25">8</text><text x="34.00" y="56.46" font-size="10.50" text-anchor="end" fill="#222" stroke="#222" stroke-width="0.25">10</text><text x="34.00" y="9.06" font-size="10.50" text-anchor="end" fill="#222" stroke="#222" stroke-width="0.25">12</text><text x="399.50" y="273.06" font-size="10.50" text-anchor="end" fill="#222" stroke="#222" stroke-width="0.25">4000</text><text x="399.50" y="233.08" font-size="10.50" text-anchor="end" fill="#222" stroke="#222" stroke-width="0.25">4500</text><text x="399.50" y="193.10" font-size="10.50" text-anchor="end" fill="#222" stroke="#222" stroke-width="0.25">5000</text><text x="399.50" y="153.12" font-size="10.50" text-anchor="end" fill="#222" stroke="#222" stroke-width="0.25">5500</text><text x="399.50" y="113.14" font-size="10.50" text-anchor="end" fill="#222" stroke="#222" stroke-width="0.25">6000</text><text x="399.50" y="73.16" font-size="10.50" text-anchor="end" fill="#222" stroke="#222" stroke-width="0.25">6500</text><text x="399.50" y="33.18" font-size="10.50" text-anchor="end" fill="#222" stroke="#222" stroke-width="0.25">7000</text><text x="125.8" y="304.7" font-size="13.0" fill="#111" stroke="#111" stroke-width="0.2" textLength="113.6" lengthAdjust="spacingAndGlyphs">Instellation Flux (</text><text x="239.6" y="304.7" font-size="13.0" fill="#111" stroke="#111" stroke-width="0.2" font-style="italic">I</text><circle cx="249.8" cy="304.0" r="2.3" fill="none" stroke="#2a2a2a" stroke-width="1.0"/><circle cx="249.8" cy="304.0" r="0.85" fill="#2a2a2a"/><text x="256.0" y="304.7" font-size="13.0" fill="#111" stroke="#111" stroke-width="0.2">)</text><text x="492.4" y="304.7" font-size="13.0" fill="#111" stroke="#111" stroke-width="0.2" textLength="113.6" lengthAdjust="spacingAndGlyphs">Instellation Flux (</text><text x="606.2" y="304.7" font-size="13.0" fill="#111" stroke="#111" stroke-width="0.2" font-style="italic">I</text><circle cx="616.4" cy="304.0" r="2.3" fill="none" stroke="#2a2a2a" stroke-width="1.0"/><circle cx="616.4" cy="304.0" r="0.85" fill="#2a2a2a"/><text x="622.6" y="304.7" font-size="13.0" fill="#111" stroke="#111" stroke-width="0.2">)</text><text transform="translate(369.4 226.6) rotate(-90)" x="0" y="0" font-size="13.0" fill="#111" stroke="#111" stroke-width="0.2" textLength="170.3" lengthAdjust="spacingAndGlyphs">Effective Temperature [K]</text><text transform="translate(12.8 165.9) rotate(-90)" x="0" y="0" font-size="13.5" fill="#111" stroke="#111" stroke-width="0.2" font-style="italic">R</text><text transform="translate(14.8 156.0) rotate(-90)" x="0" y="0" font-size="8.5" fill="#111" stroke="#111" stroke-width="0.2" font-style="italic">p</text><text transform="translate(12.5 147.9) rotate(-90)" x="0" y="0" font-size="13.5" fill="#111" stroke="#111" stroke-width="0.2">[</text><text transform="translate(12.8 142.6) rotate(-90)" x="0" y="0" font-size="13.5" fill="#111" stroke="#111" stroke-width="0.2" font-style="italic" textLength="8.6" lengthAdjust="spacingAndGlyphs">R</text><circle cx="11.7" cy="127.7" r="2.2" fill="none" stroke="#2a2a2a" stroke-width="0.95"/><circle cx="11.7" cy="127.7" r="0.85" fill="#2a2a2a"/><text transform="translate(12.5 120.8) rotate(-90)" x="0" y="0" font-size="13.5" fill="#111" stroke="#111" stroke-width="0.2">]</text></svg></body></html>
